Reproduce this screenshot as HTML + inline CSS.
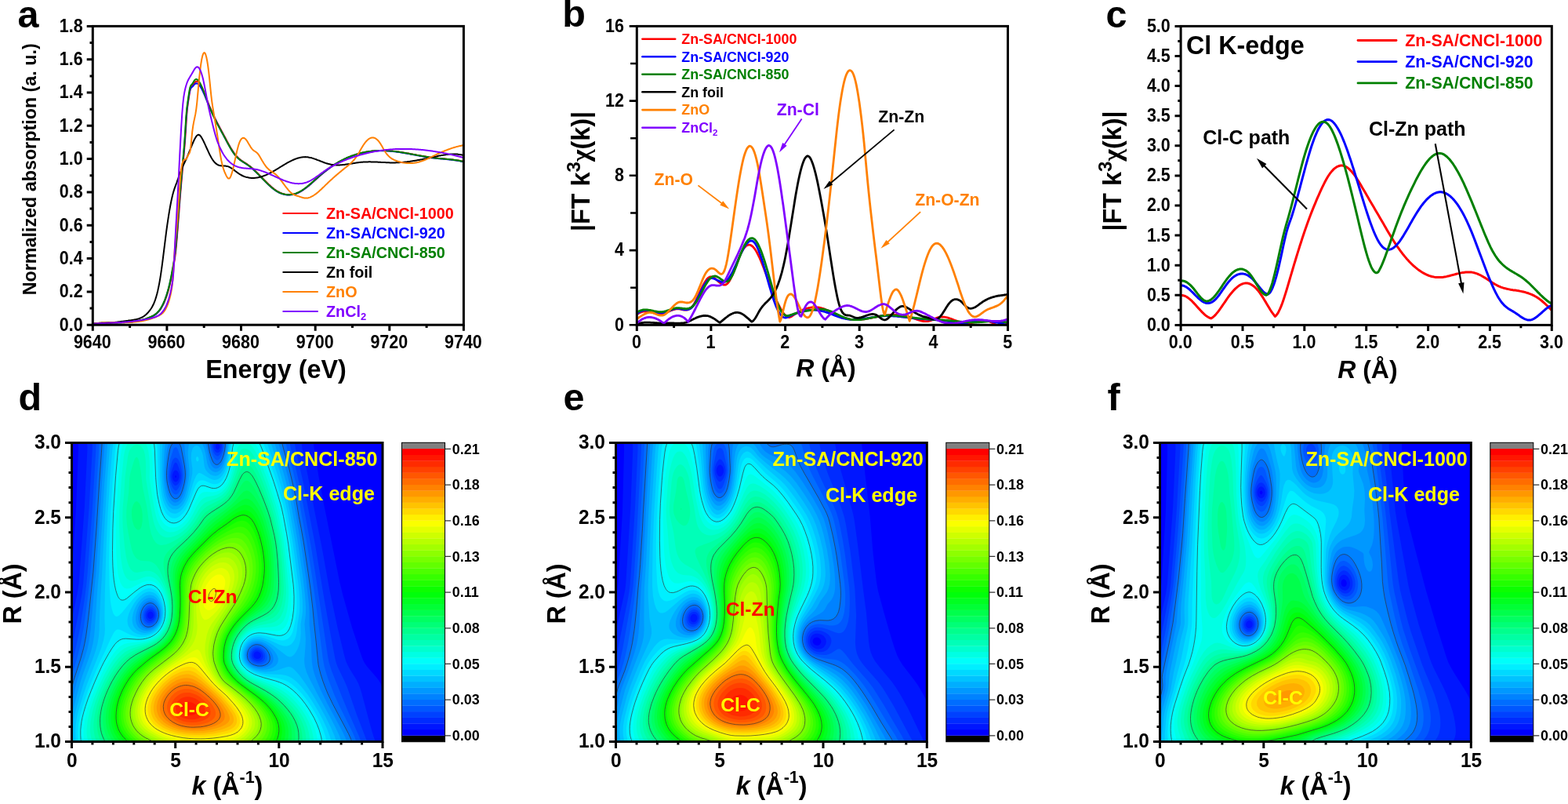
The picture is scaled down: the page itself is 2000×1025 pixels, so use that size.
<!DOCTYPE html>
<html lang="en"><head><meta charset="utf-8"><title>XANES, EXAFS and wavelet transform figure</title>
<style>
html,body{margin:0;padding:0;background:#fff}
body{width:2000px;height:1025px;overflow:hidden}
svg{display:block;font-family:"Liberation Sans",sans-serif;font-weight:bold}
</style></head><body>
<svg width="2000" height="1025" viewBox="0 0 2000 1025">
<rect width="2000" height="1025" fill="#fff"/>
<g id="pa">
<svg x="118.3" y="33.4" width="473.1" height="380.8" viewBox="118.3 33.4 473.1 380.8" overflow="hidden"><g fill="none" stroke-width="2" stroke-linejoin="round">
<path d="M118.9 412.7l1-0.1l1-0.2l1-0.1l1-0.1l1-0.1l1-0.1l1-0.1l1-0.1l1-0.1l1 0l1-0.1l1-0.1l1 0l1 0l1-0.1l1 0l1 0l1-0.1l1 0l1 0l1 0l1 0l1-0.1l1 0l1 0l1 0l1 0l1 0l1 0l1 0l1 0l1-0.1l1 0l1 0l1 0l1 0l1-0.1l1 0l1 0l1-0.1l1 0l1-0.1l1 0l1-0.1l1-0.1l1 0l1-0.1l1-0.1l1-0.1l1-0.1l1-0.1l1-0.2l1-0.1l1-0.2l1-0.1l1-0.2l1-0.2l1-0.2l1-0.2l1-0.2l1-0.2l1-0.3l1-0.2l1-0.3l1-0.3l1-0.3l1-0.3l1-0.4l1-0.3l1-0.4l1-0.4l1-0.4l1-0.4l1-0.4l1-0.5l1-0.5l1-0.5l1-0.6l1-0.7l1-0.7l1-0.8l1-0.9l1-1.1l1-1.1l1-1.2l1-1.4l1-1.6l1-1.7l1-1.9l1-2l1-2.2l1-2.5l1-2.6l1-2.9l1-3.2l1-3.4l1-3.8l1-4.1l1-4.6l1-5l1-5.4l1-5.6l1-5.4l1-6l1-7.5l1-9.8l1-11.5l1-12.7l1-13.2l1-13.2l1-12.6l1-11.9l1-11.3l1-11.1l1-10.9l1-11.1l1-11.9l1-14.8l1-16.6l1-11.5l1-7.3l1-6.7l1-6.6l1-4.9l1-2.4l1-1l1-0.9l1-1.3l1-1.5l1-1.2l1-0.7l1-0.3l1 0.2l1 0.6l1 0.9l1 1.3l1 1.6l1 1.8l1 2l1 2.2l1 2.3l1 2.5l1 2.6l1 2.6l1 2.6l1 2.6l1 2.6l1 2.5l1 2.4l1 2.3l1 2.3l1 2.2l1 2.2l1 2.1l1 2.1l1 2l1 2l1 2l1 1.9l1 1.9l1 1.9l1 1.9l1 1.8l1 1.9l1 1.8l1 1.9l1 1.9l1 1.8l1 1.9l1 1.9l1 1.9l1 1.8l1 1.9l1 1.7l1 1.8l1 1.7l1 1.6l1 1.6l1 1.5l1 1.5l1 1.3l1 1.2l1 1.2l1 1l1 1l1 0.9l1 0.8l1 0.8l1 0.8l1 0.6l1 0.7l1 0.7l1 0.6l1 0.6l1 0.6l1 0.7l1 0.7l1 0.7l1 0.7l1 0.7l1 0.8l1 0.9l1 0.8l1 0.9l1 0.9l1 1l1 0.9l1 1l1 1l1 1l1 1l1 1l1 1l1 1l1 1.1l1 1l1 1l1 1.1l1 1l1 1l1 1l1 1l1 0.9l1 1l1 0.9l1 0.9l1 0.9l1 0.9l1 0.8l1 0.8l1 0.8l1 0.7l1 0.7l1 0.7l1 0.6l1 0.6l1 0.5l1 0.5l1 0.4l1 0.4l1 0.4l1 0.3l1 0.3l1 0.3l1 0.2l1 0.1l1 0.2l1 0.1l1 0l1 0l1 0l1-0.1l1-0.1l1-0.1l1-0.2l1-0.2l1-0.3l1-0.3l1-0.3l1-0.4l1-0.4l1-0.5l1-0.4l1-0.6l1-0.5l1-0.6l1-0.6l1-0.7l1-0.7l1-0.7l1-0.7l1-0.8l1-0.8l1-0.8l1-0.8l1-0.8l1-0.9l1-0.8l1-0.9l1-0.9l1-0.9l1-0.9l1-0.9l1-0.9l1-0.9l1-0.9l1-0.9l1-0.9l1-0.9l1-0.8l1-0.9l1-0.9l1-0.8l1-0.8l1-0.8l1-0.8l1-0.8l1-0.8l1-0.7l1-0.8l1-0.7l1-0.7l1-0.7l1-0.7l1-0.7l1-0.7l1-0.6l1-0.7l1-0.6l1-0.6l1-0.6l1-0.6l1-0.6l1-0.6l1-0.5l1-0.6l1-0.5l1-0.5l1-0.5l1-0.5l1-0.5l1-0.5l1-0.4l1-0.5l1-0.4l1-0.4l1-0.4l1-0.4l1-0.4l1-0.4l1-0.4l1-0.3l1-0.4l1-0.3l1-0.3l1-0.4l1-0.3l1-0.2l1-0.3l1-0.3l1-0.3l1-0.2l1-0.3l1-0.2l1-0.2l1-0.2l1-0.2l1-0.2l1-0.2l1-0.2l1-0.1l1-0.2l1-0.1l1-0.1l1-0.2l1-0.1l1-0.1l1-0.1l1-0.1l1-0.1l1 0l1-0.1l1 0l1-0.1l1 0l1 0l1-0.1l1 0l1 0l1 0l1 0.1l1 0l1 0l1 0.1l1 0l1 0.1l1 0l1 0.1l1 0.1l1 0.1l1 0.1l1 0l1 0.2l1 0.1l1 0.1l1 0.1l1 0.1l1 0.2l1 0.1l1 0.1l1 0.2l1 0.1l1 0.2l1 0.1l1 0.2l1 0.2l1 0.1l1 0.2l1 0.2l1 0.2l1 0.1l1 0.2l1 0.2l1 0.2l1 0.2l1 0.2l1 0.1l1 0.2l1 0.2l1 0.2l1 0.2l1 0.2l1 0.2l1 0.2l1 0.1l1 0.2l1 0.2l1 0.2l1 0.2l1 0.1l1 0.2l1 0.2l1 0.2l1 0.1l1 0.2l1 0.2l1 0.1l1 0.2l1 0.1l1 0.2l1 0.1l1 0.2l1 0.1l1 0.1l1 0.1l1 0.1l1 0.2l1 0.1l1 0.1l1 0.1l1 0.1l1 0.1l1 0.1l1 0.1l1 0l1 0.1l1 0.1l1 0.1l1 0.1l1 0.1l1 0.1l1 0.1l1 0.1l1 0.1l1 0.1l1 0.1l1 0.1l1 0.1l1 0.1l1 0.1l1 0.2l1 0.1l1 0.2l1 0.1l1 0.2l1 0.1l1 0.2l1 0.2l1 0.2l1 0.2l1 0.2l1 0.2" stroke="#ff0000"/>
<path d="M118.5 413l1-0.1l1-0.1l1-0.2l1-0.1l1-0.1l1 0l1-0.1l1-0.1l1-0.1l1 0l1-0.1l1 0l1-0.1l1 0l1-0.1l1 0l1 0l1 0l1-0.1l1 0l1 0l1 0l1 0l1-0.1l1 0l1 0l1 0l1 0l1 0l1-0.1l1 0l1 0l1 0l1-0.1l1 0l1 0l1-0.1l1 0l1 0l1-0.1l1-0.1l1 0l1-0.1l1 0l1-0.1l1-0.1l1-0.1l1-0.1l1-0.1l1-0.1l1-0.2l1-0.1l1-0.1l1-0.2l1-0.1l1-0.2l1-0.2l1-0.2l1-0.2l1-0.2l1-0.3l1-0.2l1-0.3l1-0.2l1-0.3l1-0.3l1-0.3l1-0.3l1-0.4l1-0.3l1-0.4l1-0.4l1-0.4l1-0.4l1-0.4l1-0.5l1-0.5l1-0.6l1-0.6l1-0.7l1-0.8l1-1l1-1l1-1.1l1-1.3l1-1.4l1-1.6l1-1.7l1-1.9l1-2.1l1-2.4l1-2.5l1-2.7l1-3l1-3.3l1-3.5l1-3.7l1-4.1l1-4.3l1-4.6l1-4.9l1-5.4l1-6l1-6.9l1-8l1-9.2l1-10.7l1-12.4l1-13.8l1-13.7l1-11.9l1-11.4l1-12.1l1-11.7l1-10.2l1-10.3l1-12.7l1-15.2l1-15.5l1-11.3l1-7.8l1-6.9l1-6.2l1-4.4l1-2.1l1-0.9l1-0.8l1-1.1l1-1.3l1-1l1-0.7l1-0.2l1 0.2l1 0.5l1 0.9l1 1.1l1 1.4l1 1.7l1 1.8l1 2.1l1 2.1l1 2.3l1 2.4l1 2.5l1 2.4l1 2.5l1 2.4l1 2.4l1 2.3l1 2.3l1 2.2l1 2.2l1 2.2l1 2.1l1 2l1 2l1 2l1 2l1 2l1 1.9l1 1.9l1 1.9l1 1.9l1 1.9l1 1.9l1 1.8l1 1.9l1 1.9l1 1.9l1 1.9l1 1.9l1 1.8l1 1.8l1 1.8l1 1.8l1 1.7l1 1.6l1 1.5l1 1.5l1 1.5l1 1.3l1 1.2l1 1.1l1 1.1l1 1l1 0.8l1 0.9l1 0.8l1 0.7l1 0.7l1 0.7l1 0.6l1 0.7l1 0.6l1 0.6l1 0.7l1 0.6l1 0.7l1 0.8l1 0.7l1 0.8l1 0.9l1 0.8l1 0.9l1 0.9l1 1l1 0.9l1 1l1 1l1 1l1 1l1 1l1 1l1 1.1l1 1l1 1l1 1l1 1.1l1 1l1 1l1 1l1 1l1 0.9l1 1l1 0.9l1 0.9l1 0.9l1 0.9l1 0.8l1 0.8l1 0.8l1 0.7l1 0.7l1 0.7l1 0.6l1 0.6l1 0.5l1 0.5l1 0.4l1 0.4l1 0.4l1 0.3l1 0.3l1 0.3l1 0.2l1 0.1l1 0.2l1 0.1l1 0l1 0l1 0l1-0.1l1-0.1l1-0.1l1-0.2l1-0.2l1-0.3l1-0.3l1-0.3l1-0.4l1-0.4l1-0.5l1-0.4l1-0.6l1-0.5l1-0.6l1-0.6l1-0.7l1-0.7l1-0.7l1-0.7l1-0.8l1-0.7l1-0.9l1-0.8l1-0.8l1-0.9l1-0.8l1-0.9l1-0.9l1-0.9l1-0.9l1-0.9l1-0.9l1-0.9l1-0.9l1-0.9l1-0.9l1-0.9l1-0.8l1-0.9l1-0.9l1-0.8l1-0.8l1-0.8l1-0.8l1-0.8l1-0.8l1-0.7l1-0.8l1-0.7l1-0.7l1-0.7l1-0.7l1-0.7l1-0.7l1-0.6l1-0.7l1-0.6l1-0.6l1-0.6l1-0.6l1-0.6l1-0.6l1-0.5l1-0.6l1-0.5l1-0.5l1-0.5l1-0.5l1-0.5l1-0.5l1-0.4l1-0.5l1-0.4l1-0.4l1-0.4l1-0.4l1-0.4l1-0.4l1-0.4l1-0.3l1-0.4l1-0.3l1-0.3l1-0.4l1-0.3l1-0.2l1-0.3l1-0.3l1-0.3l1-0.2l1-0.3l1-0.2l1-0.2l1-0.2l1-0.2l1-0.2l1-0.2l1-0.2l1-0.1l1-0.2l1-0.1l1-0.1l1-0.2l1-0.1l1-0.1l1-0.1l1-0.1l1-0.1l1 0l1-0.1l1 0l1-0.1l1 0l1 0l1-0.1l1 0l1 0l1 0l1 0.1l1 0l1 0l1 0.1l1 0l1 0.1l1 0l1 0.1l1 0.1l1 0.1l1 0.1l1 0l1 0.2l1 0.1l1 0.1l1 0.1l1 0.1l1 0.2l1 0.1l1 0.1l1 0.2l1 0.1l1 0.2l1 0.1l1 0.2l1 0.2l1 0.1l1 0.2l1 0.2l1 0.2l1 0.1l1 0.2l1 0.2l1 0.2l1 0.2l1 0.2l1 0.1l1 0.2l1 0.2l1 0.2l1 0.2l1 0.2l1 0.2l1 0.2l1 0.1l1 0.2l1 0.2l1 0.2l1 0.2l1 0.1l1 0.2l1 0.2l1 0.2l1 0.1l1 0.2l1 0.2l1 0.1l1 0.2l1 0.1l1 0.2l1 0.1l1 0.2l1 0.1l1 0.1l1 0.1l1 0.1l1 0.2l1 0.1l1 0.1l1 0.1l1 0.1l1 0.1l1 0.1l1 0.1l1 0l1 0.1l1 0.1l1 0.1l1 0.1l1 0.1l1 0.1l1 0.1l1 0.1l1 0.1l1 0.1l1 0.1l1 0.1l1 0.1l1 0.1l1 0.1l1 0.2l1 0.1l1 0.2l1 0.1l1 0.2l1 0.1l1 0.2l1 0.2l1 0.2l1 0.2l1 0.2l1 0.2" stroke="#0000ff"/>
<path d="M118.3 412.7l1-0.1l1-0.2l1-0.1l1-0.1l1-0.1l1-0.1l1-0.1l1-0.1l1-0.1l1 0l1-0.1l1-0.1l1 0l1 0l1-0.1l1 0l1-0.1l1 0l1 0l1 0l1 0l1 0l1-0.1l1 0l1 0l1 0l1 0l1 0l1 0l1 0l1 0l1-0.1l1 0l1 0l1 0l1 0l1-0.1l1 0l1 0l1-0.1l1 0l1-0.1l1 0l1-0.1l1-0.1l1 0l1-0.1l1-0.1l1-0.1l1-0.1l1-0.1l1-0.2l1-0.1l1-0.2l1-0.1l1-0.2l1-0.2l1-0.2l1-0.2l1-0.2l1-0.2l1-0.3l1-0.2l1-0.3l1-0.3l1-0.3l1-0.3l1-0.4l1-0.3l1-0.4l1-0.4l1-0.4l1-0.4l1-0.4l1-0.5l1-0.5l1-0.5l1-0.6l1-0.7l1-0.7l1-0.8l1-0.9l1-1.1l1-1.1l1-1.2l1-1.4l1-1.6l1-1.7l1-1.9l1-2l1-2.2l1-2.5l1-2.6l1-2.9l1-3.2l1-3.4l1-3.8l1-4.1l1-4.6l1-5l1-5.4l1-5.6l1-5.4l1-6l1-7.5l1-9.8l1-11.5l1-12.7l1-13.3l1-13.1l1-12.5l1-11.9l1-11.4l1-11.2l1-11.1l1-11l1-11.6l1-14.9l1-17.1l1-11.6l1-7.2l1-6.7l1-6.9l1-5.2l1-2.6l1-1.2l1-1l1-1.6l1-1.8l1-1.5l1-0.8l1-0.3l1 0.2l1 0.7l1 1.1l1 1.5l1 1.7l1 2l1 2.2l1 2.4l1 2.5l1 2.7l1 2.7l1 2.8l1 2.7l1 2.8l1 2.7l1 2.6l1 2.5l1 2.4l1 2.3l1 2.3l1 2.2l1 2.1l1 2.1l1 2l1 2l1 2l1 1.9l1 1.9l1 1.9l1 1.8l1 1.8l1 1.9l1 1.8l1 1.9l1 1.8l1 1.9l1 1.8l1 1.9l1 1.9l1 1.9l1 1.8l1 1.8l1 1.8l1 1.7l1 1.6l1 1.6l1 1.5l1 1.5l1 1.3l1 1.3l1 1.1l1 1.1l1 0.9l1 0.9l1 0.9l1 0.8l1 0.7l1 0.7l1 0.6l1 0.7l1 0.6l1 0.6l1 0.7l1 0.6l1 0.7l1 0.7l1 0.7l1 0.7l1 0.8l1 0.9l1 0.8l1 0.9l1 0.9l1 0.9l1 1l1 1l1 0.9l1 1l1 1l1 1.1l1 1l1 1l1 1.1l1 1l1 1l1 1l1 1.1l1 1l1 1l1 1l1 0.9l1 1l1 0.9l1 0.9l1 0.9l1 0.9l1 0.8l1 0.8l1 0.8l1 0.7l1 0.7l1 0.7l1 0.6l1 0.6l1 0.5l1 0.5l1 0.4l1 0.5l1 0.3l1 0.3l1 0.3l1 0.3l1 0.2l1 0.2l1 0.1l1 0.1l1 0l1 0l1 0l1-0.1l1-0.1l1-0.1l1-0.2l1-0.2l1-0.3l1-0.3l1-0.3l1-0.4l1-0.4l1-0.5l1-0.4l1-0.6l1-0.5l1-0.6l1-0.6l1-0.7l1-0.7l1-0.7l1-0.7l1-0.8l1-0.8l1-0.8l1-0.8l1-0.8l1-0.9l1-0.8l1-0.9l1-0.9l1-0.9l1-0.9l1-0.9l1-0.9l1-0.9l1-0.9l1-0.9l1-0.9l1-0.9l1-0.8l1-0.9l1-0.9l1-0.8l1-0.8l1-0.8l1-0.8l1-0.8l1-0.8l1-0.7l1-0.8l1-0.7l1-0.7l1-0.7l1-0.7l1-0.7l1-0.7l1-0.6l1-0.7l1-0.6l1-0.6l1-0.6l1-0.6l1-0.6l1-0.6l1-0.5l1-0.6l1-0.5l1-0.5l1-0.5l1-0.5l1-0.5l1-0.5l1-0.4l1-0.5l1-0.4l1-0.4l1-0.4l1-0.4l1-0.4l1-0.4l1-0.4l1-0.3l1-0.4l1-0.3l1-0.3l1-0.4l1-0.3l1-0.2l1-0.3l1-0.3l1-0.3l1-0.2l1-0.3l1-0.2l1-0.2l1-0.2l1-0.2l1-0.2l1-0.2l1-0.2l1-0.1l1-0.2l1-0.1l1-0.1l1-0.2l1-0.1l1-0.1l1-0.1l1-0.1l1-0.1l1 0l1-0.1l1 0l1-0.1l1 0l1 0l1-0.1l1 0l1 0l1 0l1 0.1l1 0l1 0l1 0.1l1 0l1 0.1l1 0l1 0.1l1 0.1l1 0.1l1 0l1 0.1l1 0.2l1 0.1l1 0.1l1 0.1l1 0.1l1 0.2l1 0.1l1 0.1l1 0.2l1 0.1l1 0.2l1 0.1l1 0.2l1 0.2l1 0.1l1 0.2l1 0.2l1 0.2l1 0.1l1 0.2l1 0.2l1 0.2l1 0.2l1 0.2l1 0.1l1 0.2l1 0.2l1 0.2l1 0.2l1 0.2l1 0.2l1 0.2l1 0.1l1 0.2l1 0.2l1 0.2l1 0.2l1 0.1l1 0.2l1 0.2l1 0.2l1 0.1l1 0.2l1 0.2l1 0.1l1 0.2l1 0.1l1 0.2l1 0.1l1 0.2l1 0.1l1 0.1l1 0.1l1 0.2l1 0.1l1 0.1l1 0.1l1 0.1l1 0.1l1 0.1l1 0.1l1 0.1l1 0l1 0.1l1 0.1l1 0.1l1 0.1l1 0.1l1 0.1l1 0.1l1 0.1l1 0.1l1 0.1l1 0.1l1 0.1l1 0.1l1 0.1l1 0.1l1 0.2l1 0.1l1 0.2l1 0.1l1 0.2l1 0.1l1 0.2l1 0.2l1 0.2l1 0.2l1 0.2l1 0.2" stroke="#008000"/>
<path d="M118.3 412.7l1 0l1 0l1 0l1 0l1-0.1l1 0l1 0l1-0.1l1 0l1-0.1l1 0l1-0.1l1 0l1-0.1l1-0.1l1 0l1-0.1l1-0.1l1-0.1l1-0.1l1-0.1l1-0.1l1-0.1l1-0.1l1-0.1l1-0.1l1-0.1l1-0.1l1-0.1l1-0.1l1-0.1l1-0.2l1-0.1l1-0.1l1-0.1l1-0.2l1-0.1l1-0.1l1-0.1l1-0.2l1-0.1l1-0.1l1-0.2l1-0.1l1-0.1l1-0.2l1-0.1l1-0.1l1-0.2l1-0.1l1-0.2l1-0.1l1-0.2l1-0.1l1-0.2l1-0.2l1-0.3l1-0.3l1-0.3l1-0.4l1-0.4l1-0.4l1-0.5l1-0.6l1-0.6l1-0.7l1-0.8l1-0.8l1-1l1-1l1-1.1l1-1.2l1-1.3l1-1.4l1-1.5l1-1.7l1-2l1-2.1l1-2.5l1-2.9l1-3.2l1-3.6l1-4.1l1-4.7l1-5.1l1-5.8l1-6.4l1-7.1l1-7.5l1-7.9l1-8l1-8.1l1-8l1-7.6l1-7.3l1-6.8l1-6.5l1-6l1-5.6l1-5.1l1-4.7l1-4.2l1-3.6l1-3.2l1-2.9l1-2.7l1-2.6l1-2.8l1-2.7l1-2.8l1-2.7l1-2.7l1-2.6l1-2.5l1-2.4l1-2.2l1-2.1l1-2.1l1-2.1l1-2.2l1-2.3l1-2.4l1-2.5l1-2.6l1-2.5l1-2.5l1-2.5l1-2.3l1-2.2l1-2l1-1.8l1-1.6l1-1.2l1-0.7l1-0.3l1 0.4l1 0.8l1 1.2l1 1.6l1 1.8l1 1.9l1 2.1l1 2.1l1 2.2l1 2.2l1 2.3l1 2.1l1 2.2l1 2.1l1 1.9l1 1.9l1 1.7l1 1.6l1 1.4l1 1.3l1 1l1 0.9l1 0.8l1 0.6l1 0.5l1 0.4l1 0.3l1 0.2l1 0.1l1 0.1l1 0.1l1 0l1 0l1 0.1l1 0.1l1 0.2l1 0.2l1 0.3l1 0.4l1 0.5l1 0.6l1 0.6l1 0.7l1 0.7l1 0.7l1 0.8l1 0.8l1 0.7l1 0.8l1 0.7l1 0.7l1 0.7l1 0.6l1 0.6l1 0.5l1 0.5l1 0.5l1 0.4l1 0.3l1 0.4l1 0.3l1 0.2l1 0.2l1 0.2l1 0.2l1 0.1l1 0.1l1 0l1 0.1l1-0.1l1 0l1-0.1l1-0.1l1-0.1l1-0.2l1-0.1l1-0.3l1-0.2l1-0.2l1-0.3l1-0.3l1-0.4l1-0.3l1-0.4l1-0.4l1-0.4l1-0.5l1-0.4l1-0.5l1-0.5l1-0.5l1-0.5l1-0.6l1-0.5l1-0.6l1-0.5l1-0.6l1-0.6l1-0.6l1-0.6l1-0.6l1-0.6l1-0.7l1-0.6l1-0.6l1-0.6l1-0.6l1-0.6l1-0.6l1-0.6l1-0.6l1-0.6l1-0.6l1-0.5l1-0.6l1-0.5l1-0.5l1-0.5l1-0.5l1-0.5l1-0.4l1-0.4l1-0.4l1-0.4l1-0.4l1-0.3l1-0.3l1-0.3l1-0.2l1-0.3l1-0.1l1-0.2l1-0.1l1-0.1l1 0l1-0.1l1 0.1l1 0l1 0.1l1 0.2l1 0.2l1 0.2l1 0.2l1 0.2l1 0.3l1 0.3l1 0.3l1 0.4l1 0.3l1 0.4l1 0.4l1 0.4l1 0.3l1 0.4l1 0.4l1 0.4l1 0.4l1 0.4l1 0.4l1 0.4l1 0.3l1 0.4l1 0.3l1 0.3l1 0.3l1 0.3l1 0.2l1 0.2l1 0.2l1 0.2l1 0.1l1 0.2l1 0l1 0.1l1 0.1l1 0l1 0l1 0l1 0l1 0l1-0.1l1 0l1-0.1l1-0.1l1-0.1l1-0.1l1-0.2l1-0.1l1-0.1l1-0.2l1-0.1l1-0.2l1-0.1l1-0.2l1-0.1l1-0.2l1-0.2l1-0.1l1-0.2l1-0.1l1-0.2l1-0.1l1-0.2l1-0.1l1-0.1l1-0.1l1-0.2l1-0.1l1 0l1-0.1l1-0.1l1 0l1-0.1l1 0l1 0l1 0l1-0.1l1 0l1 0l1 0.1l1 0l1 0l1 0l1 0.1l1 0l1 0l1 0.1l1 0l1 0.1l1 0l1 0.1l1 0l1 0.1l1 0l1 0.1l1 0l1 0.1l1 0l1 0.1l1 0l1 0.1l1 0l1 0l1 0.1l1 0l1 0l1 0l1 0l1 0l1 0l1 0l1-0.1l1 0l1 0l1-0.1l1 0l1-0.1l1-0.1l1 0l1-0.1l1-0.1l1-0.1l1-0.1l1-0.1l1-0.1l1-0.1l1-0.2l1-0.1l1-0.1l1-0.2l1-0.1l1-0.1l1-0.2l1-0.2l1-0.1l1-0.2l1-0.1l1-0.2l1-0.2l1-0.2l1-0.1l1-0.2l1-0.2l1-0.2l1-0.2l1-0.2l1-0.2l1-0.2l1-0.2l1-0.2l1-0.2l1-0.2l1-0.2l1-0.2l1-0.2l1-0.2l1-0.3l1-0.2l1-0.2l1-0.2l1-0.2l1-0.2l1-0.2l1-0.2l1-0.3l1-0.2l1-0.2l1-0.2l1-0.1l1-0.2l1-0.2l1-0.2l1-0.2l1-0.1l1-0.2l1-0.1l1-0.1l1-0.1l1-0.1l1-0.1l1-0.1l1-0.1l1 0l1 0l1-0.1l1 0l1 0.1l1 0l1 0.1l1 0l1 0.1l1 0.2l1 0.1l1 0.2l1 0.1l1 0.3l1 0.2" stroke="#000000"/>
<path d="M118.3 412.9l1-0.1l1-0.2l1-0.1l1-0.1l1-0.2l1-0.1l1-0.1l1 0l1-0.1l1-0.1l1-0.1l1 0l1-0.1l1 0l1-0.1l1 0l1 0l1-0.1l1 0l1 0l1 0l1-0.1l1 0l1 0l1 0l1 0l1 0l1 0l1 0l1 0l1 0l1 0l1 0l1-0.1l1 0l1 0l1 0l1 0l1 0l1 0l1 0l1-0.1l1 0l1 0l1-0.1l1 0l1-0.1l1 0l1-0.1l1 0l1-0.1l1-0.1l1-0.1l1-0.1l1-0.1l1-0.1l1-0.1l1-0.1l1-0.2l1-0.1l1-0.2l1-0.1l1-0.2l1-0.2l1-0.2l1-0.2l1-0.2l1-0.3l1-0.2l1-0.3l1-0.2l1-0.3l1-0.3l1-0.3l1-0.4l1-0.3l1-0.4l1-0.3l1-0.4l1-0.4l1-0.5l1-0.4l1-0.5l1-0.4l1-0.5l1-0.6l1-0.6l1-0.7l1-0.9l1-1l1-1.2l1-1.4l1-1.7l1-2l1-2.3l1-2.5l1-3l1-3.3l1-3.9l1-4.7l1-6.1l1-8.3l1-13.4l1-18.7l1-14.7l1-10.3l1-9.5l1-11.8l1-14l1-14.6l1-14.2l1-12.3l1-9.2l1-6l1-3.4l1-1.6l1-0.6l1-0.1l1-0.6l1-1.4l1-2.1l1-2l1-1.5l1-2.5l1-5.7l1-10.3l1-9.9l1-7.1l1-5.4l1-4.6l1-4.9l1-6.3l1-8.6l1-10.9l1-11.5l1-10.3l1-8.9l1-7.4l1-6l1-4.4l1-2.8l1-1.2l1 0.4l1 2l1 3.5l1 5l1 6.5l1 7.9l1 9.3l1 9.9l1 9.7l1 8.3l1 6.8l1 6.1l1 5.9l1 5.9l1 6.1l1 6.2l1 6.4l1 6.6l1 6.7l1 6.4l1 6.1l1 5.6l1 4.7l1 3.9l1 3.2l1 2.7l1 2.3l1 2.2l1 1.9l1 1.5l1 0.8l1 0l1-0.8l1-1.9l1-2.7l1-3.4l1-3.9l1-4.3l1-4.6l1-4.6l1-4.6l1-4.4l1-4l1-3.6l1-2.9l1-2.3l1-1.7l1-1.2l1-0.7l1-0.2l1 0.1l1 0.6l1 0.9l1 1.2l1 1.4l1 1.7l1 1.7l1 1.7l1 1.7l1 1.6l1 1.3l1 1.1l1 0.9l1 0.7l1 0.6l1 0.7l1 0.7l1 0.9l1 1.2l1 1.4l1 1.6l1 1.7l1 1.7l1 1.8l1 1.6l1 1.7l1 1.5l1 1.4l1 1.4l1 1.2l1 1.1l1 0.9l1 0.9l1 0.8l1 0.7l1 0.7l1 0.6l1 0.7l1 0.7l1 0.7l1 0.8l1 0.8l1 1l1 1l1 1.1l1 1.2l1 1.3l1 1.3l1 1.3l1 1.3l1 1.4l1 1.4l1 1.3l1 1.4l1 1.3l1 1.2l1 1.3l1 1.1l1 1.1l1 1l1 0.9l1 0.7l1 0.7l1 0.6l1 0.5l1 0.4l1 0.4l1 0.4l1 0.3l1 0.3l1 0.3l1 0.4l1 0.3l1 0.3l1 0.3l1 0.3l1 0.2l1 0.2l1 0.1l1 0l1 0l1-0.1l1-0.2l1-0.3l1-0.3l1-0.4l1-0.5l1-0.5l1-0.6l1-0.6l1-0.7l1-0.7l1-0.7l1-0.8l1-0.8l1-0.9l1-0.9l1-0.9l1-0.9l1-0.9l1-1l1-1l1-0.9l1-1l1-1l1-1l1-0.9l1-1l1-0.9l1-1l1-0.9l1-0.9l1-0.9l1-0.9l1-0.9l1-0.9l1-0.9l1-0.9l1-0.8l1-0.9l1-0.8l1-0.9l1-0.8l1-0.8l1-0.8l1-0.9l1-0.8l1-0.8l1-0.8l1-0.8l1-0.8l1-0.8l1-0.8l1-0.8l1-0.8l1-0.9l1-0.9l1-1l1-1l1-1.1l1-1.1l1-1.2l1-1.2l1-1.4l1-1.4l1-1.6l1-1.6l1-1.7l1-1.8l1-1.8l1-1.7l1-1.7l1-1.6l1-1.5l1-1.4l1-1.3l1-1.1l1-1.1l1-0.9l1-0.8l1-0.6l1-0.5l1-0.4l1-0.2l1-0.1l1 0.1l1 0.3l1 0.3l1 0.6l1 0.7l1 0.9l1 1l1 1.1l1 1.4l1 1.4l1 1.7l1 1.7l1 1.8l1 1.8l1 1.7l1 1.6l1 1.5l1 1.3l1 1.2l1 1.1l1 1l1 0.9l1 0.8l1 0.6l1 0.7l1 0.5l1 0.5l1 0.5l1 0.4l1 0.4l1 0.4l1 0.3l1 0.3l1 0.3l1 0.3l1 0.3l1 0.2l1 0.2l1 0.2l1 0.2l1 0.1l1 0.1l1 0.1l1 0.1l1 0l1 0.1l1 0l1 0l1-0.1l1 0l1-0.1l1-0.1l1-0.1l1-0.2l1-0.1l1-0.2l1-0.2l1-0.3l1-0.2l1-0.3l1-0.3l1-0.3l1-0.3l1-0.4l1-0.4l1-0.3l1-0.5l1-0.4l1-0.4l1-0.5l1-0.4l1-0.5l1-0.5l1-0.4l1-0.5l1-0.5l1-0.5l1-0.5l1-0.5l1-0.4l1-0.5l1-0.5l1-0.5l1-0.4l1-0.5l1-0.4l1-0.5l1-0.4l1-0.5l1-0.4l1-0.4l1-0.4l1-0.4l1-0.4l1-0.4l1-0.4l1-0.4l1-0.3l1-0.4l1-0.3l1-0.4l1-0.3l1-0.3l1-0.3l1-0.3l1-0.3l1-0.3l1-0.2l1-0.3l1-0.2l1-0.3l1-0.2l1-0.2l1-0.2l1-0.2" stroke="#ff8000"/>
<path d="M118.3 412.7l1-0.1l1 0l1-0.1l1 0l1-0.1l1-0.1l1 0l1-0.1l1 0l1-0.1l1 0l1 0l1-0.1l1 0l1-0.1l1 0l1-0.1l1 0l1 0l1-0.1l1 0l1-0.1l1 0l1-0.1l1 0l1 0l1-0.1l1 0l1-0.1l1 0l1-0.1l1 0l1-0.1l1 0l1-0.1l1-0.1l1 0l1-0.1l1-0.1l1 0l1-0.1l1-0.1l1-0.1l1 0l1-0.1l1-0.1l1-0.1l1-0.1l1-0.1l1-0.1l1-0.1l1-0.1l1-0.1l1-0.2l1-0.1l1-0.1l1-0.2l1-0.1l1-0.1l1-0.2l1-0.2l1-0.1l1-0.2l1-0.2l1-0.1l1-0.2l1-0.2l1-0.2l1-0.2l1-0.2l1-0.3l1-0.2l1-0.2l1-0.3l1-0.2l1-0.3l1-0.2l1-0.3l1-0.3l1-0.3l1-0.4l1-0.5l1-0.5l1-0.6l1-0.7l1-0.8l1-0.9l1-1l1-1.2l1-1.3l1-1.4l1-1.7l1-1.9l1-2.1l1-2.4l1-2.8l1-3.1l1-3.5l1-3.9l1-4.5l1-5.1l1-6.4l1-10.4l1-17.3l1-20.4l1-19.2l1-17.3l1-17.1l1-18.5l1-20.2l1-19.9l1-19l1-17.8l1-15.8l1-12.1l1-8.7l1-6.1l1-4.6l1-3.7l1-3.1l1-2.6l1-2.1l1-1.8l1-1.7l1-1.6l1-1.6l1-1.7l1-1.9l1-1.7l1-1.6l1-1.3l1-0.9l1-0.4l1 0.1l1 0.7l1 1.3l1 1.8l1 2.4l1 2.9l1 3.5l1 4.1l1 4.6l1 5.2l1 5.4l1 5.5l1 5.4l1 5.2l1 4.7l1 4.4l1 4.2l1 4.1l1 4.1l1 4.1l1 4.1l1 4l1 3.7l1 3.4l1 3.2l1 2.9l1 2.6l1 2.5l1 2.3l1 2.1l1 2l1 1.9l1 1.8l1 1.7l1 1.5l1 1.5l1 1.3l1 1.3l1 1.2l1 1l1 1l1 0.9l1 0.9l1 0.8l1 0.7l1 0.6l1 0.6l1 0.6l1 0.5l1 0.4l1 0.4l1 0.4l1 0.3l1 0.3l1 0.2l1 0.2l1 0.2l1 0.2l1 0.1l1 0.1l1 0.1l1 0.1l1 0.1l1 0.1l1 0l1 0.1l1 0.1l1 0l1 0.1l1 0.1l1 0.1l1 0.1l1 0.2l1 0.1l1 0.2l1 0.2l1 0.2l1 0.3l1 0.2l1 0.3l1 0.3l1 0.3l1 0.4l1 0.3l1 0.4l1 0.3l1 0.4l1 0.4l1 0.4l1 0.5l1 0.4l1 0.4l1 0.5l1 0.4l1 0.5l1 0.4l1 0.5l1 0.4l1 0.5l1 0.5l1 0.4l1 0.5l1 0.4l1 0.5l1 0.4l1 0.5l1 0.4l1 0.4l1 0.5l1 0.4l1 0.4l1 0.3l1 0.4l1 0.4l1 0.3l1 0.3l1 0.3l1 0.3l1 0.3l1 0.2l1 0.3l1 0.2l1 0.2l1 0.1l1 0.2l1 0.1l1 0.1l1 0l1 0.1l1 0l1-0.1l1 0l1-0.1l1-0.1l1-0.2l1-0.2l1-0.2l1-0.3l1-0.3l1-0.3l1-0.4l1-0.5l1-0.4l1-0.5l1-0.5l1-0.6l1-0.6l1-0.6l1-0.6l1-0.7l1-0.7l1-0.7l1-0.7l1-0.7l1-0.7l1-0.7l1-0.8l1-0.7l1-0.7l1-0.7l1-0.7l1-0.8l1-0.6l1-0.7l1-0.7l1-0.6l1-0.7l1-0.6l1-0.6l1-0.6l1-0.6l1-0.5l1-0.6l1-0.5l1-0.6l1-0.5l1-0.5l1-0.5l1-0.5l1-0.5l1-0.4l1-0.5l1-0.5l1-0.4l1-0.4l1-0.5l1-0.4l1-0.4l1-0.4l1-0.4l1-0.4l1-0.4l1-0.3l1-0.4l1-0.4l1-0.3l1-0.4l1-0.3l1-0.4l1-0.3l1-0.3l1-0.4l1-0.3l1-0.3l1-0.3l1-0.3l1-0.3l1-0.3l1-0.3l1-0.3l1-0.2l1-0.3l1-0.3l1-0.2l1-0.3l1-0.2l1-0.3l1-0.2l1-0.2l1-0.2l1-0.3l1-0.2l1-0.2l1-0.2l1-0.2l1-0.2l1-0.2l1-0.1l1-0.2l1-0.2l1-0.2l1-0.1l1-0.2l1-0.1l1-0.2l1-0.1l1-0.1l1-0.2l1-0.1l1-0.1l1-0.1l1-0.1l1-0.1l1-0.1l1-0.1l1-0.1l1-0.1l1 0l1-0.1l1-0.1l1 0l1-0.1l1-0.1l1 0l1 0l1-0.1l1 0l1-0.1l1 0l1 0l1 0l1 0l1 0l1 0l1 0l1 0l1 0l1 0l1 0l1 0.1l1 0l1 0l1 0.1l1 0l1 0.1l1 0l1 0.1l1 0l1 0.1l1 0l1 0.1l1 0.1l1 0.1l1 0.1l1 0l1 0.1l1 0.1l1 0.1l1 0.1l1 0.1l1 0.2l1 0.1l1 0.1l1 0.1l1 0.1l1 0.2l1 0.1l1 0.1l1 0.2l1 0.1l1 0.2l1 0.1l1 0.2l1 0.1l1 0.2l1 0.2l1 0.1l1 0.2l1 0.2l1 0.2l1 0.1l1 0.2l1 0.2l1 0.2l1 0.2l1 0.2l1 0.2l1 0.2l1 0.2l1 0.2l1 0.2l1 0.3l1 0.2l1 0.2l1 0.2l1 0.3l1 0.2l1 0.2l1 0.3l1 0.2l1 0.3l1 0.2l1 0.3l1 0.2l1 0.3l1 0.2l1 0.3l1 0.2l1 0.3" stroke="#8000ff"/>
</g></svg>
<rect x="118.3" y="33.4" width="473.1" height="380.8" fill="none" stroke="#000" stroke-width="3"/>
<path d="M118.3 414.2v7.6M165.6 414.2v3.8M212.9 414.2v7.6M260.2 414.2v3.8M307.5 414.2v7.6M354.9 414.2v3.8M402.2 414.2v7.6M449.5 414.2v3.8M496.8 414.2v7.6M544.1 414.2v3.8M591.4 414.2v7.6M118.3 414.2h-7.6M118.3 393.0h-3.8M118.3 371.9h-7.6M118.3 350.7h-3.8M118.3 329.6h-7.6M118.3 308.4h-3.8M118.3 287.3h-7.6M118.3 266.1h-3.8M118.3 245.0h-7.6M118.3 223.8h-3.8M118.3 202.6h-7.6M118.3 181.5h-3.8M118.3 160.3h-7.6M118.3 139.2h-3.8M118.3 118.0h-7.6M118.3 96.9h-3.8M118.3 75.7h-7.6M118.3 54.6h-3.8M118.3 33.4h-7.6" stroke="#000" stroke-width="3" fill="none"/>
<g font-size="23.2" text-anchor="middle">
<text transform="translate(117.8 444.1) scale(0.927 1)">9640</text>
<text transform="translate(212.4 444.1) scale(0.927 1)">9660</text>
<text transform="translate(307.0 444.1) scale(0.927 1)">9680</text>
<text transform="translate(401.7 444.1) scale(0.927 1)">9700</text>
<text transform="translate(496.3 444.1) scale(0.927 1)">9720</text>
<text transform="translate(590.9 444.1) scale(0.927 1)">9740</text>
</g>
<g font-size="23.2" text-anchor="end">
<text transform="translate(105.6 421.6) scale(0.927 1)">0.0</text>
<text transform="translate(105.6 379.3) scale(0.927 1)">0.2</text>
<text transform="translate(105.6 337.0) scale(0.927 1)">0.4</text>
<text transform="translate(105.6 294.7) scale(0.927 1)">0.6</text>
<text transform="translate(105.6 252.4) scale(0.927 1)">0.8</text>
<text transform="translate(105.6 210.0) scale(0.927 1)">1.0</text>
<text transform="translate(105.6 167.7) scale(0.927 1)">1.2</text>
<text transform="translate(105.6 125.4) scale(0.927 1)">1.4</text>
<text transform="translate(105.6 83.1) scale(0.927 1)">1.6</text>
<text transform="translate(105.6 40.8) scale(0.927 1)">1.8</text>
</g>
<text x="352" y="482.2" font-size="32.3" text-anchor="middle">Energy (eV)</text>
<text transform="translate(45.9 215.8) rotate(-90)" font-size="23.3" text-anchor="middle">Normalized absorption (a. u.)</text>
<text x="22.5" y="34.6" font-size="48.5">a</text>
<g font-size="19.8">
<line x1="360.5" y1="272.1" x2="405.8" y2="272.1" stroke="#ff0000" stroke-width="2"/>
<text x="416" y="278.9" fill="#ff0000">Zn-SA/CNCl-1000</text>
<line x1="360.5" y1="297.0" x2="405.8" y2="297.0" stroke="#0000ff" stroke-width="2"/>
<text x="416" y="303.8" fill="#0000ff">Zn-SA/CNCl-920</text>
<line x1="360.5" y1="322.1" x2="405.8" y2="322.1" stroke="#008000" stroke-width="2"/>
<text x="416" y="328.9" fill="#008000">Zn-SA/CNCl-850</text>
<line x1="360.5" y1="347.0" x2="405.8" y2="347.0" stroke="#000000" stroke-width="2"/>
<text x="416" y="353.8" fill="#000000">Zn foil</text>
<line x1="360.5" y1="372.1" x2="405.8" y2="372.1" stroke="#ff8000" stroke-width="2"/>
<text x="416" y="378.9" fill="#ff8000">ZnO</text>
<line x1="360.5" y1="397.0" x2="405.8" y2="397.0" stroke="#8000ff" stroke-width="2"/>
<text x="416" y="403.8" fill="#8000ff">ZnCl<tspan font-size="13" dy="4.5">2</tspan></text>
</g>
</g>
<g id="pb">
<svg x="812.3" y="33.4" width="473.2" height="380.9" viewBox="812.3 33.4 473.2 380.9" overflow="hidden"><g fill="none" stroke-width="2.8" stroke-linejoin="round">
<path d="M812.3 401.2l1.2-1l1.2-0.8l1.2-0.7l1.2-0.5l1.2-0.4l1.2-0.4l1.2-0.2l1.2-0.1l1.2-0.1l1.2 0.1l1.2 0.1l1.2 0.1l1.2 0.2l1.2 0.2l1.2 0.3l1.2 0.3l1.2 0.3l1.2 0.2l1.2 0.3l1.2 0.3l1.2 0.2l1.2 0.2l1.2 0.1l1.2 0.1l1.2 0l1.2 0l1.2-0.1l1.2-0.3l1.2-0.3l1.2-0.3l1.2-0.5l1.2-0.4l1.2-0.5l1.2-0.5l1.2-0.6l1.2-0.5l1.2-0.5l1.2-0.4l1.2-0.4l1.2-0.3l1.2-0.3l1.2-0.2l1.2-0.1l1.2 0l1.2 0.1l1.2 0.2l1.2 0.2l1.2 0.3l1.2 0.2l1.2 0.2l1.2 0.1l1.2 0l1.2-0.1l1.2-0.2l1.2-0.4l1.2-0.6l1.2-0.8l1.2-1l1.2-1.3l1.2-1.6l1.2-1.9l1.2-2.2l1.2-2.3l1.2-2.5l1.2-2.6l1.2-2.6l1.2-2.7l1.2-2.6l1.2-2.5l1.2-2.5l1.2-2.3l1.2-2.1l1.2-1.9l1.2-1.7l1.2-1.5l1.2-1.1l1.2-0.8l1.2-0.4l1.2-0.1l1.2 0.3l1.2 0.4l1.2 0.7l1.2 0.8l1.2 1l1.2 1l1.2 1.1l1.2 1l1.2 1.1l1.2 0.9l1.2 0.8l1.2 0.7l1.2 0.4l1.2 0.2l1.2-0.1l1.2-0.4l1.2-0.8l1.2-1.3l1.2-1.6l1.1-2l1.2-2.3l1.2-2.5l1.2-2.8l1.2-3l1.2-3.1l1.2-3.1l1.2-3.2l1.2-3.1l1.2-3.1l1.2-3l1.2-2.8l1.2-2.6l1.2-2.3l1.2-2.1l1.2-1.7l1.2-1.4l1.2-1.2l1.2-0.8l1.2-0.5l1.2-0.3l1.2 0.1l1.2 0.3l1.2 0.7l1.2 0.9l1.2 1.2l1.2 1.4l1.2 1.7l1.2 2l1.2 2.1l1.2 2.3l1.2 2.5l1.2 2.7l1.2 2.8l1.2 2.9l1.2 3l1.2 3.1l1.2 3.1l1.2 3.2l1.2 3.2l1.2 3.2l1.2 3.2l1.2 3.2l1.2 3.1l1.2 3.1l1.2 3.1l1.2 2.9l1.2 2.9l1.2 2.9l1.2 2.7l1.2 2.7l1.2 2.5l1.2 2.4l1.2 2.3l1.2 2.2l1.2 2l1.2 1.9l1.2 1.7l1.2 1.5l1.2 1.4l1.2 1l1.2 0.8l1.2 0.4l1.2 0.1l1.2-0.2l1.2-0.5l1.2-0.7l1.2-0.9l1.2-0.8l1.2-0.8l1.2-0.8l1.2-0.7l1.2-0.7l1.2-0.7l1.2-0.6l1.2-0.7l1.2-0.5l1.2-0.6l1.2-0.5l1.2-0.5l1.2-0.4l1.2-0.4l1.2-0.4l1.2-0.3l1.2-0.3l1.2-0.2l1.2-0.2l1.2-0.2l1.2-0.1l1.2-0.1l1.2 0l1.2 0l1.2 0.1l1.2 0.1l1.2 0.1l1.2 0.2l1.2 0.2l1.2 0.3l1.2 0.3l1.2 0.4l1.2 0.4l1.2 0.4l1.2 0.5l1.2 0.5l1.2 0.5l1.2 0.5l1.2 0.5l1.2 0.6l1.2 0.6l1.2 0.6l1.2 0.5l1.2 0.6l1.2 0.6l1.2 0.6l1.2 0.6l1.2 0.5l1.2 0.6l1.2 0.5l1.2 0.6l1.2 0.5l1.2 0.4l1.2 0.5l1.2 0.4l1.2 0.4l1.2 0.3l1.2 0.3l1.2 0.3l1.2 0.2l1.2 0.2l1.2 0.2l1.2 0.1l1.2 0.1l1.2 0.1l1.2 0l1.2 0l1.2 0l1.2 0l1.2-0.1l1.2 0l1.2-0.2l1.2-0.1l1.2-0.1l1.2-0.2l1.2-0.1l1.2-0.2l1.2-0.2l1.2-0.2l1.2-0.2l1.2-0.3l1.2-0.2l1.2-0.2l1.2-0.3l1.2-0.2l1.2-0.3l1.2-0.2l1.2-0.2l1.2-0.3l1.2-0.2l1.2-0.2l1.2-0.2l1.2-0.3l1.2-0.1l1.2-0.2l1.2-0.2l1.2-0.2l1.2-0.1l1.2-0.1l1.2-0.2l1.2-0.1l1.2 0l1.2-0.1l1.2-0.1l1.2 0l1.2 0l1.2 0l1.2 0l1.2 0l1.2 0l1.2 0.1l1.2 0.1l1.2 0.1l1.2 0.1l1.2 0.1l1.2 0.2l1.2 0.1l1.2 0.2l1.2 0.3l1.2 0.2l1.2 0.2l1.2 0.3l1.2 0.3l1.2 0.3l1.2 0.4l1.2 0.3l1.2 0.4l1.2 0.4l1.2 0.5l1.1 0.4l1.2 0.4l1.2 0.4l1.2 0.4l1.2 0.4l1.2 0.4l1.2 0.3l1.2 0.3l1.2 0.2l1.2 0.2l1.2 0.2l1.2 0l1.2 0l1.2 0l1.2-0.2l1.2-0.3l1.2-0.3l1.2-0.4l1.2-0.5l1.2-0.6l1.2-0.5l1.2-0.6l1.2-0.6l1.2-0.4l1.2-0.5l1.2-0.3l1.2-0.2l1.2-0.2l1.2-0.1l1.2 0l1.2 0.1l1.2 0.1l1.2 0.2l1.2 0.2l1.2 0.3l1.2 0.3l1.2 0.4l1.2 0.4l1.2 0.4l1.2 0.4l1.2 0.5l1.2 0.5l1.2 0.4l1.2 0.5l1.2 0.4l1.2 0.5l1.2 0.4l1.2 0.4l1.2 0.4l1.2 0.3l1.2 0.3l1.2 0.3l1.2 0.2l1.2 0.2l1.2 0l1.2 0.1l1.2-0.1l1.2 0l1.2-0.2l1.2-0.1l1.2-0.2l1.2-0.3l1.2-0.2l1.2-0.3l1.2-0.3l1.2-0.3l1.2-0.2l1.2-0.3l1.2-0.2l1.2-0.3l1.2-0.2l1.2-0.1l1.2-0.1l1.2-0.1l1.2 0.1l1.2 0l1.2 0.2l1.2 0.2l1.2 0.3l1.2 0.4l1.2 0.5l1.2 0.6l1.2 0.6l1.2 0.7l1.2 0.6l1.2 0.7l1.2 0.6l1.2 0.6l1.2 0.5l1.2 0.4l1.2 0.3l1.2 0.1l1.2 0l1.2-0.3l1.2-0.4l1.2-0.7l1.2-0.9l1.2-1.3l1.2-1.5" stroke="#ff0000"/>
<path d="M812.3 400.4l1.2-1.1l1.2-0.9l1.2-0.8l1.2-0.6l1.2-0.5l1.2-0.4l1.2-0.3l1.2-0.1l1.2-0.1l1.2 0l1.2 0.1l1.2 0.1l1.2 0.2l1.2 0.3l1.2 0.2l1.2 0.3l1.2 0.3l1.2 0.3l1.2 0.4l1.2 0.2l1.2 0.3l1.2 0.2l1.2 0.2l1.2 0.2l1.2 0l1.2 0l1.2-0.1l1.2-0.2l1.2-0.2l1.2-0.3l1.2-0.4l1.2-0.4l1.2-0.5l1.2-0.5l1.2-0.4l1.2-0.5l1.2-0.5l1.2-0.4l1.2-0.3l1.2-0.4l1.2-0.2l1.2-0.2l1.2 0l1.2 0l1.2 0.1l1.2 0.2l1.2 0.3l1.2 0.2l1.2 0.3l1.2 0.2l1.2 0.1l1.2 0.1l1.2 0l1.2-0.2l1.2-0.3l1.2-0.4l1.2-0.7l1.2-0.9l1.2-1.1l1.2-1.5l1.2-1.7l1.2-1.9l1.2-2.2l1.2-2.3l1.2-2.4l1.2-2.5l1.2-2.5l1.2-2.5l1.2-2.4l1.2-2.3l1.2-2.3l1.2-2l1.2-1.9l1.2-1.7l1.2-1.5l1.2-1.2l1.2-1l1.2-0.6l1.2-0.3l1.2 0l1.2 0.2l1.2 0.4l1.2 0.5l1.2 0.6l1.2 0.6l1.2 0.6l1.2 0.6l1.2 0.5l1.2 0.5l1.2 0.3l1.2 0.2l1.2 0l1.2-0.2l1.2-0.5l1.2-0.7l1.2-1l1.2-1.3l1.2-1.6l1.1-1.8l1.2-2l1.2-2.1l1.2-2.3l1.2-2.5l1.2-2.5l1.2-2.6l1.2-2.6l1.2-2.7l1.2-2.7l1.2-2.7l1.2-2.6l1.2-2.5l1.2-2.4l1.2-2.3l1.2-2.2l1.2-2l1.2-1.8l1.2-1.5l1.2-1.3l1.2-1.1l1.2-0.7l1.2-0.4l1.2-0.1l1.2 0.4l1.2 0.7l1.2 1.1l1.2 1.6l1.2 2l1.2 2.3l1.2 2.7l1.2 3l1.2 3.3l1.2 3.5l1.2 3.7l1.2 3.9l1.2 4l1.2 4.2l1.2 4.2l1.2 4.3l1.2 4.2l1.2 4.3l1.2 4.2l1.2 4.1l1.2 4l1.2 3.9l1.2 3.7l1.2 3.6l1.2 3.3l1.2 3.1l1.2 2.8l1.2 2.6l1.2 2.2l1.2 2l1.2 1.6l1.2 1.4l1.2 1l1.2 0.7l1.2 0.4l1.2 0.1l1.2-0.2l1.2-0.4l1.2-0.5l1.2-0.6l1.2-0.6l1.2-0.5l1.2-0.6l1.2-0.5l1.2-0.5l1.2-0.5l1.2-0.5l1.2-0.4l1.2-0.5l1.2-0.4l1.2-0.3l1.2-0.4l1.2-0.3l1.2-0.3l1.2-0.3l1.2-0.3l1.2-0.2l1.2-0.2l1.2-0.2l1.2-0.2l1.2-0.1l1.2-0.1l1.2-0.1l1.2-0.1l1.2 0l1.2 0l1.2 0l1.2 0.1l1.2 0.1l1.2 0.1l1.2 0.1l1.2 0.2l1.2 0.2l1.2 0.3l1.2 0.2l1.2 0.3l1.2 0.4l1.2 0.3l1.2 0.4l1.2 0.4l1.2 0.4l1.2 0.4l1.2 0.5l1.2 0.4l1.2 0.5l1.2 0.5l1.2 0.4l1.2 0.5l1.2 0.5l1.2 0.4l1.2 0.5l1.2 0.4l1.2 0.4l1.2 0.4l1.2 0.4l1.2 0.4l1.2 0.3l1.2 0.3l1.2 0.3l1.2 0.3l1.2 0.2l1.2 0.2l1.2 0.1l1.2 0.2l1.2 0.1l1.2 0l1.2 0.1l1.2 0l1.2 0l1.2 0l1.2-0.1l1.2 0l1.2-0.1l1.2-0.1l1.2-0.1l1.2-0.2l1.2-0.1l1.2-0.2l1.2-0.1l1.2-0.2l1.2-0.2l1.2-0.2l1.2-0.1l1.2-0.2l1.2-0.2l1.2-0.2l1.2-0.2l1.2-0.2l1.2-0.2l1.2-0.2l1.2-0.2l1.2-0.2l1.2-0.2l1.2-0.1l1.2-0.2l1.2-0.1l1.2-0.2l1.2-0.1l1.2-0.1l1.2-0.1l1.2 0l1.2-0.1l1.2 0l1.2 0l1.2 0l1.2 0l1.2 0l1.2 0.1l1.2 0l1.2 0.1l1.2 0.1l1.2 0l1.2 0.1l1.2 0.1l1.2 0.2l1.2 0.1l1.2 0.1l1.2 0.1l1.2 0.2l1.2 0.1l1.2 0.1l1.2 0.2l1.2 0.1l1.2 0.2l1.2 0.1l1.2 0.2l1.2 0.1l1.2 0.2l1.2 0.1l1.2 0.2l1.2 0.1l1.2 0.1l1.2 0.1l1.1 0.1l1.2 0.2l1.2 0.1l1.2 0.1l1.2 0l1.2 0.1l1.2 0.1l1.2 0.1l1.2 0.1l1.2 0l1.2 0.1l1.2 0.1l1.2 0.1l1.2 0l1.2 0.1l1.2 0.1l1.2 0.1l1.2 0l1.2 0.1l1.2 0.1l1.2 0.1l1.2 0.1l1.2 0.1l1.2 0.1l1.2 0.1l1.2 0.1l1.2 0.1l1.2 0.1l1.2 0.2l1.2 0.1l1.2 0.1l1.2 0.2l1.2 0.2l1.2 0.2l1.2 0.1l1.2 0.2l1.2 0.3l1.2 0.2l1.2 0.2l1.2 0.2l1.2 0.2l1.2 0.2l1.2 0.2l1.2 0.2l1.2 0.2l1.2 0.1l1.2 0.2l1.2 0.1l1.2 0.1l1.2 0l1.2 0l1.2 0l1.2-0.1l1.2-0.1l1.2-0.1l1.2-0.2l1.2-0.2l1.2-0.3l1.2-0.3l1.2-0.3l1.2-0.4l1.2-0.3l1.2-0.3l1.2-0.3l1.2-0.3l1.2-0.2l1.2-0.2l1.2-0.2l1.2-0.1l1.2 0l1.2 0l1.2 0l1.2 0.1l1.2 0.1l1.2 0.2l1.2 0.1l1.2 0.2l1.2 0.2l1.2 0.3l1.2 0.2l1.2 0.2l1.2 0.3l1.2 0.2l1.2 0.2l1.2 0.3l1.2 0.2l1.2 0.2l1.2 0.1l1.2 0.2l1.2 0.1l1.2 0.1l1.2 0l1.2 0l1.2 0l1.2-0.1l1.2-0.2l1.2-0.2l1.2-0.3l1.2-0.3" stroke="#0000ff"/>
<path d="M812.3 398.5l1.2-0.8l1.2-0.8l1.2-0.6l1.2-0.4l1.2-0.4l1.2-0.3l1.2-0.2l1.2-0.1l1.2 0l1.2 0l1.2 0.1l1.2 0.1l1.2 0.2l1.2 0.2l1.2 0.2l1.2 0.3l1.2 0.2l1.2 0.3l1.2 0.3l1.2 0.2l1.2 0.2l1.2 0.2l1.2 0.2l1.2 0.1l1.2 0l1.2 0l1.2-0.1l1.2-0.2l1.2-0.2l1.2-0.3l1.2-0.3l1.2-0.4l1.2-0.4l1.2-0.4l1.2-0.4l1.2-0.4l1.2-0.4l1.2-0.4l1.2-0.4l1.2-0.3l1.2-0.2l1.2-0.2l1.2-0.1l1.2 0l1.2 0.1l1.2 0.1l1.2 0.1l1.2 0.2l1.2 0.2l1.2 0.1l1.2 0.1l1.2 0.1l1.2 0l1.2-0.2l1.2-0.2l1.2-0.3l1.2-0.5l1.2-0.7l1.2-0.8l1.2-1.1l1.2-1.3l1.2-1.5l1.2-1.7l1.2-1.9l1.2-2l1.2-2.1l1.2-2.2l1.2-2.3l1.2-2.3l1.2-2.4l1.2-2.3l1.2-2.2l1.2-2.2l1.2-2l1.2-1.9l1.2-1.8l1.2-1.6l1.2-1.3l1.2-1.1l1.2-0.8l1.2-0.6l1.2-0.2l1.2-0.1l1.2 0.2l1.2 0.4l1.2 0.6l1.2 0.7l1.2 0.8l1.2 0.9l1.2 0.8l1.2 0.8l1.2 0.7l1.2 0.6l1.2 0.3l1.2 0.1l1.2-0.1l1.2-0.5l1.2-0.9l1.1-1.3l1.2-1.7l1.2-2l1.2-2.4l1.2-2.6l1.2-2.9l1.2-3l1.2-3.1l1.2-3.3l1.2-3.2l1.2-3.3l1.2-3.2l1.2-3.1l1.2-3l1.2-2.8l1.2-2.5l1.2-2.3l1.2-2.1l1.2-1.7l1.2-1.5l1.2-1.1l1.2-0.9l1.2-0.6l1.2-0.2l1.2 0.1l1.2 0.4l1.2 0.8l1.2 1.1l1.2 1.5l1.2 1.9l1.2 2.1l1.2 2.5l1.2 2.7l1.2 2.9l1.2 3.2l1.2 3.4l1.2 3.6l1.2 3.7l1.2 3.9l1.2 4l1.2 4l1.2 4.2l1.2 4.2l1.2 4.2l1.2 4.1l1.2 4.2l1.2 4l1.2 4l1.2 3.7l1.2 3.6l1.2 3.4l1.2 3.1l1.2 2.8l1.2 2.6l1.2 2.2l1.2 1.8l1.2 1.6l1.2 1.3l1.2 1l1.2 0.7l1.2 0.3l1.2 0.2l1.2-0.1l1.2-0.3l1.2-0.4l1.2-0.4l1.2-0.4l1.2-0.4l1.2-0.4l1.2-0.4l1.2-0.4l1.2-0.3l1.2-0.3l1.2-0.3l1.2-0.3l1.2-0.3l1.2-0.3l1.2-0.2l1.2-0.3l1.2-0.2l1.2-0.2l1.2-0.3l1.2-0.2l1.2-0.2l1.2-0.2l1.2-0.2l1.2-0.2l1.2-0.1l1.2-0.2l1.2-0.2l1.2-0.2l1.2-0.1l1.2-0.2l1.2-0.1l1.2-0.1l1.2-0.1l1.2 0l1.2 0l1.2 0.1l1.2 0.1l1.2 0.2l1.2 0.2l1.2 0.3l1.2 0.3l1.2 0.3l1.2 0.4l1.2 0.5l1.2 0.4l1.2 0.5l1.2 0.5l1.2 0.6l1.2 0.5l1.2 0.6l1.2 0.5l1.2 0.6l1.2 0.6l1.2 0.5l1.2 0.6l1.2 0.6l1.2 0.5l1.2 0.5l1.2 0.5l1.2 0.5l1.2 0.4l1.2 0.4l1.2 0.4l1.2 0.3l1.2 0.3l1.2 0.3l1.2 0.2l1.2 0.1l1.2 0.2l1.2 0.1l1.2 0l1.2 0l1.2 0l1.2 0l1.2-0.1l1.2 0l1.2-0.1l1.2-0.2l1.2-0.1l1.2-0.2l1.2-0.2l1.2-0.2l1.2-0.2l1.2-0.2l1.2-0.2l1.2-0.3l1.2-0.2l1.2-0.3l1.2-0.2l1.2-0.3l1.2-0.2l1.2-0.2l1.2-0.3l1.2-0.2l1.2-0.2l1.2-0.3l1.2-0.2l1.2-0.1l1.2-0.2l1.2-0.2l1.2-0.1l1.2-0.1l1.2-0.1l1.2-0.1l1.2 0l1.2-0.1l1.2 0l1.2 0l1.2 0l1.2 0l1.2 0.1l1.2 0l1.2 0.1l1.2 0.1l1.2 0.1l1.2 0.1l1.2 0.1l1.2 0.1l1.2 0.2l1.2 0.1l1.2 0.1l1.2 0.2l1.2 0.1l1.2 0.2l1.2 0.1l1.2 0.2l1.2 0.2l1.2 0.1l1.2 0.2l1.2 0.1l1.2 0.2l1.2 0.1l1.2 0.2l1.2 0.1l1.1 0.2l1.2 0.1l1.2 0.1l1.2 0.1l1.2 0.2l1.2 0.1l1.2 0.1l1.2 0.1l1.2 0.1l1.2 0.1l1.2 0.1l1.2 0l1.2 0.1l1.2 0.1l1.2 0.1l1.2 0.1l1.2 0.1l1.2 0l1.2 0.1l1.2 0.1l1.2 0.1l1.2 0l1.2 0.1l1.2 0.1l1.2 0.1l1.2 0l1.2 0.1l1.2 0.1l1.2 0.1l1.2 0.1l1.2 0.1l1.2 0.1l1.2 0.1l1.2 0.1l1.2 0.1l1.2 0.1l1.2 0.1l1.2 0.1l1.2 0.1l1.2 0.1l1.2 0.2l1.2 0.1l1.2 0.1l1.2 0.1l1.2 0.1l1.2 0.2l1.2 0.1l1.2 0.1l1.2 0.1l1.2 0.1l1.2 0.1l1.2 0.1l1.2 0.1l1.2 0.1l1.2 0.1l1.2 0l1.2 0.1l1.2 0.1l1.2 0l1.2 0.1l1.2 0l1.2 0l1.2 0l1.2 0l1.2 0l1.2 0l1.2-0.1l1.2 0l1.2-0.1l1.2-0.1l1.2-0.1l1.2-0.1l1.2-0.1l1.2-0.1l1.2-0.1l1.2-0.1l1.2-0.2l1.2-0.1l1.2-0.1l1.2-0.1l1.2-0.1l1.2 0l1.2-0.1l1.2-0.1l1.2 0l1.2 0l1.2 0l1.2 0l1.2 0l1.2 0.1l1.2 0.1l1.2 0.1l1.2 0.2l1.2 0.1l1.2 0.3l1.2 0.2l1.2 0.3l1.2 0.3l1.2 0.4" stroke="#008000"/>
<path d="M812.3 413.2l1.2-0.4l1.2-0.4l1.2-0.3l1.2-0.2l1.2-0.2l1.2-0.2l1.2-0.2l1.2-0.1l1.2 0l1.2-0.1l1.2 0l1.2 0l1.2 0.1l1.2 0l1.3 0.1l1.2 0l1.2 0.1l1.2 0.1l1.2 0.1l1.2 0l1.2 0.1l1.2 0.1l1.2 0l1.2 0l1.2 0.1l1.2 0l1.2 0l1.2 0l1.2-0.1l1.2 0l1.2 0l1.2 0l1.2 0l1.2 0l1.2 0l1.2 0.1l1.2 0l1.2 0l1.2 0.1l1.2 0.1l1.2 0l1.2 0l1.2 0.1l1.2 0l1.3 0l1.2-0.1l1.2-0.1l1.2-0.1l1.2-0.1l1.2-0.2l1.2-0.3l1.2-0.2l1.2-0.4l1.2-0.4l1.2-0.5l1.2-0.5l1.2-0.6l1.2-0.6l1.2-0.7l1.2-0.6l1.2-0.6l1.2-0.5l1.2-0.6l1.2-0.5l1.2-0.4l1.2-0.4l1.2-0.4l1.2-0.3l1.2-0.3l1.2-0.2l1.2-0.1l1.2 0l1.2 0l1.3 0.1l1.2 0.1l1.2 0.3l1.2 0.4l1.2 0.4l1.2 0.6l1.2 0.6l1.2 0.7l1.2 0.7l1.2 0.8l1.2 0.9l1.2 0.8l1.2 0.9l1.2 0.8l1.2 0.8l1.2-1l1.2-1l1.2-1l1.2-1l1.2-1l1.2-1l1.2-0.9l1.2-0.9l1.1-0.9l1.2-0.8l1.2-0.7l1.2-0.7l1.2-0.5l1.2-0.6l1.2-0.4l1.2-0.3l1.2-0.2l1.2-0.1l1.2 0l1.2 0.2l1.2 0.2l1.2 0.4l1.2 0.6l1.2 0.6l1.2 0.7l1.1 0.8l1.2 0.9l1.2 1l1.2 1l1.2 1l1.2 1.1l1.2 1.1l1.2 1.1l1.2 1.1l1.2-0.6l1.2-1.1l1.2-1.5l1.2-1.8l1.2-2l1.2-2.1l1.2-2.2l1.2-2.1l1.2-2l1.2-1.8l1.2-1.6l1.2-1.5l1.2-1.3l1.2-1.3l1.2-1.2l1.2-1.2l1.2-1.2l1.2-1.2l1.2-1.3l1.2-1.4l1.2-1.5l1.2-1.6l1.2-1.8l1.2-2l1.2-2.3l1.2-2.4l1.2-2.8l1.2-3l1.2-3.3l1.2-3.6l1.2-4l1.2-4.2l1.2-4.7l1.2-5l1.2-5.4l1.2-5.9l1.2-6.2l1.2-6.7l1.2-6.9l1.2-7.2l1.2-7.4l1.2-7.5l1.2-7.6l1.2-7.5l1.2-7.4l1.1-7.2l1.2-7.1l1.2-6.7l1.2-6.3l1.2-6l1.2-5.5l1.2-5l1.2-4.5l1.2-4l1.2-3.4l1.2-2.8l1.2-2.1l1.2-1.5l1.2-0.8l1.2-0.1l1.2 0.7l1.2 1.4l1.2 2l1.2 2.7l1.2 3.2l1.2 3.7l1.2 4.2l1.2 4.6l1.2 5.1l1.2 5.4l1.2 5.8l1.2 6l1.2 6.2l1.2 6.5l1.2 6.6l1.2 6.8l1.2 6.8l1.2 7l1.2 7.2l1.2 7.5l1.2 7.6l1.2 7.8l1.2 7.9l1.2 7.9l1.2 7.8l1.2 7.7l1.2 7.4l1.2 7.1l1.2 6.8l1.2 6.3l1.2 5.8l1.2 5.2l1.2 4.6l1.2 3.8l1.2 3l1.2 2.4l1.2 1.7l1.2 1.2l1.2 0.8l1.2 0.5l1.2 0.3l1.2 0.1l1.2 0.1l1.2 0.1l1.2 0.3l1.2 0.5l1.2 0.5l1.2 0.5l1.2 0.5l1.2 0.4l1.2 0.3l1.2 0.1l1.2 0l1.2-0.1l1.2-0.2l1.2-0.2l1.2-0.4l1.2-0.4l1.2-0.4l1.2-0.4l1.2-0.5l1.2-0.4l1.2-0.5l1.2-0.3l1.2-0.4l1.2-0.3l1.2-0.2l1.2-0.1l1.2 0l1.2 0.2l1.2 0.2l1.2 0.5l1.2 0.5l1.2 0.8l1.2 0.9l1.1 0.9l1.2 0.9l1.2 0.9l1.2 0.7l1.2 0.5l1.2 0.3l1.2 0l1.2-0.3l1.2-0.7l1.2-0.9l1.2-1.1l1.2-1.2l1.2-1.3l1.2-1.3l1.2-1.4l1.2-1.3l1.2-1.3l1.2-1.2l1.2-1.2l1.2-1.1l1.2-0.9l1.2-0.8l1.2-0.7l1.2-0.5l1.2-0.2l1.2-0.1l1.2 0.2l1.2 0.4l1.2 0.5l1.2 0.6l1.2 0.7l1.2 0.7l1.2 0.8l1.2 0.8l1.2 0.7l1.2 0.8l1.2 0.8l1.2 0.7l1.2 0.8l1.2 0.7l1.2 0.6l1.2 0.7l1.2 0.6l1.2 0.5l1.2 0.5l1.2 0.5l1.2 0.4l1.2 0.3l1.2 0.3l1.2 0.3l1.2 0.3l1.2 0.3l1.2 0.4l1.2 0.4l1.2 0.4l1.2 0.4l1.2 0.3l1.2 0.3l1.2 0.1l1.2 0.1l1.2-0.1l1.2-0.4l1.2-0.5l1.2-0.8l1.2-1.1l1.2-1.4l1.2-1.5l1.2-1.7l1.2-1.9l1.2-1.9l1.2-1.9l1.2-2l1.2-1.8l1.2-1.8l1.2-1.6l1.2-1.4l1.2-1.2l1.2-0.9l1.2-0.8l1.2-0.5l1.2-0.3l1.2-0.1l1.2 0l1.2 0.3l1.2 0.4l1.2 0.6l1.2 0.8l1.2 1l1.2 1.1l1.2 1.2l1.2 1.3l1.1 1.2l1.2 1.1l1.2 1l1.2 0.8l1.2 0.5l1.2 0.3l1.2 0.1l1.2-0.1l1.2-0.3l1.2-0.4l1.2-0.5l1.2-0.6l1.2-0.7l1.2-0.8l1.2-0.9l1.2-0.9l1.2-0.9l1.2-0.8l1.2-0.9l1.2-0.8l1.2-0.8l1.2-0.7l1.2-0.7l1.2-0.6l1.2-0.6l1.2-0.5l1.2-0.5l1.2-0.5l1.2-0.4l1.2-0.4l1.2-0.4l1.2-0.3l1.2-0.3l1.2-0.3l1.2-0.2l1.2-0.3l1.2-0.2l1.2-0.2l1.2-0.2l1.2-0.1l1.2-0.2l1.2-0.1l1.2-0.2l1.2-0.1l1.2-0.2l1.2-0.1" stroke="#000000"/>
<path d="M812.3 406.4l1.2-0.7l1.2-0.7l1.2-0.8l1.2-0.8l1.2-0.7l1.2-0.8l1.2-0.7l1.2-0.7l1.2-0.6l1.2-0.5l1.2-0.5l1.2-0.3l1.2-0.3l1.2 0l1.2 0l1.2 0.2l1.2 0.3l1.2 0.4l1.2 0.5l1.2 0.5l1.2 0.5l1.2 0.5l1.2 0.4l1.2 0.3l1.2 0.3l1.2 0l1.2 0l1.2-0.3l1.2-0.5l1.2-0.6l1.2-0.9l1.2-1l1.2-1.1l1.2-1.2l1.2-1.2l1.2-1.3l1.2-1.3l1.2-1.3l1.2-1.3l1.2-1.2l1.2-1l1.2-1l1.2-0.8l1.2-0.6l1.2-0.4l1.2-0.2l1.2 0l1.2 0l1.2 0.2l1.2 0.2l1.2 0.2l1.2 0.2l1.2 0.2l1.2 0l1.2-0.1l1.2-0.3l1.2-0.4l1.2-0.7l1.2-1l1.2-1.4l1.2-1.6l1.2-2l1.2-2.4l1.2-2.6l1.2-2.7l1.2-2.9l1.2-3l1.2-3l1.2-3l1.2-2.8l1.2-2.7l1.2-2.5l1.2-2.2l1.2-1.9l1.2-1.5l1.3-1.3l1.2-0.9l1.2-0.6l1.2-0.3l1.2-0.1l1.2 0.2l1.2 0.4l1.2 0.7l1.2 0.9l1.2 1.1l1.2 1.2l1.2 1.1l1.2 1l1.2 0.6l1.2 0.1l1.2-0.6l1.2-1.4l1.2-2.4l1.2-3.6l1.2-4.6l1.2-5.7l1.2-6.6l1.2-7.4l1.2-8l1.2-8.4l1.2-8.5l1.2-8.6l1.2-8.6l1.2-8.5l1.2-8.4l1.2-8.2l1.2-8l1.2-7.6l1.2-7.3l1.2-6.8l1.2-6.3l1.2-5.7l1.2-5.1l1.2-4.4l1.2-3.7l1.2-3.1l1.2-2.5l1.2-1.7l1.2-1.1l1.2-0.4l1.2 0.3l1.2 1l1.2 1.6l1.2 2.4l1.2 3.1l1.2 3.8l1.2 4.5l1.2 5.2l1.2 6l1.2 6.5l1.2 7.1l1.2 7.5l1.2 7.7l1.2 7.9l1.2 7.9l1.2 7.9l1.2 8l1.2 8.3l1.2 8.5l1.2 8.9l1.2 9.4l1.2 9.7l1.2 10.1l1.2 10.1l1.2 10.2l1.2 10l1.2 9.8l1.2 9.4l1.2 8.9l1.2 8.2l1.2 7.5l1.2 6.6l1.2-2.8l1.2-4.2l1.2-5l1.2-5.2l1.2-4.9l1.2-4.1l1.2-3.4l1.2-2.5l1.2-1.8l1.3-1l1.2-0.5l1.2 0.2l1.2 0.7l1.2 1.1l1.2 1.5l1.2 1.8l1.2 2.1l1.2 2.2l1.2 2.5l1.2 2.4l1.2 2.5l1.2 2.5l1.2 2.3l1.2 2.2l1.2 1.9l1.2 1.6l1.2 1.3l1.3 0.8l1.2 0.4l1.2-0.2l1.2-0.8l1.2-1.4l1.2-2.2l1.2-2.9l1.2-3.6l1.2-4.2l1.2-4.9l1.2-5.5l1.2-6.1l1.2-6.6l1.2-7.1l1.2-7.5l1.2-8l1.2-8.3l1.2-8.8l1.2-9l1.3-9.4l1.2-9.5l1.2-9.9l1.2-10l1.2-10.3l1.2-10.5l1.2-10.8l1.2-10.9l1.2-11.2l1.2-11.5l1.2-11.5l1.2-11.6l1.2-11.3l1.2-11.1l1.2-10.6l1.2-9.9l1.2-9.3l1.2-8.5l1.3-7.8l1.2-7l1.2-6.1l1.2-5.2l1.2-4.4l1.2-3.5l1.2-2.7l1.2-1.9l1.2-1.2l1.2-0.4l1.2 0.3l1.2 1l1.2 1.8l1.2 2.7l1.2 3.5l1.2 4.5l1.2 5.4l1.2 6.4l1.2 7.3l1.3 8.2l1.2 8.9l1.2 9.5l1.2 10l1.2 10.8l1.2 11.8l1.2 12.8l1.2 13.2l1.2 13.1l1.2 12.7l1.2 12l1.2 11.5l1.2 11l1.2 10.6l1.2 10.4l1.2 10.2l1.2 10.1l1.2 10l1.3 10.1l1.2 10l1.2 10.1l1.2 10.2l1.2 10.2l1.2 9.5l1.2 8.5l1.2 6.8l1.2 4.6l1.2 1.8l1.2-4.3l1.2-4.2l1.2-4l1.3-3.8l1.2-3.5l1.2-3.2l1.2-2.7l1.2-2.4l1.2-1.9l1.3-1.3l1.2-0.8l1.2-0.2l1.2 0.5l1.2 1l1.2 1.6l1.2 2.1l1.3 2.5l1.2 2.9l1.2 3.2l1.2 3.5l1.2 3.6l1.2 3.9l1.3 3.9l1.2 4l1.2 3.9l1.2 3.9l1.2-3.7l1.2-4l1.2-4.3l1.2-4.5l1.2-4.6l1.2-4.9l1.2-4.9l1.2-4.9l1.2-5l1.2-5l1.2-4.9l1.2-4.8l1.2-4.7l1.2-4.5l1.2-4.3l1.2-4l1.2-3.8l1.2-3.6l1.2-3.3l1.2-3l1.2-2.7l1.2-2.4l1.2-2l1.2-1.8l1.2-1.3l1.2-1.1l1.2-0.7l1.2-0.4l1.2-0.1l1.2 0.2l1.2 0.5l1.2 0.8l1.2 1l1.2 1.2l1.2 1.5l1.2 1.7l1.2 1.9l1.2 2.1l1.2 2.3l1.2 2.5l1.2 2.6l1.2 2.8l1.2 3l1.2 3l1.2 3.2l1.2 3.3l1.2 3.3l1.2 3.5l1.2 3.5l1.2 3.6l1.2 3.6l1.2 3.6l1.1 3.7l1.2 3.6l1.2 3.5l1.2 3.4l1.2 3.4l1.2 3.1l1.2 3l1.2 2.8l1.2 2.5l1.2 2.3l1.2 2l1.2 1.6l1.2 1.4l1.2 1.1l1.2 0.8l1.2 0.5l1.2 0.2l1.2 0l1.2-0.2l1.2-0.5l1.2-0.6l1.2-0.7l1.2-0.8l1.2-0.9l1.2-0.9l1.2-0.9l1.2-0.9l1.2-0.8l1.2-0.8l1.2-0.6l1.2-0.6l1.2-0.6l1.2-0.4l1.2-0.5l1.2-0.4l1.2-0.4l1.2-0.5l1.2-0.4l1.2-0.5l1.2-0.5l1.2-0.5l1.2-0.6l1.2-0.7l1.2-0.8l1.2-0.9l1.2-0.9l1.2-1.1l1.2-1.3l1.2-1.4l1.2-1.5l1.2-1.7l1.2-1.9" stroke="#ff8000"/>
<path d="M812.3 412.4l1.2-1.2l1.2-1.1l1.2-0.9l1.2-0.9l1.1-0.8l1.2-0.7l1.2-0.6l1.2-0.5l1.2-0.4l1.2-0.4l1.2-0.2l1.2-0.2l1.2-0.1l1.2 0l1.1 0.1l1.2 0.1l1.2 0.3l1.2 0.2l1.2 0.4l1.2 0.4l1.2 0.5l1.2 0.6l1.2 0.6l1.2 0.6l1.1 0.8l1.2 0.7l1.2 0.9l1.2 0.9l1.2 0.9l1.2-1.2l1.2-1.1l1.2-1.1l1.1-1l1.2-0.9l1.2-0.9l1.2-0.7l1.2-0.8l1.2-0.6l1.1-0.5l1.2-0.5l1.2-0.3l1.2-0.3l1.2-0.1l1.2-0.1l1.2 0.1l1.1 0.2l1.2 0.3l1.2 0.4l1.2 0.6l1.2 0.7l1.2 0.8l1.1 1l1.2 1.1l1.2 1.3l1.2 1.4l1.2-1.7l1.2-1.9l1.2-2.1l1.2-2.1l1.2-2.2l1.2-2.3l1.2-2.4l1.2-2.4l1.2-2.4l1.2-2.4l1.2-2.4l1.2-2.4l1.2-2.3l1.2-2.2l1.2-2.2l1.2-2.1l1.2-1.9l1.2-1.8l1.2-1.7l1.2-1.4l1.3-1.3l1.2-1.1l1.2-0.8l1.2-0.6l1.2-0.4l1.2-0.1l1.2 0l1.2 0.1l1.2 0.1l1.2 0.2l1.2 0.1l1.2 0.1l1.2-0.1l1.2-0.3l1.2-0.5l1.2-0.7l1.2-1.1l1.2-1.5l1.2-1.8l1.2-2.2l1.2-2.3l1.2-2.5l1.2-2.6l1.2-2.5l1.2-2.6l1.2-2.5l1.2-2.5l1.2-2.5l1.2-2.4l1.2-2.5l1.2-2.5l1.2-2.5l1.2-2.6l1.2-2.6l1.2-2.7l1.2-2.7l1.2-2.8l1.2-2.9l1.2-3l1.3-3.1l1.2-3.4l1.2-3.6l1.2-3.9l1.2-4.3l1.2-4.7l1.2-5.1l1.2-5.5l1.2-5.9l1.2-6.2l1.2-6.4l1.2-6.7l1.2-6.9l1.2-7l1.2-6.8l1.2-6.4l1.2-5.9l1.2-5.5l1.2-5l1.2-4.4l1.2-3.9l1.2-3.3l1.2-2.7l1.2-2.1l1.2-1.5l1.2-0.9l1.2-0.2l1.2 0.5l1.2 1.2l1.2 1.9l1.2 2.7l1.2 3.4l1.2 4.2l1.2 4.8l1.2 5.5l1.2 6.1l1.2 6.6l1.2 7.1l1.2 7.7l1.2 8l1.2 8.5l1.3 8.7l1.2 9l1.2 9l1.2 9l1.2 8.9l1.2 8.9l1.2 9l1.2 9.1l1.2 9.2l1.2 9.2l1.2 9.2l1.2 9l1.2 8.6l1.2 8.1l1.2 7.2l1.2 6.3l1.2 5.1l1.2 3.7l1.2 2.1l1.2 0.4l1.2-3.3l1.2-3l1.2-2.8l1.2-2.4l1.1-2.1l1.2-1.7l1.2-1.4l1.2-1l1.2-0.6l1.2-0.3l1.2 0.2l1.2 0.5l1.2 1l1.1 1.2l1.2 1.6l1.2 1.7l1.2 1.9l1.2 2l1.2 2l1.2 2.1l1.2 1.9l1.1 1.8l1.2 1.5l1.2 1.4l1.2 1l1.2 0.6l1.2-1.4l1.2-1.4l1.2-1.2l1.2-1.2l1.2-1.1l1.2-1.1l1.2-0.9l1.2-0.9l1.2-0.9l1.2-0.8l1.2-0.8l1.2-0.7l1.2-0.7l1.2-0.7l1.2-0.6l1.2-0.7l1.2-0.5l1.2-0.6l1.2-0.5l1.3-0.4l1.2-0.3l1.2-0.2l1.2-0.1l1.2 0.1l1.2 0.1l1.2 0.3l1.2 0.3l1.2 0.4l1.2 0.5l1.2 0.5l1.2 0.6l1.2 0.6l1.2 0.6l1.2 0.6l1.2 0.7l1.2 0.5l1.2 0.6l1.2 0.5l1.2 0.4l1.2 0.3l1.2 0.3l1.2 0.1l1.2 0.1l1.2-0.1l1.2-0.3l1.2-0.4l1.2-0.4l1.2-0.6l1.2-0.7l1.2-0.7l1.2-0.8l1.2-0.8l1.2-0.8l1.2-0.7l1.2-0.8l1.2-0.7l1.2-0.6l1.3-0.5l1.2-0.5l1.2-0.3l1.2-0.2l1.2 0l1.2 0.2l1.2 0.4l1.2 0.5l1.2 0.7l1.2 0.9l1.2 0.9l1.2 1l1.2 1l1.2 1.1l1.2 1l1.2 1l1.2 1l1.2 0.9l1.2 0.8l1.2 0.7l1.2 0.5l1.2 0.4l1.2 0.3l1.2 0.2l1.2 0.1l1.2-0.1l1.2-0.1l1.2-0.3l1.2-0.4l1.2-0.4l1.2-0.5l1.2-0.5l1.2-0.6l1.2-0.5l1.2-0.4l1.2-0.5l1.2-0.3l1.2-0.3l1.2-0.1l1.3-0.1l1.2 0.2l1.2 0.2l1.2 0.3l1.2 0.5l1.2 0.5l1.2 0.5l1.2 0.6l1.2 0.5l1.2 0.6l1.2 0.6l1.2 0.7l1.2 0.6l1.2 0.6l1.2 0.7l1.2 0.6l1.2 0.6l1.2 0.7l1.2 0.6l1.2 0.6l1.2 0.6l1.2 0.6l1.2 0.5l1.2 0.6l1.2 0.5l1.2 0.5l1.2 0.4l1.2 0.5l1.2 0.3l1.2 0.4l1.2 0.3l1.2 0.3l1.2 0.2l1.2 0.1l1.2 0.1l1.2 0.1l1.2 0l1.2 0l1.2 0l1.3-0.1l1.2-0.1l1.2-0.2l1.2-0.1l1.2-0.2l1.2-0.3l1.2-0.2l1.2-0.2l1.2-0.3l1.2-0.2l1.2-0.3l1.2-0.3l1.2-0.2l1.2-0.3l1.2-0.3l1.2-0.2l1.2-0.2l1.2-0.3l1.2-0.1l1.2-0.2l1.2-0.2l1.2-0.1l1.2-0.1l1.2 0l1.2-0.1l1.2 0l1.2 0.1l1.2 0l1.2 0.1l1.2 0.1l1.2 0.1l1.2 0.1l1.2 0.1l1.2 0.1l1.2 0.2l1.2 0.1l1.2 0.2l1.2 0.1l1.3 0.1l1.2 0.1l1.2 0.2l1.2 0.1l1.2 0l1.2 0.1l1.2 0l1.2 0l1.2 0l1.2 0l1.2-0.1l1.2-0.1l1.2-0.1l1.2-0.2l1.2-0.2l1.2-0.3l1.2-0.3l1.2-0.4l1.2-0.4l1.2-0.5" stroke="#8000ff"/>
</g></svg>
<rect x="812.3" y="33.4" width="473.2" height="380.9" fill="none" stroke="#000" stroke-width="3"/>
<path d="M812.3 414.3v7.6M859.6 414.3v3.8M906.9 414.3v7.6M954.3 414.3v3.8M1001.6 414.3v7.6M1048.9 414.3v3.8M1096.2 414.3v7.6M1143.5 414.3v3.8M1190.9 414.3v7.6M1238.2 414.3v3.8M1285.5 414.3v7.6" stroke="#000" stroke-width="3" fill="none"/>
<path d="M812.3 414.3h-9.6M812.3 366.7h-8.2M812.3 319.1h-9.6M812.3 271.5h-8.2M812.3 223.8h-9.6M812.3 176.2h-8.2M812.3 128.6h-9.6M812.3 81.0h-8.2M812.3 33.4h-9.6" stroke="#000" stroke-width="2.6" fill="none"/>
<g font-size="23.2" text-anchor="middle">
<text transform="translate(812.0 444.2) scale(0.927 1)">0</text>
<text transform="translate(906.6 444.2) scale(0.927 1)">1</text>
<text transform="translate(1001.3 444.2) scale(0.927 1)">2</text>
<text transform="translate(1095.9 444.2) scale(0.927 1)">3</text>
<text transform="translate(1190.6 444.2) scale(0.927 1)">4</text>
<text transform="translate(1285.2 444.2) scale(0.927 1)">5</text>
</g>
<g font-size="23.2" text-anchor="end">
<text transform="translate(796.0 421.6) scale(0.927 1)">0</text>
<text transform="translate(796.0 326.4) scale(0.927 1)">4</text>
<text transform="translate(796.0 231.2) scale(0.927 1)">8</text>
<text transform="translate(796.0 135.9) scale(0.927 1)">12</text>
<text transform="translate(796.0 40.7) scale(0.927 1)">16</text>
</g>
<text x="1053.4" y="479.8" font-size="32" text-anchor="middle"><tspan font-style="italic">R</tspan> (Å)</text>
<text transform="translate(752.3 218.5) rotate(-90)" font-size="32.3" text-anchor="middle"><tspan>|FT k</tspan><tspan font-size="24" dy="-12.4">3</tspan><tspan dy="12.4" font-weight="bold" font-family="'Liberation Serif','DejaVu Serif',serif" font-size="34">χ</tspan><tspan>(k)|</tspan></text>
<text x="717.3" y="34.4" font-size="48.5">b</text>
<g font-size="17.9">
<line x1="819.4" y1="49.7" x2="861.2" y2="49.7" stroke="#ff0000" stroke-width="2.6" stroke-linecap="round"/>
<text x="869.3" y="56.0" fill="#ff0000">Zn-SA/CNCl-1000</text>
<line x1="819.4" y1="72.2" x2="861.2" y2="72.2" stroke="#0000ff" stroke-width="2.6" stroke-linecap="round"/>
<text x="869.3" y="78.5" fill="#0000ff">Zn-SA/CNCl-920</text>
<line x1="819.4" y1="94.8" x2="861.2" y2="94.8" stroke="#008000" stroke-width="2.6" stroke-linecap="round"/>
<text x="869.3" y="101.1" fill="#008000">Zn-SA/CNCl-850</text>
<line x1="819.4" y1="117.3" x2="861.2" y2="117.3" stroke="#000000" stroke-width="2.6" stroke-linecap="round"/>
<text x="869.3" y="123.6" fill="#000000">Zn foil</text>
<line x1="819.4" y1="140.1" x2="861.2" y2="140.1" stroke="#ff8000" stroke-width="2.6" stroke-linecap="round"/>
<text x="869.3" y="146.4" fill="#ff8000">ZnO</text>
<line x1="819.4" y1="162.8" x2="861.2" y2="162.8" stroke="#8000ff" stroke-width="2.6" stroke-linecap="round"/>
<text x="869.3" y="169.1" fill="#8000ff">ZnCl<tspan font-size="11.5" dy="4">2</tspan></text>
</g>
<g font-size="21.2">
<text x="834.5" y="235.6" fill="#ff8000">Zn-O</text>
<text x="990.7" y="146.6" fill="#8000ff">Zn-Cl</text>
<text x="1120.3" y="155.6">Zn-Zn</text>
<text x="1167.2" y="261.9" fill="#ff8000">Zn-O-Zn</text>
</g>
<line x1="890.4" y1="236.4" x2="921.8" y2="260.1" stroke="#ff8000" stroke-width="1.8"/><polygon points="930.2,266.4 918.3,261.5 922.2,256.3" fill="#ff8000"/>
<line x1="1022.6" y1="151.5" x2="999.8" y2="185.6" stroke="#8000ff" stroke-width="1.8"/><polygon points="994.0,194.3 998.2,182.1 1003.6,185.7" fill="#8000ff"/>
<line x1="1140.6" y1="165.4" x2="1058.5" y2="234.2" stroke="#000" stroke-width="1.8"/><polygon points="1050.5,240.9 1058.0,230.4 1062.2,235.4" fill="#000"/>
<line x1="1174.1" y1="270.2" x2="1131.1" y2="309.6" stroke="#ff8000" stroke-width="1.8"/><polygon points="1123.4,316.7 1130.4,305.9 1134.8,310.6" fill="#ff8000"/>
</g>
<g id="pc">
<svg x="1506.1" y="33.4" width="473.2" height="381.0" viewBox="1506.1 33.4 473.2 381.0" overflow="hidden"><g fill="none" stroke-width="3" stroke-linejoin="round">
<path d="M1506.3 376.6l1.5-0.1l1.4 0.2l1.5 0.4l1.5 0.6l1.5 0.8l1.4 1l1.5 1.1l1.5 1.2l1.5 1.3l1.4 1.5l1.5 1.5l1.5 1.6l1.4 1.6l1.5 1.7l1.5 1.6l1.5 1.6l1.4 1.6l1.5 1.6l1.5 1.5l1.5 1.4l1.4 1.3l1.5 1.2l1.5 1l1.5 0.9l1.4 0.7l1.5 0.5l1.5-0.8l1.5-1.1l1.5-1.4l1.5-1.5l1.4-1.7l1.5-1.8l1.5-2l1.5-2.1l1.5-2.1l1.5-2.2l1.5-2.2l1.5-2.2l1.5-2.2l1.4-2.1l1.5-2.1l1.5-2l1.5-1.9l1.5-1.8l1.5-1.7l1.5-1.6l1.5-1.5l1.5-1.3l1.4-1.2l1.5-1.1l1.5-1l1.5-0.8l1.5-0.6l1.5-0.5l1.5-0.3l1.5-0.1l1.5 0.1l1.5 0.2l1.4 0.4l1.5 0.7l1.5 0.8l1.5 1l1.5 1.1l1.5 1.4l1.5 1.5l1.5 1.7l1.5 1.8l1.4 2l1.5 2.2l1.5 2.2l1.5 2.4l1.5 2.5l1.5 2.4l1.5 2.6l1.5 2.5l1.5 2.4l1.4 2.4l1.5 2.3l1.5 2.1l1.5 2l1.5 1.7l1.5-1.5l1.5-2l1.5-2.7l1.5-3.1l1.5-3.5l1.5-3.9l1.5-4.3l1.5-4.5l1.5-4.8l1.5-4.9l1.5-5.1l1.5-5.1l1.5-5.1l1.5-5.1l1.5-5l1.5-5.1l1.5-4.9l1.5-5l1.5-4.9l1.5-4.8l1.5-4.8l1.5-4.6l1.5-4.7l1.5-4.5l1.5-4.5l1.5-4.3l1.5-4.3l1.5-4.1l1.5-4.1l1.5-3.9l1.5-3.9l1.5-3.8l1.5-3.7l1.5-3.6l1.5-3.6l1.5-3.5l1.5-3.4l1.5-3.4l1.5-3.3l1.5-3.2l1.5-3.1l1.5-3l1.5-2.8l1.5-2.7l1.5-2.5l1.5-2.3l1.5-2.1l1.5-1.8l1.5-1.7l1.5-1.5l1.5-1.2l1.5-1.1l1.5-0.8l1.5-0.6l1.5-0.4l1.5-0.2l1.5 0l1.5 0.2l1.5 0.5l1.5 0.6l1.5 0.9l1.5 1l1.5 1.3l1.5 1.5l1.5 1.6l1.5 1.8l1.5 1.9l1.5 2.1l1.5 2.2l1.5 2.3l1.5 2.4l1.5 2.4l1.5 2.5l1.5 2.6l1.5 2.6l1.5 2.6l1.5 2.5l1.5 2.6l1.5 2.6l1.5 2.6l1.5 2.5l1.5 2.6l1.5 2.6l1.5 2.5l1.5 2.6l1.5 2.5l1.5 2.6l1.5 2.5l1.5 2.6l1.5 2.6l1.5 2.6l1.5 2.5l1.5 2.6l1.5 2.6l1.5 2.6l1.5 2.6l1.5 2.5l1.5 2.5l1.5 2.5l1.5 2.4l1.5 2.4l1.5 2.3l1.5 2.3l1.5 2.2l1.5 2.1l1.5 2.1l1.5 2.1l1.5 1.9l1.5 2l1.5 1.8l1.5 1.8l1.5 1.8l1.5 1.6l1.5 1.7l1.5 1.5l1.5 1.5l1.5 1.5l1.6 1.3l1.5 1.4l1.5 1.2l1.5 1.2l1.5 1.1l1.5 1.1l1.5 1l1.5 0.9l1.5 0.9l1.5 0.8l1.5 0.8l1.5 0.7l1.5 0.6l1.5 0.6l1.5 0.4l1.5 0.5l1.5 0.3l1.5 0.3l1.5 0.3l1.5 0.1l1.5 0.1l1.5 0l1.5 0l1.5-0.1l1.5-0.1l1.5-0.2l1.5-0.3l1.5-0.2l1.5-0.3l1.5-0.4l1.5-0.3l1.5-0.4l1.5-0.4l1.5-0.4l1.5-0.4l1.5-0.4l1.5-0.4l1.5-0.4l1.5-0.3l1.5-0.4l1.5-0.3l1.5-0.3l1.5-0.2l1.5-0.2l1.5-0.2l1.5-0.1l1.5 0l1.5 0l1.5 0.1l1.5 0.1l1.5 0.3l1.5 0.3l1.5 0.4l1.5 0.5l1.5 0.5l1.5 0.7l1.5 0.7l1.5 0.8l1.5 0.8l1.5 0.9l1.5 0.9l1.5 0.9l1.5 1l1.5 1l1.5 1l1.5 0.9l1.5 1l1.5 1l1.5 0.9l1.5 0.9l1.5 0.8l1.5 0.8l1.5 0.7l1.5 0.7l1.5 0.6l1.5 0.5l1.5 0.5l1.5 0.4l1.5 0.4l1.5 0.4l1.5 0.3l1.5 0.3l1.5 0.3l1.5 0.2l1.5 0.3l1.5 0.2l1.5 0.2l1.5 0.2l1.5 0.3l1.5 0.2l1.5 0.3l1.5 0.3l1.5 0.3l1.5 0.3l1.5 0.4l1.5 0.4l1.5 0.5l1.5 0.4l1.5 0.6l1.5 0.5l1.5 0.7l1.5 0.6l1.5 0.8l1.5 0.8l1.5 0.8l1.5 1l1.5 1l1.5 1.1l1.5 1.1l1.5 1.3l1.5 1.3l1.5 1.3l1.5 1.4l1.5 1.5l1.5 1.4l1.5 1.5l1.5 1.5l1.5 1.5" stroke="#ff0000"/>
<path d="M1506.3 363.9l1.5 0l1.5 0.3l1.5 0.6l1.5 0.7l1.5 0.9l1.5 1.1l1.5 1.2l1.5 1.3l1.5 1.5l1.5 1.4l1.5 1.5l1.5 1.6l1.5 1.5l1.5 1.4l1.5 1.5l1.5 1.3l1.5 1.2l1.5 1.1l1.5 0.9l1.5 0.7l1.5 0.6l1.5 0.3l1.5 0l1.5-0.1l1.5-0.4l1.5-0.6l1.5-0.8l1.5-1.1l1.5-1.3l1.5-1.6l1.5-1.7l1.5-1.9l1.5-2l1.5-2.1l1.5-2.2l1.5-2.2l1.6-2.2l1.5-2.1l1.5-2.1l1.5-1.9l1.5-1.8l1.5-1.7l1.5-1.5l1.5-1.3l1.5-1.2l1.5-1l1.5-0.8l1.5-0.7l1.5-0.6l1.5-0.3l1.5-0.2l1.5-0.1l1.5 0.1l1.5 0.3l1.5 0.4l1.5 0.7l1.5 0.7l1.5 1l1.5 1.1l1.5 1.2l1.5 1.5l1.5 1.6l1.5 1.7l1.5 1.8l1.5 1.9l1.5 1.9l1.5 1.9l1.5 1.8l1.5 1.7l1.5 1.5l1.5 1.3l1.5 1.1l1.5 0.7l1.5 0l1.5-0.9l1.5-1.8l1.5-2.6l1.5-3.3l1.5-4l1.5-4.6l1.5-5.1l1.5-5.7l1.5-6.1l1.5-6.6l1.5-6.8l1.5-7l1.5-7.1l1.5-6.8l1.5-6.4l1.5-5.9l1.5-5l1.5-4.4l1.5-4.1l1.5-4.2l1.5-4.7l1.5-4.9l1.5-5.2l1.5-5.3l1.5-5.5l1.5-5.5l1.5-5.6l1.5-5.7l1.5-5.6l1.5-5.7l1.5-5.5l1.5-5.6l1.5-5.4l1.5-5.2l1.5-5.1l1.5-5l1.5-4.7l1.5-4.4l1.5-4.2l1.5-3.9l1.5-3.5l1.5-3.3l1.5-3l1.5-2.6l1.5-2.3l1.5-2l1.5-1.6l1.5-1.3l1.5-0.9l1.5-0.6l1.5-0.2l1.5 0.2l1.5 0.5l1.5 0.8l1.5 1.2l1.5 1.5l1.5 1.9l1.5 2.1l1.5 2.3l1.6 2.7l1.5 2.9l1.5 3.1l1.5 3.3l1.5 3.6l1.5 3.7l1.5 3.9l1.5 4.1l1.5 4.2l1.5 4.4l1.5 4.4l1.5 4.6l1.5 4.7l1.5 4.7l1.5 4.9l1.5 4.8l1.5 4.9l1.5 5l1.5 4.9l1.5 4.9l1.5 5l1.5 4.8l1.5 4.9l1.5 4.7l1.5 4.7l1.5 4.5l1.5 4.4l1.5 4.3l1.5 4.1l1.5 3.9l1.5 3.7l1.5 3.5l1.5 3.2l1.5 3l1.5 2.7l1.5 2.4l1.5 2.1l1.5 1.7l1.5 1.4l1.5 1.1l1.5 0.8l1.5 0.5l1.5 0.2l1.5 0l1.5-0.4l1.5-0.5l1.5-0.9l1.5-1l1.5-1.3l1.5-1.4l1.5-1.7l1.5-1.8l1.5-2l1.5-2.1l1.5-2.3l1.5-2.3l1.5-2.5l1.5-2.5l1.5-2.6l1.5-2.6l1.5-2.7l1.5-2.6l1.5-2.7l1.5-2.6l1.5-2.6l1.5-2.5l1.5-2.5l1.5-2.3l1.5-2.3l1.5-2.2l1.5-2.2l1.5-2l1.5-1.9l1.5-1.8l1.5-1.7l1.5-1.7l1.5-1.4l1.5-1.4l1.5-1.3l1.5-1.1l1.5-1l1.5-0.9l1.5-0.7l1.5-0.6l1.5-0.4l1.5-0.3l1.5-0.2l1.5 0l1.5 0.2l1.5 0.3l1.5 0.5l1.5 0.6l1.5 0.8l1.5 0.9l1.5 1.1l1.5 1.2l1.5 1.4l1.5 1.5l1.5 1.6l1.5 1.8l1.5 1.9l1.5 2.1l1.5 2.2l1.5 2.3l1.5 2.5l1.5 2.6l1.5 2.7l1.5 2.9l1.5 3l1.5 3.1l1.5 3.3l1.5 3.3l1.5 3.5l1.5 3.6l1.5 3.7l1.5 3.8l1.5 3.9l1.5 4l1.5 4l1.5 4l1.5 4l1.6 4.1l1.5 4.1l1.5 4l1.5 4l1.5 4l1.5 3.9l1.5 3.8l1.5 3.7l1.5 3.7l1.5 3.5l1.5 3.4l1.5 3.3l1.5 3.1l1.5 2.9l1.5 2.8l1.5 2.6l1.5 2.3l1.5 2.2l1.5 1.9l1.5 1.6l1.5 1.6l1.5 1.3l1.5 1.2l1.5 1.1l1.5 1l1.5 0.9l1.5 0.9l1.5 0.9l1.5 0.9l1.5 0.9l1.5 1l1.5 1.1l1.5 1l1.5 1.1l1.5 1l1.5 1l1.5 0.9l1.5 0.8l1.5 0.6l1.5 0.5l1.5 0.3l1.5 0.1l1.5-0.1l1.5-0.4l1.5-0.6l1.5-0.7l1.5-0.9l1.5-1.1l1.5-1.1l1.5-1.3l1.5-1.3l1.5-1.3l1.5-1.3l1.5-1.4l1.5-1.3l1.5-1.3l1.5-1.1l1.5-1.1l1.5-1l1.5-0.8l1.5-0.6" stroke="#0000ff"/>
<path d="M1506.3 357.9l1.5 0l1.5 0.2l1.5 0.4l1.5 0.6l1.5 0.8l1.4 1l1.5 1.2l1.5 1.3l1.5 1.5l1.5 1.6l1.5 1.8l1.5 1.9l1.5 1.9l1.5 2l1.5 1.9l1.5 1.8l1.5 1.7l1.5 1.5l1.4 1.2l1.5 0.9l1.5 0.6l1.5 0.2l1.5-0.1l1.5-0.4l1.5-0.7l1.5-1l1.5-1.3l1.5-1.4l1.5-1.6l1.4-1.8l1.5-2l1.5-2l1.5-2.1l1.5-2.2l1.5-2.2l1.5-2.3l1.5-2.2l1.5-2.1l1.5-2.1l1.5-2l1.5-1.8l1.5-1.7l1.4-1.6l1.5-1.4l1.5-1.2l1.5-1.1l1.5-0.9l1.5-0.7l1.5-0.5l1.5-0.4l1.5-0.1l1.5 0l1.5 0.3l1.4 0.5l1.5 0.7l1.5 0.9l1.5 1.1l1.5 1.4l1.5 1.6l1.5 1.9l1.5 2.1l1.5 2.3l1.5 2.4l1.5 2.5l1.5 2.5l1.5 2.4l1.4 2.4l1.5 2.1l1.5 2l1.5 1.6l1.5 1.3l1.5 0.9l1.5 0.4l1.5-1l1.5-2.1l1.5-3.3l1.5-4l1.5-4.8l1.5-5.4l1.5-5.9l1.5-6.3l1.5-6.5l1.5-6.8l1.5-6.9l1.5-6.8l1.5-6.7l1.5-6.6l1.5-6.2l1.5-5.7l1.5-5.4l1.5-5.1l1.5-5.2l1.5-5.4l1.5-5.6l1.5-5.7l1.5-5.9l1.5-6l1.5-6l1.5-6l1.5-6l1.5-5.9l1.5-5.8l1.5-5.7l1.5-5.6l1.5-5.3l1.5-5.1l1.5-4.8l1.5-4.6l1.5-4.2l1.5-4l1.5-3.8l1.5-3.4l1.5-3.1l1.5-2.7l1.5-2.5l1.5-2.1l1.5-1.8l1.5-1.4l1.5-1l1.6-0.7l1.5-0.3l1.5 0.1l1.5 0.5l1.5 0.8l1.5 1.3l1.5 1.6l1.5 2.1l1.5 2.4l1.5 2.8l1.5 3.2l1.5 3.4l1.5 3.7l1.5 4l1.5 4.2l1.5 4.5l1.5 4.6l1.5 4.8l1.5 5l1.5 5.2l1.5 5.3l1.5 5.4l1.5 5.6l1.5 5.8l1.5 5.8l1.5 6l1.5 6l1.5 6.2l1.5 6.2l1.5 6.2l1.5 6.3l1.5 6.3l1.5 6.4l1.5 6.2l1.5 6.3l1.5 6l1.5 5.9l1.5 5.7l1.5 5.4l1.5 5l1.5 4.6l1.5 4.1l1.5 3.7l1.5 3l1.5 2.3l1.5 1.7l1.5 0.9l1.5 0l1.5-0.8l1.5-2.5l1.5-2.9l1.5-3.2l1.5-3.5l1.5-3.7l1.5-3.9l1.5-4.1l1.5-4.1l1.5-4.2l1.5-4.3l1.4-4.2l1.5-4.2l1.5-4.2l1.5-4.2l1.5-4.2l1.5-4l1.5-4l1.5-3.9l1.5-3.9l1.5-3.8l1.5-3.6l1.5-3.7l1.5-3.5l1.5-3.5l1.5-3.3l1.5-3.4l1.5-3.2l1.5-3.2l1.5-3.1l1.5-3.1l1.5-3l1.4-2.9l1.5-2.9l1.5-2.8l1.5-2.7l1.5-2.7l1.5-2.5l1.5-2.4l1.5-2.4l1.5-2.2l1.5-2.1l1.5-1.9l1.5-1.8l1.5-1.7l1.5-1.5l1.5-1.3l1.5-1.2l1.5-0.9l1.5-0.8l1.5-0.6l1.5-0.4l1.5-0.2l1.4 0.1l1.5 0.2l1.5 0.5l1.5 0.7l1.5 0.9l1.5 1.2l1.5 1.2l1.5 1.5l1.5 1.6l1.5 1.9l1.5 1.9l1.5 2.1l1.5 2.3l1.5 2.4l1.5 2.5l1.5 2.6l1.5 2.7l1.5 2.9l1.5 2.9l1.5 3.1l1.5 3.1l1.4 3.2l1.5 3.3l1.5 3.4l1.5 3.5l1.5 3.5l1.5 3.5l1.5 3.6l1.5 3.7l1.5 3.7l1.5 3.7l1.5 3.7l1.5 3.8l1.5 3.8l1.5 3.7l1.5 3.8l1.5 3.7l1.5 3.7l1.5 3.7l1.5 3.5l1.5 3.5l1.5 3.4l1.5 3.2l1.4 3.1l1.5 2.9l1.5 2.8l1.5 2.5l1.5 2.4l1.5 2.2l1.5 2.1l1.5 1.9l1.5 1.7l1.5 1.6l1.5 1.5l1.5 1.4l1.5 1.3l1.5 1.2l1.5 1.1l1.5 1.1l1.5 1l1.5 0.9l1.5 0.9l1.5 0.9l1.5 0.8l1.4 0.9l1.5 0.8l1.5 0.9l1.5 0.9l1.5 0.9l1.5 1l1.5 1l1.5 1.1l1.5 1.2l1.5 1.2l1.5 1.3l1.5 1.3l1.5 1.4l1.5 1.5l1.5 1.5l1.5 1.5l1.5 1.5l1.5 1.5l1.5 1.5l1.5 1.6l1.5 1.5l1.4 1.5l1.5 1.4l1.5 1.4l1.5 1.4l1.5 1.4l1.5 1.2l1.5 1.3l1.5 1.1l1.5 1.1l1.5 0.9l1.5 0.9" stroke="#008000"/>
</g></svg>
<rect x="1506.1" y="33.4" width="473.2" height="381.0" fill="none" stroke="#000" stroke-width="3"/>
<path d="M1506.1 414.4v7.6M1545.5 414.4v3.8M1585.0 414.4v7.6M1624.4 414.4v3.8M1663.8 414.4v7.6M1703.3 414.4v3.8M1742.7 414.4v7.6M1782.1 414.4v3.8M1821.6 414.4v7.6M1861.0 414.4v3.8M1900.4 414.4v7.6M1939.9 414.4v3.8M1979.3 414.4v7.6M1506.1 414.4h-7.6M1506.1 395.3h-3.8M1506.1 376.3h-7.6M1506.1 357.2h-3.8M1506.1 338.2h-7.6M1506.1 319.1h-3.8M1506.1 300.1h-7.6M1506.1 281.0h-3.8M1506.1 262.0h-7.6M1506.1 242.9h-3.8M1506.1 223.9h-7.6M1506.1 204.8h-3.8M1506.1 185.8h-7.6M1506.1 166.7h-3.8M1506.1 147.7h-7.6M1506.1 128.6h-3.8M1506.1 109.6h-7.6M1506.1 90.5h-3.8M1506.1 71.5h-7.6M1506.1 52.4h-3.8M1506.1 33.4h-7.6" stroke="#000" stroke-width="3" fill="none"/>
<g font-size="23.2" text-anchor="middle">
<text transform="translate(1505.8 444.2) scale(0.927 1)">0.0</text>
<text transform="translate(1584.7 444.2) scale(0.927 1)">0.5</text>
<text transform="translate(1663.5 444.2) scale(0.927 1)">1.0</text>
<text transform="translate(1742.4 444.2) scale(0.927 1)">1.5</text>
<text transform="translate(1821.3 444.2) scale(0.927 1)">2.0</text>
<text transform="translate(1900.1 444.2) scale(0.927 1)">2.5</text>
<text transform="translate(1979.0 444.2) scale(0.927 1)">3.0</text>
</g>
<g font-size="23.2" text-anchor="end">
<text transform="translate(1492.8 421.8) scale(0.927 1)">0.0</text>
<text transform="translate(1492.8 383.7) scale(0.927 1)">0.5</text>
<text transform="translate(1492.8 345.6) scale(0.927 1)">1.0</text>
<text transform="translate(1492.8 307.5) scale(0.927 1)">1.5</text>
<text transform="translate(1492.8 269.4) scale(0.927 1)">2.0</text>
<text transform="translate(1492.8 231.3) scale(0.927 1)">2.5</text>
<text transform="translate(1492.8 193.2) scale(0.927 1)">3.0</text>
<text transform="translate(1492.8 155.1) scale(0.927 1)">3.5</text>
<text transform="translate(1492.8 117.0) scale(0.927 1)">4.0</text>
<text transform="translate(1492.8 78.9) scale(0.927 1)">4.5</text>
<text transform="translate(1492.8 40.8) scale(0.927 1)">5.0</text>
</g>
<text x="1744.4" y="482.0" font-size="32" text-anchor="middle"><tspan font-style="italic">R</tspan> (Å)</text>
<text transform="translate(1430.0 218.0) rotate(-90)" font-size="32.3" text-anchor="middle"><tspan>|FT k</tspan><tspan font-size="24" dy="-12.4">3</tspan><tspan dy="12.4" font-weight="bold" font-family="'Liberation Serif','DejaVu Serif',serif" font-size="34">χ</tspan><tspan>(k)|</tspan></text>
<text x="1410.5" y="35.2" font-size="48.5">c</text>
<g font-size="21.3">
<line x1="1732" y1="51.5" x2="1781" y2="51.5" stroke="#ff0000" stroke-width="2.8" stroke-linecap="round"/>
<text x="1792.3" y="58.8" fill="#ff0000">Zn-SA/CNCl-1000</text>
<line x1="1732" y1="78.6" x2="1781" y2="78.6" stroke="#0000ff" stroke-width="2.8" stroke-linecap="round"/>
<text x="1792.3" y="85.9" fill="#0000ff">Zn-SA/CNCl-920</text>
<line x1="1732" y1="105.9" x2="1781" y2="105.9" stroke="#008000" stroke-width="2.8" stroke-linecap="round"/>
<text x="1792.3" y="113.2" fill="#008000">Zn-SA/CNCl-850</text>
</g>
<text x="1513" y="68.8" font-size="32.3">Cl K-edge</text>
<g font-size="25">
<text x="1534.3" y="183.8">Cl-C path</text>
<text x="1745.9" y="172.8">Cl-Zn path</text>
</g>
<line x1="1667.0" y1="266.4" x2="1611.4" y2="210.3" stroke="#000" stroke-width="2.1"/><polygon points="1602.9,201.8 1615.4,209.1 1610.1,214.4" fill="#000"/>
<line x1="1830.7" y1="183.3" x2="1864.2" y2="362.6" stroke="#000" stroke-width="2.1"/><polygon points="1866.4,374.4 1860.1,361.3 1867.5,359.9" fill="#000"/>
</g>
<g id="pd">
<svg x="91.5" y="564.5" width="396.5" height="381.0" viewBox="91.5 564.5 396.5 381.0" overflow="hidden">
<g stroke="none" fill-rule="evenodd">
<rect x="90.5" y="563.5" width="398.5" height="383.0" fill="#0000ff"/>
<path fill="#0016ff" d="M99.2 563.5l300.7 0l0.6 7.1l6 36.8l7 37.3l20 98.2l4 16.3l11.4 40.3l11.6 35l2.2 6l1.9 4l3.4 5l12.1 14l3.1 4l2.4 4l1.7 5l1.2 8l0 62l-398 0l0-201.9l6.6-97.1l2.8-75l-0.1-5zM223.5 606.3l-0.4 1.2l0.4 1.3l1 0.1l0.6-1.4l-0.6-1.3z"/>
<path fill="#002bff" d="M110.8 563.5l273.7 0l1 8.4l7.4 35.6l8.6 45.1l9.2 45.9l9.8 54.4l10 46.8l8.6 35.8l2 7l2.4 5.6l3 5.4l8.1 13l2.1 4l2.1 5l2.2 7l12.5 46.4l3 10l2.7 7.6l-388.7 0l0-152l8.1-38l2-13l7.2-97l3.6-73l0-5zM191.5 779.6l-1.8 0.9l-0.9 1l-0.5 1l-0.4 2l0.4 2l0.5 1l1 1l1.7 0.6l2-0.5l1-0.8l1-1.6l0.4-1.7l-0.3-2l-1.1-1.8l-1-0.8zM224.5 599.5l-1 0l-1 0.6l-1 1.2l-1.1 2.2l-0.7 3l0 2l0.8 2.8l1 1.6l1 0.9l1 0.4l1 0.1l1-0.4l1-0.8l1.1-1.6l0.9-3l-0.1-3l-0.9-2.9l-1-1.6l-1-1.1zM277.5 565.6l-1 0.4l-1 1l-0.7 2.5l0.7 2.5l1 1.1l1 0.4l1-0.1l1-0.9l0.9-2l0.1-1l-0.2-1l-0.8-1.8l-1-0.8zM325.2 831.5l-1 1l-0.8 2l0.1 2l1 1.9l1.4 1.1l1.6 0.6l2 0l2-1l1.2-1.6l0.3-2l-0.5-1.9l-0.7-1.1l-1.3-1.1l-2-0.8l-2 0.2z"/>
<path fill="#0041ff" d="M117.5 563.5l156.4 0l-1 2l-0.4 2l0.2 4l0.8 2.4l1 1.6l1 1l2 0.8l2-0.7l1-1l1-1.5l0.9-2.6l0.3-2l-0.2-2l-0.6-2l-1.1-2l95 0l0.4 4l0.9 5l9.1 40l16 83l11.3 67.9l7 39.4l7.1 37.7l1.7 6l2 5l8.3 17l3.4 8l11.5 33.3l14.1 36.7l-378.1 0l0-117.7l8-38.5l6-33.3l1.6-12.5l7.5-97l4.1-73l0.2-6zM191.5 776.8l-2 0.7l-2 1.8l-1.2 2.2l-0.6 3l0.4 3l1.4 2.6l2 1.5l2 0.4l2-0.5l2.5-2l1.5-2.7l0.4-2.3l-0.4-3l-1-2.1l-2-1.9l-1-0.4zM224.5 589.7l-1 0.1l-0.8 0.7l-1.2 2.2l-3 8.7l-0.6 3.1l-0.2 3l0.6 4l1.7 4l1.5 2.1l1 0.8l1 0.5l1 0l2-1.1l2.3-3.3l1.4-4l0.4-4l-0.5-4l-1.6-5.1l-2-5.1l-1-1.8zM324.5 829l-2 1.7l-1.3 2.8l-0.1 3l1.2 3l2.2 2l3 1.1l3 0l2.6-1.1l1.9-2l0.7-2l-0.2-3l-1.4-3l-2.2-2l-2.4-1.1l-3-0.1z"/>
<path fill="#0057ff" d="M122.4 563.5l148.4 0l-0.4 6l1.1 5.3l1.2 2.7l1.8 2.5l2 1.3l1 0.1l1-0.2l2-1.6l2-3l1-2.5l0.6-2.6l0.2-3l-0.9-5l86 0l1.7 9l6.1 24l4.1 18l15.4 82l5.6 35l15.8 105l1.5 8l3.5 11l14.4 36l7.1 17l12.9 29l3.4 9l-370.4 0l0-95.2l6.1-24.8l5.5-26l5.7-36l2.4-19l1.6-17l6.1-81l4.4-73l0.3-7zM192.5 774.3l-3 0.4l-2.5 1.8l-2.1 3l-1.1 4l0.1 4l0.5 2l1 2l2.1 2.1l1 0.5l2 0.4l3-0.5l3-2.1l2-3l1-3.4l-0.2-4l-1.1-3l-1.5-2l-1.2-1.1l-1-0.6zM223.5 583.5l-1 0.4l-1.6 1.6l-1.2 2l-0.7 2l-2.5 11.2l-0.6 6.8l0.9 6l2.7 6.9l1 1.8l1.7 2.3l1.3 0.8l1 0.1l1.4-0.9l1.6-2l3-6.1l1.6-5.9l0.4-5l-1-6.9l-1.7-7.1l-1-3l-1.3-2.5l-1-1.3l-1-0.8l-1-0.4zM322.5 827.8l-2.3 2.7l-0.9 2l-0.3 2l0 2l0.5 2l1.8 3l1.2 1.1l2 1.2l4 1.1l2 0l2-0.4l2-0.8l1.6-1.2l0.9-1l1-2l0.4-3l-0.4-2l-0.7-2l-2.1-3l-2.7-2.1l-2-0.9l-2-0.5l-3 0.3z"/>
<path fill="#006dff" d="M126.5 563.5l141.6 0l0.2 5l0.6 4l0.6 3l1.4 4l1.6 3.2l2 2.8l1.4 1l1.6 0.3l2-1.1l1-1.1l2-3.3l2-4.8l0.8-3l0.5-4l-0.4-6l78.9 0l1.9 9l6.8 25l4.8 21l3 15l4.1 24l6.2 33l7.2 46l5.8 42l7.7 61l1.7 9.6l2 7.2l3 9.1l7.8 20.1l7.3 16l16.5 33l2.6 6l2 6l-364.2 0l0-81.7l7.7-25.3l4.8-19l3.9-21l4.7-35l3.5-32l4.5-58l6.4-98zM191.5 771.6l-2 0.3l-2 1l-2.6 2.6l-2.2 4l-1 5l0 3l0.4 2l1.4 3.5l1.1 1.5l1.9 1.5l3 1l2-0.1l2-0.6l2-1.1l2-1.7l1.4-2l1.1-2l1-4l0.1-3l-0.4-2l-1-3l-1.2-2l-1-1.2l-2-1.7l-2-0.8zM223.5 570.3l-1 0.5l-1.3 1.7l-4.3 14l-2.2 13l-0.5 8l0.4 4l0.7 4l3.2 9.7l1.2 2.3l1.8 2l1 0.6l2 0.4l2-0.8l1-0.9l1.5-2.3l1.5-3.2l2-5.8l1-4l0.6-4l0.2-5l-1.1-9l-1.9-9l-4.8-14.4l-1-1.3l-1-0.5zM321.5 826l-1.6 1.5l-1.4 2l-0.8 2l-0.6 3l0.2 3l0.6 2l1 2l1.6 1.9l2 1.5l2 1l3 0.8l2 0.3l3-0.1l2-0.5l2.1-0.9l1.9-1.3l2-2.7l0.5-2l0.1-2l-0.3-2l-1-3l-1-2l-1.6-2l-3.7-3l-2-0.9l-2-0.5l-2-0.2l-2 0.2l-2 0.7z"/>
<path fill="#0082ff" d="M130.2 563.5l93.6 0l-2.3 0.9l-2 1.8l-1.4 2.3l-1.4 4l-2.9 17l-1.1 10l-0.2 7l0.3 5l0.7 5l1.7 7l1.6 5l1.7 3.4l2 2.4l2 1.3l2 0.2l2-0.7l2-1.7l1.4-1.9l1.6-3.2l1.6-4.8l1.9-7l1-6l0.4-5l-0.3-6l-0.9-7l-4.2-22l-1.1-3l-1.3-2l-1.1-1.1l-2-0.9l39.6 0l2.1 12l1.6 6l1.7 4.8l1.7 3.2l1.3 1.6l1 0.7l2 0.6l2-0.6l2-1.7l2-3.1l1.5-3.5l1.5-4.6l1.2-5.4l0.6-5l-0.1-5l72.2 0l2.3 9l7.1 25l6.4 27l2.4 12l3.6 22l6.1 33l6 40l3 22l2.6 22l1.6 18l2.8 26l2.2 23l1.7 10l1.8 7l2.9 9l6.3 16l6.2 13l20.1 37.8l2.8 6.2l1.6 5l-358.4 0l0-63.9l3.4-15.1l9.1-28l3.6-13l3-15l2.1-15l7.2-67l4.4-59zM192.5 768.7l-2 0.1l-2 0.5l-2 1.1l-2 1.7l-1.8 2.4l-1.1 2l-1.2 3l-0.7 3l-0.3 3l0.1 3l0.5 3l0.7 2l1.1 2l1.7 1.8l2 1.3l2 0.6l2 0.2l3-0.5l2-0.8l2.3-1.6l2-2l1.7-2.7l1-2.3l0.8-3l0.2-3l-0.2-3l-0.8-3l-1-2.3l-2-3l-1.8-1.7l-2.2-1.3zM319.5 825l-2 2.5l-1 2l-0.9 3l-0.3 3l0.4 3l0.6 2l1.2 2.1l2 2.4l2 1.5l3 1.3l4 1.1l3 0.2l3-0.2l3-0.8l2-0.9l2.3-1.7l1.5-2l0.8-2l0.3-2l-0.3-3l-1.8-5l-2-3l-1.8-2l-2.6-2l-2.4-1.4l-2-0.8l-3-0.5l-3 0.1l-2 0.6l-2 1z"/>
<path fill="#0098ff" d="M133.8 563.5l81.9 0l-1.2 3.2l-1 4.1l-1.7 13.7l-1.2 17l0 6l0.3 5l2.2 13l1 4l1.4 3.6l1.9 3.4l1.7 2l2.4 1.7l2 0.5l3-0.7l2-1.4l2-2.1l1.8-3l1.3-3l1.6-5l2.8-13l0.7-7l-0.1-6l-2.6-21l-1-15l26.5 0l1.6 5l3.9 18l1.5 4.6l1.2 2.4l1.8 2.1l2 1.3l2 0.5l2-0.3l1-0.4l2-1.6l2-2.5l2-4.1l2-6.7l1.4-6.3l0.8-6l0.2-6l65.8 0l10.3 36l7.2 29l2.6 13l9.2 53l6.4 44l3.4 30l0.8 11l0 17l2.1 20l1.1 27l1.4 9l1.6 6l2.4 7l6.2 15l7.9 16l20 37l3.2 7l2.1 6l-352.1 0l0-46l7.9-33l9.5-28l3.3-11l2.4-11l2-14l4.7-53l2.2-21l4-58l3.4-55zM192.5 765.6l-3 0.2l-2 0.6l-3 1.9l-2 1.9l-1.7 2.3l-1.6 3l-1.2 3l-1 4l-0.4 4l0 3l0.5 3l1.1 3l1.3 2.1l2 2l2 1.2l3 0.9l3 0.1l3-0.7l3-1.4l2-1.5l2-2.1l2-3.1l1.5-3.5l0.7-3l0.2-3l-0.3-4l-0.7-3l-1.4-3.5l-2-3.1l-2-2l-2-1.4zM317.5 824.3l-1.6 2.2l-1.4 3.2l-0.8 3.8l0 3l0.5 3l1.2 3l2.1 2.9l2 1.8l3 1.8l4 1.4l4 0.8l4 0.1l4-0.5l3.7-1.3l3.1-2l1.8-2l1-2l0.6-3l-0.1-2l-0.7-3l-1.9-4l-2-3l-2.7-3l-2.5-2l-2.3-1.5l-3-1.4l-3-0.8l-3-0.3l-3 0.4l-3 1.2l-2 1.3z"/>
<path fill="#00aeff" d="M137.3 563.5l74.1 0l-0.9 5l-0.8 7l-1.2 23l0.2 12l1.2 11l2 10l1.4 4l1.4 3l1.8 2.7l2 1.9l2 1.3l3 0.6l3-0.6l2-1.1l2-1.8l2-2.5l2-3.5l1.3-3l2.5-9l2.1-10l1.1-8l0-7l-1.6-15l-0.2-7l0.8-7.6l0.9-3.4l0.9-2l14.2 0.2l2 3l2 4.9l1.9 7.9l1.9 11l1.7 5l1.5 2.3l2 2l2 1.3l3 0.8l3-0.4l3-1.8l2.7-3.2l2.1-4l1.6-5l1.8-8l1.1-7l0.8-9l59.3 0l12.2 41l4.7 18l3.3 14l9.2 51l7.3 50l2.3 20l1.2 17l-0.2 9l-1.4 12l1.4 19l-0.3 9l-1.4 17l0.1 5l0.8 5l2.2 7l4.1 9l8.8 17l17 31l6.3 12l5.2 11l3.2 9l-345.4 0l0-29.5l1-5.5l11-42.1l3-9.1l7.6-20.8l3.2-10l2.2-9l1.6-10l0.8-9l3.2-47l2.1-24l6.9-112zM192.5 762.2l-3 0.1l-3 0.9l-3 1.9l-2.6 2.4l-2.3 3l-2.3 4l-1.5 4l-1.1 4l-0.6 4l0 4l0.5 3l1 3l1.8 3l2.1 2l3 1.8l3 0.8l3 0.2l4-0.7l3-1.2l3-2l2.8-2.9l2-3l1.4-3l1.1-4l0.5-4l-0.3-5l-1-4l-1.5-3.8l-2-3.3l-2-2.3l-3-2zM315.7 823.5l-1.8 3l-1.4 4l-0.6 4l0.3 4l0.9 3l1.6 3l2.6 3l3.2 2.4l4 1.8l5 1.4l5 0.6l5.1-0.2l4.8-1l4.1-1.7l3.2-2.3l2.3-3l0.9-3l-0.1-3l-0.9-3l-1.5-3l-2.1-3l-3.5-4l-3.3-3l-4.3-3l-3.7-1.8l-3-0.9l-4-0.6l-3 0.2l-3 0.8l-2.6 1.3l-2.4 1.9z"/>
<path fill="#00c3ff" d="M140.9 563.5l66.6 0l-1 17l-0.2 23l0.6 12l1.7 13l1.1 5l1.3 4l1.5 3.6l2 3.3l2 2.3l2 1.6l2 0.9l3 0.4l3-0.7l2-1l2-1.6l2-2.1l2-2.8l1.6-2.9l1.8-4l1.3-4l4.6-19l1.5-8l0.1-6l-1.7-13l0.4-7l1.4-5.2l1-1.9l2-1.9l2-0.6l2 0.4l2 1.6l2 3.3l1.6 4.3l1 4l1.6 13l1 3l1.1 2l2.5 3l3.2 2.4l3 1.4l3 0.4l2-0.2l2-0.8l3-2.3l3-3.9l2-4.1l1.6-4.9l1.4-6.1l2.9-20.9l52.8 0l13 42l7.6 28l3.6 17l7.3 42l7.1 51l1.3 12l0.8 11l0.1 12l-0.6 6l-1.8 11l0.1 12l-0.5 7l-0.9 5l-1.2 4l-1.6 4.1l-2 3.7l-2 2.8l-2 2l-2 1.1l-2 0.3l-2-0.5l-2-1.1l-17.5-13.4l-4.6-3l-3.8-2l-5.1-1.9l-4-0.7l-4 0l-4 0.9l-3 1.4l-3 2.4l-2 2.2l-2 3.4l-1.3 3.3l-0.8 4l-0.1 4l0.4 3l1 3l1 2l2.3 3l2.5 2.3l3 2l3 1.5l3 1.1l4 1l8 1l8-0.5l7-1.4l11-3.7l4-0.7l3 0.7l2 1.2l2 1.7l6 6.6l8 10.9l9 13.8l9 15.1l8.1 14.4l6 12l4.8 11l2.9 9l-336.4 0l0.2-22l0.9-7l1.6-8l7.6-27l3.7-12l3.6-10.1l8.4-21.9l3.1-9l2.4-9l1.5-9l0.7-8l0.4-16l1.5-30l1.6-25l1.6-33l2.7-48l2.4-39l3-39zM193.5 758.7l-3-0.3l-4 0.9l-3 1.6l-3.3 2.6l-3.5 4l-2.6 4l-2.4 5l-1.8 5l-1 5l-0.3 4l0.5 4l1 3l1.8 3l2.6 2.7l3 1.9l3 1.1l4 0.7l4-0.3l4-1.2l4-2.1l3-2.6l2.6-3.2l2.2-4l1.4-4l0.9-5l0-5l-0.8-5l-1.3-4.1l-2-4.2l-3-4l-3-2.4z"/>
<path fill="#00d9ff" d="M144.6 563.5l59.2 0l-0.1 22l0.3 21l1.1 15l1.4 10l1.2 5l1.6 5l1.8 4l1.7 3l2.5 3l2.2 1.8l2 1l3 0.5l2-0.1l2-0.6l3-1.8l4-4l3-4.5l2.7-5.3l1.9-5l4.4-15.1l2-5.8l3-6.4l2-2.5l1-0.6l1-0.2l2 0.5l11 6.6l3 1.3l3 0.6l3-0.3l2-0.8l3-2.2l2-2.3l2-3l1.4-2.8l1.6-4l1.2-4l1.5-8l2.1-16l0.9-5l46.1 0l12.8 39l4.9 16l5.7 21l3.4 16l6.3 36l7.2 54l1 11l0.6 10l0 8l-0.4 7l-2.1 13l-1.2 11l-1 5l-1 3.2l-1.3 2.8l-1.7 2.6l-2 2.1l-2 1.3l-3 1.1l-2 0.2l-3-0.3l-5-1.5l-13-6.1l-7-2.5l-4-0.9l-3-0.2l-3 0.1l-3 0.6l-4 1.7l-3 2.1l-2.6 2.7l-2 3l-1.8 4l-1.1 4l-0.4 5l0.4 4l0.9 3l0.9 2l3 4l2 2l2.7 2l5 2.7l6 2.1l8 1.7l7 0.6l14 0.5l6 1l3 0.9l4 1.9l3 2l4 3.3l6 6.3l7 8.8l7 10.3l7.8 12.9l5.4 10l4.7 10l3.9 10l2.6 9l-326.4 0l-0.3-16l0.3-6l1.2-8l2-9l5.8-19.1l5.4-15.9l18.2-46l2.9-10l1.5-8l0.4-7l-0.5-13l0.4-32l1.9-64l1.9-38l2.3-38l3.3-42zM194.5 754.9l-4-0.6l-4 0.8l-4 2l-4 3.1l-4.1 4.3l-3.6 5l-3.9 7l-2.6 6l-1.4 5l-0.4 4l0.4 4l1.1 3l1.8 3l3 3l2.9 2l3.8 1.7l5 1.2l5 0l5-1l4-1.7l4-2.8l3-3.1l2.3-3.3l2.3-5l1.4-5l0.5-6l-0.4-6l-1.4-6l-2-5l-2.7-4.3l-3-3.1l-2-1.3zM251.5 582.1l1 0.4l0.7 1l0.4 2l-0.1 1l-1 1.7l-1 0.1l-1-1l-0.6-1.8l0-1l0.6-1.8z"/>
<path fill="#00efff" d="M148.5 563.5l51.6 0l0.5 7l1.1 41l1.3 15l1.6 9l1.5 6l1.7 5l1.7 4l2 3.4l2 2.6l3 2.5l3 1.4l3 0.4l2-0.3l2-0.7l3-1.7l4-3.9l3-4l2.6-4.7l3.2-7l5.2-14.9l2-4.9l2-3.3l2-2l2-1l3-0.2l3 0.9l8 3.4l3 0.7l2 0.1l3-0.6l2-1l2-1.5l2-2.2l2-2.9l2-3.7l2-4.9l1.5-5l1.8-9l2-17l0.7-3.4l0.9-2.6l38.9 0l4.6 12l14 42l6.9 24l3.6 16l6.1 35l6.8 53l0.8 10l0.4 9l0 9l-0.4 7l-1.3 9l-2.9 14l-1 3l-1.4 2.9l-1.4 2.1l-1.9 2l-1.7 1.2l-2 0.9l-2 0.6l-3 0.2l-5-0.7l-14-4.4l-7-1.4l-4-0.3l-3 0.2l-3 0.7l-3 1.1l-3.2 1.9l-3.4 3l-2.4 3.1l-2 3.6l-1.5 4.3l-0.8 4l-0.2 5l0.5 4l1 3l1 2l3 4l4 3.6l5 3.2l5 2.2l7 2.1l6 1.4l15 2.7l8 2.3l5 2.3l4 2.5l4 3.1l3.9 3.6l6.1 6.5l6 7.7l6 8.9l6.5 10.9l4.5 9l3.4 8l3 9l1.9 8l-316.8 0l-0.5-5l-0.1-8l0.6-10l2-11l4-14l7-20l8.9-22l4.8-11l7.2-15l7.6-16.9l4-7.5l2-2.4l1-0.7l1-0.4l2-0.1l3 1l12 5.9l6.9 2.1l4.1 0.7l4 0.1l4-0.4l4-1l4-1.6l3.1-1.8l2.9-2.3l3.4-3.7l2.5-4l1.8-4l1.2-4l0.7-4l0.3-6l-0.3-5l-1.6-7l-2-5.4l-3-5.3l-3-3.3l-3-2.1l-4-1.3l-3-0.1l-4 0.9l-4 2l-4.8 3.6l-6 6l-15.2 18.4l-3 3.1l-2 1.4l-2 0.5l-1-0.3l-1-0.7l-2-3l-1.8-5.4l-1.2-5.8l-0.7-5.2l-1.2-19l-0.5-29l0.3-22l1.7-41l2.3-39l3.4-41l0.7-6z"/>
<path fill="#00fffa" d="M152.7 563.5l43.3 0l0.7 4l0.6 6l1.3 35l0.7 9l1.3 13l2.5 12l2.9 10l2.4 5l2.1 3.3l2 2.2l3 2.2l3 1.3l3 0.4l4-0.7l4-2l4-3.6l3.3-4.1l2.5-4l1.6-3l9.6-22.5l2-3.7l2-2.4l2-1.3l3-0.4l2 0.3l8 2.7l3 0.4l2 0l3-0.8l2.6-1.3l2.4-1.9l2-2.3l2-2.9l2.1-3.9l1.9-4.7l1.7-5.3l2.1-10l2.4-19l1-4l1.4-3l30.9 0l2.6 5l3.2 8l13.4 38l8.6 28l3.7 16l6.2 35l6.3 51l1 16l-0.1 9l-0.4 8l-1.3 10l-2.5 10l-2.2 5.3l-1.8 2.7l-1.2 1.4l-2 1.5l-2 1l-4 0.9l-5-0.2l-14-2.7l-7-0.6l-6 0.6l-3 0.8l-3 1.4l-4 2.7l-3 2.9l-2.5 3.3l-2.1 4l-1.4 4l-0.9 5l-0.3 5l0.5 4l1.8 5l2.8 4l4.1 4.2l5 3.5l5 2.6l5 1.9l7 2.3l15 4.1l9 3.3l5 2.7l4 2.7l4 3.1l5 4.6l6 6.6l5 6.4l5.4 8l5.8 10l3.7 8l2.7 7l2.3 8l1.6 8l-307.2 0l-0.7-4l-0.3-5l0-7l0.5-5l1.8-11l3.9-14l7.3-20l9.8-23l6.2-13l10.2-17.5l4-5.6l3-3.2l3-2.1l3-1.3l5-0.6l14 1l7-0.2l7-1.5l4-1.5l3-1.6l2.8-1.9l2.3-2l2.9-3.3l2-2.9l2-3.8l1.5-4l1.5-7l0.4-6l-0.3-5l-1.2-7l-1.8-6l-2.1-4.9l-2.6-4.1l-3.4-3.6l-3-2.1l-3-1.1l-3-0.4l-3 0.2l-4 1.3l-4 2.1l-3.7 2.6l-14.3 11.6l-3 1.6l-2 0.4l-2-0.3l-1-0.5l-2-2.1l-2-4l-1.8-5.7l-1.3-6l-1.1-7l-0.8-8l-0.6-10l-0.4-20l0.4-28l0.8-21l2.9-46l2.9-32l1-6.5z"/>
<path fill="#00ffe4" d="M157.8 563.5l33.3 0l1.8 6l0.9 7l0.9 16l0.3 17l1.9 17l1.8 11l3.2 15l1.6 5l1.7 4l1.7 3l2.3 3l2.3 2.1l3 1.8l2 0.8l3 0.4l4-0.4l2-0.5l3-1.4l4-2.8l3.9-4l3.1-4.2l3-4.9l6-13.1l3-5.8l3-4.6l2-2l2-1.2l2-0.5l3-0.2l8 0.4l5-0.8l3-1.3l2-1.3l2-1.6l2-2.2l2-2.9l2-3.6l2-4.5l1.6-4.7l1.7-6l1.3-6l2.9-21l1.5-4.3l2.6-3.7l20.5 0l3.2 4l2.8 5l3.9 9.1l11.8 31.9l9.3 29l4.2 17l3.8 20l2.2 13l4.6 39l1.5 14l0.5 9l0.1 9l-0.5 10l-1.4 10l-2.1 8.1l-1.2 2.9l-1.8 3.4l-2 2.5l-2 1.7l-2 1.1l-2 0.7l-4 0.7l-4 0l-14-0.9l-4 0.1l-4 0.5l-4 1.2l-3 1.4l-3 1.9l-3.1 2.7l-2.7 3l-2.1 3l-1.6 3l-1.6 4l-1 4l-0.6 4l-0.1 4l0.4 4l1.6 5l2.5 4l4.3 4.6l5 4l5 2.9l5 2.3l22 7.8l9 4l5 2.9l5 3.6l5 4.2l4.8 4.7l5.2 6l5.2 7l4.5 7l4.3 8l3 7l2 6l1.8 7l1.3 8l-297.5 0l-1-4l-0.5-4l-0.1-5l0.2-5l1.7-12l3.3-13l5.6-16l8.4-20l7.8-16.3l7-11.9l4-5.9l4-4.9l4-3.9l4-2.6l3-1.3l4-1l15-1.6l7-1.4l7-2.6l6-3.5l2.4-2.1l2.6-2.7l2-2.6l2-3.4l2.9-7.3l1.5-7l0.4-6l-0.1-5l-1-7l-1.4-6l-2.2-6l-2.1-4.2l-3-4.3l-3-2.9l-3-2l-3-1.2l-3-0.5l-3 0.2l-3 0.8l-3 1.1l-14 6.9l-3 0.9l-3 0.2l-3-1.1l-2-1.9l-1-1.3l-2-3.8l-2-6.3l-1-4.9l-0.9-6.7l-1.3-17l-0.5-25l0.4-27l2.6-43l2.5-28l1.8-13l1.1-4z"/>
<path fill="#00ffce" d="M164.5 563.5l20 0l1.4 2l1.5 3l1.8 6l1.2 9l0.6 12l-0.3 13l0.2 3l3.9 25l2.7 15l1.4 6l1.5 5l1.7 4l1.6 3l2.1 3l1.8 2l2.9 2.1l3 1.3l3 0.6l5-0.3l5-1.7l5-2.9l4.7-4.1l3.5-4l3.4-5l2.9-5l4.5-9l3-5l2.3-3l2.7-2.5l2-1.3l3-1.1l9-1.7l5-1.5l5-2.9l4.1-4l2.2-3l2.2-4l3.7-9l1.8-6l1.7-7l3.3-20.1l1.5-3.9l2.5-3.2l2-1.4l3-1.1l2-0.2l3 0.5l2.9 1.4l2.1 1.6l2.2 2.4l2.7 4l3.1 5.8l4 9l9.7 25.2l9.3 28.3l2.5 8.7l2.1 9l5.3 27l2.9 23l3.6 37l0.3 10l-0.5 10l-1.3 10l-2.1 8l-1.3 3l-1.6 3l-1.9 2.4l-2 1.9l-4 2.2l-4 1.1l-4 0.5l-13 0.7l-4 0.6l-4 1.1l-4 1.7l-3 1.8l-3 2.3l-3 2.9l-3 3.7l-1.9 3.1l-1.5 3l-1.4 4l-1 4l-0.6 4l-0.1 4l0.4 4l1.5 5l2.3 4l4.3 5.1l5 4.3l4 2.7l5 2.7l22.5 9.2l10 5l5.5 3.5l4.6 3.5l4.5 4l5 5l5.1 6l4.4 6l3.7 6l3.6 7l2.5 6l2.2 7l1.5 7l0.8 7l-287.4 0l-1.2-4l-0.8-4l-0.4-4l0-5l1.2-11l2.9-13l4.6-14l6.5-16l7.6-16l6.7-12l4.7-7l4.7-5.9l4-4.1l5-3.7l4-2l3.9-1.3l15.1-3.4l7-2.1l7-3.3l5-3.5l4.5-4.7l2.1-3l1.8-3l2.7-7l1.6-7l0.5-6l0-6l-0.7-7l-1.5-7l-1.9-6l-2.1-5l-3-5.1l-3-3.8l-3-2.7l-3-1.7l-3-1l-3-0.2l-3 0.2l-3 0.8l-8 3.3l-3 0.8l-4 0.4l-3-0.6l-3-1.8l-1.5-1.6l-1.3-2l-1.8-4l-1.7-6l-2.1-13l-1.2-16l-0.9-26l0.3-19l2.8-42l2.8-27l1.1-6l1.4-5l1.9-4z"/>
<path fill="#00ffb8" d="M170.5 567.9l3-1l2 0.1l2 0.5l2 1.3l1.7 1.7l1.3 2l1 2.1l1.3 4.9l1 8l0.4 9l-0.1 12l0.3 4l7.6 44l1.7 8l1.5 5l1.6 4l1.7 3.2l2 2.9l2 2.1l2.6 1.8l2.4 1.1l3 0.6l5-0.2l5-1.4l5-2.4l5-3.3l5.1-4.4l4.9-5.7l3.6-5.3l7.4-12.8l2.3-3.2l2.7-3l3-2.4l3-1.7l11-4l4-1.8l4-2.6l4-3.9l2-2.6l2.4-4l4-9l4.1-13l4.5-19.4l1-2.6l2-2.9l2-1.3l2-0.6l2 0.2l2 0.6l2 1.3l2 1.8l2 2.3l3 4.5l3 5.5l4 8.5l8 20.3l9.4 27.8l2.6 9l2.2 9l4.9 24l2.7 20l2 21l1.4 18l0.3 9l-0.5 8.7l-1.4 9.3l-1.9 7l-2.8 6l-1.9 2.6l-2 2l-3.6 2.4l-4.4 1.7l-17 3.3l-7 2.4l-4 2.2l-3 2.1l-3 2.7l-3 3.2l-2.5 3.4l-1.8 3l-1.9 4l-1.3 4l-1 4l-0.6 5l-0.1 4l0.3 3l1.5 5l2.8 5l4.6 5.4l5 4.5l4 2.8l5 2.8l22 10l10 5.5l5 3.4l4.6 3.6l4.4 4l5 5.2l4.8 5.8l4.2 6l3.6 6l2.9 6l2.2 6l1.6 6l1 6l0.6 7l-277.2 0l-1.4-4l-1-4l-0.6-4l-0.3-5l0.7-10l2.3-12l3.8-13l5.4-14l6.5-14l6.9-12.6l5-7.7l5-6.5l4-4.3l5-4.1l4-2.4l5-2.2l16-5.1l7-2.7l6-3.3l5-3.9l4.5-5.2l3.5-5.8l2.7-7.2l1.5-7l0.5-6l0.1-6l-0.7-7l-1.1-7l-1.9-7l-2.1-5.7l-3-6.3l-3-4.9l-2-2.5l-3-2.9l-3-1.9l-3-1.1l-3-0.4l-3 0l-12 2.2l-3-0.5l-2-1l-3-3l-2-3.6l-2-5.5l-1.7-6.9l-1.9-13l-2.2-24l-0.4-13l0.3-12l1.7-19l1.3-21l3.4-25l1.1-5l1.4-4l2-3.1z"/>
<path fill="#00ffa3" d="M315.5 582.1l3 2.1l4 4.6l4 6.5l3 6l5 11.9l5 13.2l6.2 18.1l3.9 13l5.5 24l2.8 18l1.8 18l1.5 20l0.6 11l-0.2 8l-1.1 9l-1.9 8l-2.6 6l-1.5 2.3l-2.3 2.7l-3.7 3l-4 2.1l-4 1.5l-13 3.8l-7 3.2l-4 2.6l-3 2.5l-3.3 3.3l-3.2 4l-2 3l-2.2 4l-1.6 4l-1.2 4l-0.8 4l-0.6 5l0.1 4l0.4 3l1.7 5l2.9 5l4.1 5l5.3 5l4.4 3.2l5 3l20.1 9.8l10.3 6l4.6 3.2l5 4l5.1 4.8l4.6 5l4.3 5.2l4 5.8l3.4 6l2.2 5l1.8 5l1.5 6l0.8 6l0.3 7l-266.8 0l-1.6-4l-1.3-4l-0.8-4l-0.5-4l-0.2-5l0.3-5l1.3-10l2.9-12l4.2-12l6.1-14l6.4-12l5-8.1l5.8-7.9l4.5-5l4.7-4.2l5-3.3l4.8-2.5l17.2-6.7l6-2.7l6-3.7l4.6-3.9l4.2-5l3.5-6l2.7-7l1.7-8l0.6-7l-0.1-7l-0.7-8l-1.3-7l-2.1-8l-2.1-6.3l-4-10l-3-6.1l-4-6.1l-2-2.1l-3-2l-4-1.3l-8-0.5l-3-0.4l-3-1.1l-2-1.4l-2.4-2.7l-2.3-4l-1.7-5l-1.6-6.7l-3-15l-1.6-10.3l-0.7-9l0.1-9l0.6-6l2.3-17l0.8-15l0.5-5l1-4.9l3-10.7l2-6l1-2l1-1l1-0.2l1 0.8l1 1.9l1 3.3l2 11.3l2.5 21.5l5.2 24l3.4 25l2.2 10l2.7 6.6l3 4.4l2 1.8l2 1l2 0.6l2 0.1l5-0.8l7-2.7l7-3.7l7-4.8l6-5.2l5.7-6.3l3.6-5l7.7-12.5l2-2.5l2.9-3l3.1-2.5l3-1.8l14-7l4-2.7l3-2.7l4.2-5.3l3.8-7.2l3.5-8.8l6.5-19l3-6.7l1-1.4l2-1.5l2-0.3z"/>
<path fill="#00ff8d" d="M317.5 593l3 2.5l3 3.9l3 5.3l3 6.3l5 12l6 16l4.3 12.5l2.9 10l4.9 21l1.6 9l1.2 9l1.5 15l1.2 17l0.5 13l-0.2 9l-1.3 9l-1.9 7l-2.7 5.7l-3.3 4.3l-3.5 3l-4.2 2.5l-16 6.6l-7 3.9l-4 3.1l-3 2.8l-3 3.2l-3 3.9l-2.5 4l-2 4l-1.6 4l-1.1 4l-0.8 4l-0.5 5l0 4l0.4 3l1.6 5l3.5 6l4 5l5 4.9l4 3.1l5 3.2l20.6 10.8l10.4 6.5l4.8 3.5l4.6 4l5 5l4.4 5l3.9 5l3.3 5l3.2 6l2.1 5l1.4 5l1 5l0.5 6l-0.1 6l-256.3 0l-3.4-8l-1.1-4l-0.7-4l-0.5-9l0.8-10l2.3-11l3.9-12l5-12l6.2-12l4.7-7.7l4.4-6.3l4.6-5.7l4.2-4.3l5-4l5.8-3.6l5-2.6l17-7.6l5-2.8l4-2.8l4-3.6l4-4.8l3.1-5.2l2.5-6l1.7-6l0.9-5l0.6-7l0-7l-0.7-9l-1.1-6.9l-2-9l-4-15.1l-1.7-10l-0.3-4l0.3-4l0.9-4l1.4-3l2.1-3l3.8-4l16.5-13.3l9-8.5l3.7-4.2l3.8-5l7.5-11.5l4-4.4l6-4.6l15-8.7l4-3l3-2.9l3.8-4.9l2.9-5l2.7-6l6.6-16.4l3-5.6l2-2.5l2-1.4l2-0.5l1 0.2zM174.5 639.3l1 0.3l2 1.8l2 3.6l1.4 4.5l0.8 6l0 9l-1 6l-1.2 2.9l-0.8 1.1l-1.2 0.9l-1 0.2l-1-0.2l-2-1.3l-2-2.7l-1-2.1l-1.7-5.8l-0.9-7l0-4l0.2-3l1.4-5.1l2-3.6l1-0.9l1-0.6z"/>
<path fill="#00ff77" d="M317.5 602.3l2.6 2.2l2.4 3.3l3 5.2l4 8.2l5 11.7l5 12.8l3.8 10.8l2.2 7.9l4.8 20.1l1.6 9l1.1 9l1.2 13l0.9 15l0.4 14l-0.3 9l-1.2 7l-1.6 6l-2.8 6l-3.1 4.3l-3 2.9l-3.9 2.8l-5.1 2.8l-11 5.4l-7 4.5l-4 3.4l-3 3.1l-5.4 6.8l-2.5 4l-2 4l-1.6 4l-1.2 4l-0.8 4l-0.6 5l-0.1 4l0.4 4l1.5 5l3.4 6l3.9 5.1l5.8 5.9l4.2 3.3l5 3.3l18.8 10.4l10.8 7l5.1 4l3.4 3l5 5l4.3 5l3.9 5l3.2 5l2.6 5l2.1 5l1.4 5l0.8 5l0.2 6l-0.3 6l-246.3 0l-4-8.6l-2-7.4l-0.6-4l-0.3-5l0.3-9l1.9-11l3-10l4.3-11l5.9-12l4.5-7.6l4-5.9l5.1-6.5l4.7-5l4.7-4l6.5-4.4l5-2.8l18-9.1l4-2.5l4-3.1l4-3.7l3.4-4.4l3.5-6l2.1-5l1.7-6l0.9-5l0.7-8l0.1-7l-1-13l-4.2-23l-0.6-5l-0.2-5l0.3-5l0.6-4l1.3-4l1.7-4l2.6-4l4.3-5l14.8-13.9l7.7-8.1l6.5-8l6.3-9l2.6-3l2.9-2.5l4-3l15-9.8l4-3.1l3-2.9l3.1-3.7l3.2-5l8.7-18.9l3-5l2-2l2-1l2-0.1z"/>
<path fill="#00ff62" d="M316.5 613.1l3 2.3l4 5.4l4 6.9l5 10.3l4.1 9.5l3.8 10l1.8 6l3.5 13l1.8 8l1.7 9l2 18l1.2 22l0 10l-0.5 8l-1.1 7l-1.8 6l-2.5 5.2l-3.5 4.8l-3.1 3l-3.9 3l-14.5 8.6l-7 5.1l-7 6.9l-5.5 7.4l-2.3 4l-2 4l-2.6 8l-0.8 4l-0.6 5l-0.1 4l0.4 4l1.4 5l3.4 6l4.4 6l5.3 5.5l4.3 3.5l5.7 4l18 10.4l9.8 6.6l5 4l4.3 4l4.8 5l4.1 5l3.6 5l2.5 4l2.4 5l1.9 5l1.2 5l0.5 5l0.1 5l-0.6 6l-236.6 0l-4.2-8l-2.4-7l-0.8-4l-0.7-5l0-9l1.4-10l2.5-10l3.7-10l5.7-12l4-7l4.7-7l5.1-6.6l4.1-4.4l4.9-4.4l6.4-4.6l6.6-4l17-9.4l7.6-5.6l4.1-4l3.3-4.3l3.3-5.7l2-5l1.8-6l1-5l0.7-7l0.2-8l-0.8-14l-3.1-22l-0.2-8l0.5-5l1.1-5l1.3-4l1.8-4l3.2-5l3.2-4l20-20.6l16-19.2l5-4.5l16-11.3l7-5.8l3.4-3.6l3.8-5l7.8-13.6l2-2.9l2-2.1l2-1.1l1-0.1z"/>
<path fill="#00ff4c" d="M317.5 626.2l3 2.2l4 4.8l4 6.3l4 7.6l3 6.8l2.8 7.6l5.1 18l1.9 8l1.4 8l2 18l0.7 19l-0.2 10l-0.5 7l-1 6l-1.7 6l-2.2 5l-3.3 5l-3 3.3l-4 3.4l-14 9.5l-7 5.6l-6.8 7.2l-5.8 8l-2.2 4l-1.8 4l-2.5 8l-1.3 9l-0.1 4l0.4 4l1.3 5l3.2 6l4.3 6l5.6 6l3.7 3.2l6 4.3l18.7 11.5l8.5 6l4.9 4l4.2 4l4.7 5l4 5l3.4 5l2.8 5l2.2 5l1.2 4l0.9 5l0.3 5l-0.2 5l-0.8 5l-226.9 0l-3.7-6l-2.8-6l-1.8-6l-1.1-7l-0.2-7l0.8-8l1.6-8l2.7-9l4.5-11l5.2-10l5.9-9l7-8.7l5.5-5.3l7.8-6l7.6-5l15.1-9l6.8-5l4.2-3.9l2.7-3.1l2.7-4l2.2-4l2.5-6l1.9-7l1-6l0.5-8l0.1-7l-0.4-9l-2.4-24l0.2-8l0.7-5l1-4l1.8-5l2-4l3.2-5l4-5l17.2-18l13.1-15l4.8-5l4.8-4l14.4-10.8l7-5.7l4.7-4.5l8.3-9.5l3-2.9l2-1.2l2-0.5l1 0.1z"/>
<path fill="#00ff36" d="M318.5 636.9l3 2.2l3 3.3l4 5.8l3 5.6l2.5 5.7l2.5 6.9l4.9 17.1l1.7 8l1.3 8l1.7 17l0.3 8l0 9l-0.3 8l-0.7 7l-1.2 6l-1.8 6l-2.4 5l-3.4 5l-2.7 3l-3.2 3l-14.2 10.8l-6.9 6.2l-6.3 7l-5.4 8l-2.2 4l-1.7 4l-2.4 8l-1.2 9l-0.1 4l0.4 4l1.3 5l3.1 6l4.1 6l5.5 6l3.8 3.5l5 3.8l19.6 12.7l8.3 6l4.7 4l4.1 4l3.6 4l4 5l3.4 5l2.7 5l2.1 5l1.1 4l0.8 5l0.1 5l-0.5 5l-1 5l-217.3 0l-4.2-6l-3.1-6l-2-6l-1.3-7l-0.3-7l0.6-8l1.5-8l2.6-9l4.1-10l5.2-10l5.9-9l6.3-7.7l5.4-5.3l7.6-6l8.5-6l13.5-8.5l7.3-5.5l3.7-3.5l3-3.5l2.8-4l2.2-4l2.5-6l1.7-6l1.1-6l0.7-7l0.2-14l-1.8-26l0.2-9l0.8-5l1.1-4l1.9-5l1.9-4l3.9-6l4.9-6l15.2-16l12.7-13.9l6-5.8l33-26.2l4-2.9l3-1.4l2-0.5l3 0.3z"/>
<path fill="#00ff21" d="M318.5 645.1l3 2.2l3 3.2l2.8 4l2.2 4l2.6 6l2.4 6.6l4.4 15.4l2.8 15l1.6 16l0.2 7l-0.1 8l-0.5 8l-0.7 6l-1.2 6l-1.8 6l-2.3 5l-3.2 5l-2.4 3l-4 4l-13.8 11.7l-6 5.7l-6.5 7.6l-5.2 8l-2.1 4l-1.6 4l-2.3 8l-1.1 9l-0.1 4l0.4 4l1.3 5l2.9 6l4 6l5.3 6l4.3 4l4.7 3.7l19.7 13.3l8.3 6.2l8.2 7.8l3.5 4l3.8 5l3.1 5l2.6 5l1.5 4l1.2 5l0.4 4l0 5l-0.8 5l-1.4 5l-207.4 0l-4.8-6l-3.6-6l-2.3-6l-1.4-6l-0.5-7l0.4-8l1.3-8l2.4-9l4-10l4.7-9l5.1-8.1l6.2-7.9l5.8-5.8l8.8-7.2l8.2-6l13-8.7l7-5.5l3-2.8l3.5-4l2.7-4l2.2-4l2.2-5l1.9-6l1.2-6l0.8-7l0.5-14l-0.3-9l-1-17l0.3-9l0.9-5l1.1-4l1.9-5l1.9-4l4.5-7l5.9-7l23.8-25.1l9-8.3l22-17.1l9-6l4-1.7l3-0.7l3 0.3z"/>
<path fill="#00ff0b" d="M317.5 651.7l2.6 1.8l2.4 2.4l2.6 3.6l2.4 4.2l2.1 4.8l2.6 7l4 14l2.6 14l1 8l0.5 7l0.2 6l-0.2 7l-1.4 13l-1.4 7l-1.9 6l-2.3 5l-2.8 4.6l-2.7 3.4l-3.6 4l-13.7 12.6l-6.2 6.4l-5.8 7.2l-5.4 8.8l-3 7l-2.1 8l-1 9l-0.1 4l0.3 4l1.3 5l2.8 6l3.9 6l4.2 5l5.1 5l4 3.3l20.8 14.7l8.9 7l7.9 8l6.1 8l3 5l1.9 4l1.4 4l1 5l0.3 4l-0.3 5l-1.1 5l-1.7 5l-197.6 0l-5.6-6.3l-3.8-5.7l-2.7-6l-1.5-6l-0.6-7l0.3-9l1.4-8l2.2-8l3.6-9l4.6-9l5-8l6.4-8l5.1-5.1l10.7-8.9l6.6-5l12.7-8.9l7-5.7l3.4-3.4l3.3-4l4.2-7l2.2-5l1.6-5l1.6-7l0.7-6l0.7-14l-0.1-10l-0.7-17l0.5-9l0.8-4l1.1-4l1.7-4.5l2.2-4.5l4.8-7.6l6.2-7.4l21.8-22.5l9-8l21-16l7-4.3l4-1.7l4-0.7l3 0.3z"/>
<path fill="#0bff00" d="M315.5 657.8l2.6 1.7l2.4 2.2l2 2.7l2 3.4l3 6.4l2 5.2l2 6.2l1.8 6.9l2.5 13l1.4 13l-0.1 11l-0.6 7l-0.9 6l-1.5 7l-1.8 6l-2.1 5l-2.8 5l-2.9 4l-3.4 4l-14.6 14.6l-5.7 6.4l-5.2 7l-4.6 8l-2.9 7l-2 8l-0.9 9l0.2 8l1.1 4.9l2.3 5.1l4.3 7l4.1 5l5 5l4.3 3.6l21 15.4l8.6 7l4 4l3.6 4l5.7 8l2.3 4l2.2 5l1.2 4l0.7 5l0 4l-0.8 5l-1.2 4l-2.1 5l-187.9 0l-6.5-7l-3.7-5l-3-6l-1.5-5l-1-7l0.2-9l0.9-7l2.3-9l3.5-9l4.5-8.9l5.1-8.1l5.5-7l4.8-5l11.7-10l5.1-4l12.8-9.2l7.1-5.8l3-3l3.5-4l2.7-4l2.2-4l2.2-5l1.6-5l1.4-6l0.9-6l0.8-15l0.1-11l-0.5-16l0.6-8l0.8-4l1.1-4l1.9-5l1.9-4l5.1-8l6.7-8l18.9-19l9-7.9l14-9.9l8-6l4-2.4l4-1.7l4-0.9l3 0.1z"/>
<path fill="#21ff00" d="M314.5 665.3l2 1.4l2.7 2.8l2.3 3.4l2 3.6l4 9.7l3.2 11.3l2.1 11l1.1 11l-0.2 10l-1.4 11l-1.5 7l-2.3 7l-2 5l-2.7 5l-5.9 8l-14.4 15.6l-5.4 6.4l-4.9 7l-4.5 8l-2.7 7l-1.8 8l-0.9 9l0.2 8l1 5l2.2 5l3.8 6.5l4.3 5.5l4 4l5.7 5l20 15l8.4 7l6.7 7l3.2 4l2.7 4l2.8 5l1.7 4l1.4 5l0.5 4l0 4l-0.7 4l-1.2 4l-2.2 5l-1.1 2l-178.3 0l-6.9-7l-4-5l-3-5.2l-2.1-5.8l-1.1-7l-0.1-8l1-8l2-8l3.5-9l3.9-8l4.9-8l6-7.8l5-5.2l11.5-10l17.5-13.2l7-5.9l3-3l3.3-3.9l2.7-4l2.2-4l2.2-5l1.6-5l1.4-6l0.9-6l0.9-15l0.2-11l-0.2-15l0.6-8l1.8-8l1.9-5l1.9-4l2.6-4.4l3-4.4l7-8.2l16-15.8l5-4.4l5-4l6-4.2l15-9.4l5-2.6l3-0.9l3-0.4l3 0.3z"/>
<path fill="#36ff00" d="M311.6 672.5l2.9 1.8l2 2l2 2.5l2 3.2l3.8 8.5l2.8 9l2.1 10l1.1 10l-0.1 9l-1.2 10l-1.6 7l-2.2 7l-2.4 6l-2.7 5l-2.6 4l-3.7 5l-13.3 15.5l-5 6.4l-4.7 7.1l-3.9 7l-3 8l-1.8 8l-0.9 9l0.3 8l1.1 5l2.4 6l3.5 6l3.7 5l4 4l5.8 5l18.2 14l9.5 8l6.7 7l5.2 7l2.8 5l1.7 4l1.3 4l0.6 4l0.1 4l-0.6 4l-1.1 4l-1.8 4l-3 5l-168.5 0l-6.5-6l-5.2-6l-3.2-5l-2.5-6l-1.3-7l-0.2-7l0.8-8l2-8l2.9-8l4.3-9l4.9-8l5.2-7l5.7-6l9.5-8.5l19-14.6l7-6l3-3.1l3.2-3.8l2.7-4l2.1-4l2.2-5l1.6-5l1.3-6l0.9-6l0.9-14l0.4-13l0-14l0.6-7l1.8-8l3.3-8.1l2.7-4.9l2.7-4l6.6-8l12-11.9l7-6.2l5-4l5-3.4l5-3l8-4.3l6-2.7l4-1.2l3-0.4l3 0.3z"/>
<path fill="#4cff00" d="M309.5 680.1l2 1.2l2 1.7l2 2.2l2 2.9l3.2 6.4l2.8 8.2l2 8.8l1 9l-0.1 8l-1.1 9l-1.6 7l-2.2 6.8l-2.6 6.2l-3.1 6l-6 9l-12.3 15.4l-4.9 6.6l-4.4 7l-3.6 7l-2.6 7l-1.9 8l-1 9l0.2 8l1.3 6l1.8 5l3.6 7l3.6 5l2.8 3l4.5 4l20.4 16l8.2 7l6.9 7l3.2 4l2.7 4l2.3 4l1.8 4l1.2 4l0.5 3l0.2 4l-0.4 4l-1.1 4l-1.3 3l-2.3 4l-3 4l-157.9 0l-3.8-2.7l-3.8-3.3l-3.2-3.3l-3.1-3.7l-2-3l-2.2-4l-1.1-3l-1.1-4l-0.6-4l-0.3-5l0.2-4l0.7-5l1.1-5l1.5-5l4.2-10l3.2-6l3.6-6l3.6-5l4.3-5l5-5l7-6.2l19.2-14.8l6.8-5.9l3-3.1l3-3.7l2.3-3.3l2.2-4l2.2-5l1.7-5l1.4-6l0.9-6l1.1-16l0.8-28l0.9-7l1.6-6l2.5-6l3.2-6l3.2-4.9l6.8-8.1l8.2-8.1l10-8.5l8-5.5l9-4.6l5-2l4-1.2l3-0.6l3-0.1l3 0.5z"/>
<path fill="#62ff00" d="M306.5 687l2 1.1l2 1.6l3.3 3.8l3.3 6l2.6 7l1.8 7.3l0.9 7.7l0 8l-1.1 8l-1.4 6l-1.9 6l-2.5 6l-3.5 7l-6.3 10l-11.2 15.1l-5.4 7.9l-4.1 7l-2.9 6l-2.8 8l-1.7 8l-0.8 9l0.4 7l1.3 6l2.6 7l3.1 6l3.5 5l5.1 5l19.1 15l9.4 8l7.8 8l5.3 7l2.4 4l1.8 4l1.3 4l0.5 3l0.2 4l-0.3 3l-0.8 3.3l-1.5 3.7l-3.1 5l-4.5 5l-146.2 0l-3.7-2.2l-4.1-2.8l-3.6-3l-3.3-3.4l-2.8-3.6l-2.2-3.4l-1.7-3.6l-1.4-4l-0.8-4l-0.4-4l-0.1-4l0.5-5l1-5l1.4-5l3.9-10l3.6-7l3.7-6l3.5-5l4.2-5l4.9-5l5.7-5.1l20-15.4l6.4-5.5l3.6-3.7l2.7-3.3l2.8-4l2.2-4l2.1-5l1.6-5l1.2-5l0.9-6l0.9-12l1.4-33l0.8-6l1.4-5.3l2.2-5.7l2.8-5.6l3.4-5.4l5.6-7.1l8-8.1l9-7.5l8-5.3l8-4l7-2.2l4-0.6l3 0l3 0.6z"/>
<path fill="#77ff00" d="M303.4 693.5l2.1 1.2l2 1.6l3 3.4l3 5.2l2.5 6.6l1.5 6.1l0.7 6.9l-0.1 7l-0.9 6l-1.5 6l-1.7 5l-3.4 8l-3.5 7l-5.3 9l-15.7 23l-3.4 6l-2.9 6l-2.7 8l-1.8 8l-0.9 9l0.3 7l1.3 6l2.9 8l3.4 7l3.4 5l4.8 4.7l17.3 13.3l9.4 8l7.8 8l3.3 4l2.8 4l1.8 3l1.9 4l1.4 4l0.5 3l0.2 3l-0.2 3l-0.6 3l-1.1 3l-1.5 3l-2.1 3l-2.9 3.1l-4.3 3.9l-133.2 0l-9.5-5l-4-2.8l-3-2.6l-3-3.2l-2.6-3.4l-1.8-3l-1.8-4l-1.2-4l-0.7-4l-0.3-4l0.2-5l0.6-4l1.1-5l3.6-10l3.4-7l3.5-6.1l4.7-6.9l4-5l4.9-5l5.4-4.8l20-15.3l6.9-5.9l3.1-3.2l3.2-3.8l4.3-7l1.9-4l1.7-5l1.2-5l1-6l0.9-10l1.9-37l0.6-5l1.4-5l2.3-6l3-6l3.1-5l5.6-7l6.9-7l7-5.8l8-5.2l7-3.3l4-1.3l3-0.6l3-0.3l3 0.1l3 0.6z"/>
<path fill="#8dff00" d="M298.5 699l4 2.1l3 2.8l3 4.2l2.6 5.4l1.8 6l0.7 5l0.1 7l-0.8 6l-1.1 5l-1.7 5l-4.3 10l-3.4 7l-5.2 9l-14.3 22l-3.3 6l-2.7 6l-2.6 8l-1.7 8l-0.9 9l0.5 7l1.3 6l3.5 9l3.4 7l3.4 5l4.7 4.6l15 11.4l10.6 9l7.7 8l3.2 4l2.8 4l3.1 6l1.4 4l0.7 3l0.2 3l-0.2 3l-1.4 5l-1.5 3l-2.6 3.5l-9.2 8.5l-120.8 0l-13-6.6l-6-4.2l-3-2.7l-2.1-2.5l-2.8-4l-1.5-3l-1.5-4l-1-4l-0.5-4l0-4l0.4-4l0.7-4l1.4-5l2.2-6l3.3-7l3.8-7l4.7-7l4-5l4.9-5l4.5-4l21-16l6.5-5.4l3.5-3.6l3.3-4l2.7-4l2.1-4l1.8-4l1.2-4l2-10l0.9-10l0.7-18l1.4-20l0.7-5l1.1-4l2.3-6l2.4-5l3-5l5.4-7l5.5-5.7l6.3-5.3l6.7-4.4l6-2.9l6-1.7l5-0.5l3 0.4z"/>
<path fill="#a3ff00" d="M295.5 705.1l3 1.6l3.2 2.8l2.8 3.7l2.2 4.3l1.5 5l0.8 5l0 5l-0.7 6l-1.2 5l-1.7 5l-3.7 9l-3.2 7l-5.1 9l-13.5 21l-3.2 6l-2.7 6l-2.8 9l-1.6 8l-0.7 8l0.4 7l1.6 7l3.2 8l3.9 8l4 6l4.5 4.4l13.9 10.6l10.4 9l7.6 8l5.3 7l3.3 6l1.9 6l0.4 3l0 3l-1.2 5l-2.1 4l-2.3 3l-5 5l-6 5l-108.7 0l-14.5-7.1l-6-3.6l-3-2.3l-3-2.9l-2.5-3.1l-1.9-3l-1.8-4l-1.3-4l-0.7-4l-0.1-4l0.2-4l0.6-4l1.3-5l1.7-5l3.1-7l3.7-7l4.7-7.2l4.6-5.8l4.9-5l4.5-3.9l22-16.7l6-5l3.4-3.4l3.3-4l2.7-4l2.2-4l1.7-4l1.3-4l1.1-5l0.8-5l0.5-8l0.7-21l2.1-23l1-4l1.9-5l2.3-5l3-5.1l4-5.5l5-5.4l6-5.2l6-3.9l6-2.7l5-1.3l5-0.2z"/>
<path fill="#b8ff00" d="M291.5 711.1l3 1.3l3 2.3l2.3 2.8l2.2 4l1.3 4l0.8 5l0 5l-0.7 5l-1.3 5l-2 6l-2.8 7l-3.3 7l-5.1 9l-13 20l-2.8 5l-2.2 5l-2.6 8l-2.1 10l-0.6 8l0.5 7l1.6 7l2.3 6l4.9 10l4.6 7l5 5.2l12.7 9.8l10.2 9l6.7 7l5.4 7l3.4 6l2.1 6l0.4 5l-0.8 5l-1.1 2.6l-1.4 2.4l-3.6 4.5l-6 5.5l-5.9 4l-94.8 0l-2.3-0.8l-9-3.7l-8-4.1l-5-2.9l-3-2.1l-3-2.6l-2.6-2.8l-2.1-3l-1.6-3l-1.6-4l-0.9-4l-0.4-4l0-4l0.5-4l0.9-4l1.5-5l2.9-7l4.2-8l4.5-7l4.9-6l4.8-4.9l4.7-4.1l22.8-17l6-5l4-4l2.6-3l2.8-4l2.3-4l1.7-4l1.3-4l1.7-9l0.5-8l0.1-22l1.3-16l0.8-6l1-4l1.4-4.1l2.2-4.9l2.9-5l3.5-5l4.4-4.8l4-3.6l5-3.5l5-2.5l5-1.4l4-0.3z"/>
<path fill="#ceff00" d="M288.5 717.6l3 1.4l2.9 2.5l2.1 3l1.3 3l0.9 4l0.4 4l-0.3 4l-0.9 5l-1.4 5.1l-2.5 6.9l-2.6 6l-3 6l-5.9 9.5l-12.6 17.5l-2.3 4l-1.9 4l-1.9 6l-2.1 12l-0.3 6l0.6 7l1.8 8l2.7 7l5.2 10l5.3 8l2.6 3l3 3l12.5 10l9.8 9l6.5 7l5.1 7l3.2 6l1.5 5l0.3 5l-1.1 5l-1.4 3l-2 3l-2.6 3l-2.9 2.7l-6 4.1l-4 2l-3.3 1.2l-75.8 0l-6.9-1.7l-6-1.9l-9-3.8l-10.2-5.6l-5.8-4.6l-2.3-2.4l-2.2-3l-1.7-3l-1.6-4l-0.7-3l-0.6-4l0-4l0.4-4l0.8-4l1.5-5l2.9-7l4.3-8l4.8-7l5.1-6l5.1-5l6.1-5l8.1-6.1l12.7-8.9l6.4-5l6.3-6l3.4-4l2.1-3l2.2-4l1.6-4l1.4-5l0.7-4l0.4-7l-1.4-20l0-10l1.7-15l1.1-5l1.8-5l3-6l3.6-5.5l4-4.6l5-4.3l4.3-2.6l4.7-1.9l5-0.7z"/>
<path fill="#e4ff00" d="M285.5 724.7l3 1.7l2.1 2.1l1.9 3.7l1 4.3l0.1 4l-0.7 5l-1.3 5l-2.1 6l-3 7l-3 5.7l-3 4.7l-4 5.2l-5 5.2l-5 4.1l-3 1.6l-2 0.2l-1-0.3l-2-1.8l-2-4l-1.5-5.6l-0.8-6l-0.1-7l0.6-7l1.1-6l1.8-6l2.8-6l3.1-4.8l3-3.6l4-3.6l4-2.5l4-1.5l4-0.4zM183.6 886.5l4.3-8l4.8-7l6.2-7l6.5-6l11.1-8.4l29-19.5l4-2.2l2-0.3l1 0.2l1.7 1.2l1.3 1.8l4.8 12.2l2.7 6l5.3 9l5.4 8l3.3 4l3.5 3.6l11.3 9.4l9.5 9l6.4 7l4.5 6l3.3 6l1.7 5l0.4 5l-0.6 4l-1.5 3.8l-2.1 3.2l-2.9 3.2l-4 3.2l-4 2.3l-4 1.7l-5 1.4l-5 1l-10.3 1.2l-38.2 0l-13.5-1.9l-12-2.9l-5-1.6l-5-2l-5.4-2.6l-5.2-3l-4.2-3l-3.2-3l-2.5-3l-1.9-3l-1.8-4l-1.2-4l-0.5-4l0-4l0.4-4l1.2-5l1.3-4.1z"/>
<path fill="#faff00" d="M282.5 733.1l2 1.4l1.5 2l1.1 3l0.2 3l-0.2 3l-0.8 4l-1.8 5.9l-2 5.3l-2 4.4l-2 3.4l-2.2 3l-2.8 2.9l-3 2.2l-2 0.9l-2 0.4l-2.5-0.4l-1.6-1l-1.9-2.6l-1.2-3.4l-0.5-4l-0.1-4l0.6-5l1-4l1.4-4l1.8-3.9l2.6-4.1l2.4-3l3-2.8l3-2l3-1.1l3-0.1zM184.9 890.5l1.7-4l2.7-5l5.4-8l6.8-7.8l8.1-7.2l5.9-4.5l6-4.1l15-8.5l5-2.3l3-0.9l3-0.3l2 0.3l2.2 1.3l2.8 3l10.5 16l5.1 7l4.2 5l5.2 5.3l12.3 10.7l9.5 10l5 6l3.9 6l2.6 6l1 5l-0.5 5l-1 3l-1.8 3.1l-2.5 2.9l-3.5 2.9l-3 1.7l-4 1.7l-4 1.1l-6 1.2l-9 1.2l-11 1l-8 0.4l-8-0.1l-9-0.5l-8-0.8l-9-1.6l-8-1.8l-10-3.3l-9-4.5l-3-1.9l-3.5-2.7l-3.1-3l-2.3-3l-1.8-3l-1.7-4l-0.8-3l-0.5-4l0-4l0.5-4l0.9-4z"/>
<path fill="#ffef00" d="M273.5 750.4l1 0.4l0.5 0.7l0.5 2l0 3l-0.8 4l-1.4 3l-1.7 2l-1.1 0.7l-2 0.2l-1.3-0.9l-1.1-2l-0.1-3l0.5-2.8l1-2.2l2-2.8l2-1.7zM187.7 891.5l1.7-4l2.6-5l2.5-4l3-4l6.2-7l8.8-7.9l10-6.9l11-5.6l4-1.6l4-1l3-0.1l2 0.3l3 1.3l3 2.4l19.7 23.1l6.1 6l10.2 9l9.1 10l4.1 5l4.1 6l2.9 6l0.8 3l0.4 3l-0.1 3l-0.4 2l-1.2 3l-2.2 3l-2.5 2.4l-3 1.9l-3 1.4l-4 1.3l-13 2.5l-19 1.9l-14 0l-7-0.5l-7-0.8l-8-1.4l-7-1.7l-9.1-3l-4.5-2l-4.4-2.4l-3-2l-3-2.5l-2.1-2.1l-2.5-3l-1.7-3l-1.7-3.9l-0.9-3.1l-0.4-3l-0.1-4l0.4-4z"/>
<path fill="#ffd900" d="M190.6 892.5l1.7-4l2-4l2.5-4l2.9-4l6.8-7.7l8-7l4.6-3.3l4.4-2.7l4-2.1l5-2.1l4-1.2l3-0.5l3 0l3 0.5l2 0.8l3 1.8l5 4.3l16.5 17.2l14 13l9.6 11l5.9 7.9l3.2 6.1l0.9 3l0.5 3l-0.1 3l-0.5 2l-1 2.5l-1.8 2.5l-2.2 2l-3.3 2l-3.7 1.5l-4 1.1l-14 2.6l-15 1.7l-14 0l-7-0.5l-6-0.7l-12-2.5l-9.9-3.2l-7.1-3.4l-6-4.1l-2.6-2.5l-2.5-3l-1.8-3l-1.4-3l-0.9-3l-0.7-4l-0.1-4l0.4-3z"/>
<path fill="#ffc300" d="M193.5 894.5l1.4-4l1.9-4l4.7-7.3l6.6-7.7l7.4-6.6l4-2.8l4-2.4l7-3.2l4-1.1l3-0.5l3-0.1l3 0.4l3 1l3 1.6l6 4.4l25.9 24.3l4.1 4.2l8.8 10.8l5.3 8l1.4 3l0.9 3l0.3 3l-0.3 3l-0.8 2l-1.6 2.4l-2 1.9l-3 1.8l-4 1.7l-4.2 1.2l-12.8 2.7l-13 1.6l-12 0.3l-12-0.9l-11-2l-9-2.7l-8-3.5l-6-3.9l-4.7-4.6l-2.1-3l-1.5-3l-1.1-3l-0.7-3l-0.2-6l0.3-3z"/>
<path fill="#ffae00" d="M197.1 894.5l1.4-3.7l1.6-3.3l4.5-7l5.9-6.8l7-6.1l7-4.3l4-1.8l3-1l6-1l3 0.1l3 0.6l3 1l3 1.5l7 4.8l9 7.8l16.1 15.2l8.1 10l5.8 8.8l1.6 3.2l0.9 3l0.2 2l-0.3 2l-0.7 2l-1.7 2.3l-2.1 1.7l-2.9 1.6l-4 1.7l-5 1.6l-11 2.5l-11 1.5l-11 0.3l-11-0.7l-10-1.8l-8.8-2.7l-6.7-3l-6.2-4l-4.3-4.2l-3.2-4.8l-1.2-3l-0.8-3l-0.4-3l0-3l0.3-3z"/>
<path fill="#ff9800" d="M201 894.5l2.5-6l2-3.3l2.6-3.7l5.4-5.9l6-5l6-3.5l6-2.1l3-0.6l3-0.2l3 0.2l3 0.6l3 1l4 1.9l7 4.6l11 9.3l10.1 9.7l5.8 7l5.2 8l1.9 4l1.1 3l0.3 2l-0.1 2l-0.8 2l-1.7 2l-2.5 2l-2.3 1.3l-3.6 1.7l-4.4 1.6l-10 2.5l-9 1.3l-11 0.4l-10-0.7l-9-1.6l-7.5-2.5l-6.4-3l-5.9-4l-3.9-4l-1.5-2l-1.6-3l-1.6-5l-0.3-3l0-3z"/>
<path fill="#ff8200" d="M205.1 894.5l2.4-5.4l4-5.9l5-5.3l5-3.9l5-2.7l6-2l5-0.5l3 0.3l3 0.5l3 1l4 1.7l7 4.4l9.5 7.8l8.3 8l5.7 7l3.6 6l1.8 5l0.3 3l-0.3 2l-0.7 2l-1.4 2l-3.7 3l-6.1 3l-9 2.6l-9 1.4l-10 0.4l-9-0.7l-8-1.6l-6.2-2.1l-6-3l-5.5-4l-3.7-4l-1.6-2.5l-1.2-2.5l-1.3-5l0-5z"/>
<path fill="#ff6d00" d="M209.2 895.5l2.2-5l3.3-5l3.8-4l5.2-4l4.8-2.3l6-1.5l5-0.1l5 0.9l6 2.2l6 3.5l8 6.4l7.1 6.9l4.9 6l2.9 5l1.6 5l0.1 2l-0.2 2l-0.8 2l-1.3 2l-3.4 3l-4.9 2.6l-7.5 2.4l-7.5 1.3l-9 0.4l-8-0.5l-7-1.3l-5.5-1.9l-5.8-3l-4-3l-3.8-4l-2.4-4l-1.5-5l-0.2-4z"/>
<path fill="#ff5700" d="M214.1 895.5l1.8-4l2.8-4l3.8-3.7l4-2.7l4-1.7l5-1.1l5 0l5 1l6 2.4l5 3.1l5.9 4.7l5.1 5.1l3.9 4.9l2.7 5l1 4l0 2l-0.4 2l-1.6 3l-3.2 3l-4.4 2.4l-6 1.9l-7 1.2l-7 0.4l-7-0.6l-6-1.2l-5-1.8l-4.1-2.3l-3.8-3l-3.5-4l-2.1-4l-0.9-4l0-4z"/>
<path fill="#ff4100" d="M219.4 895.5l1.6-3l2.5-3.1l3-2.5l4-2.3l3-1l4-0.6l4 0.1l4 0.9l4.1 1.5l4.9 2.8l4.1 3.2l4.1 4l3 4l2.1 4l0.9 4l-0.3 3l-1.6 3l-2.3 2.3l-4 2.3l-5 1.7l-5 1l-6 0.3l-6-0.5l-4.8-1.1l-4.2-1.7l-3.7-2.3l-3.3-3l-2.2-3l-1.4-3l-0.8-4l0.3-4z"/>
<path fill="#ff2b00" d="M224.8 897.5l1.7-3l1.8-2l2.2-1.7l2.5-1.3l3.5-1l3-0.3l3 0.3l3 0.7l3.3 1.3l3.4 2l2.6 2l2.9 3l2.1 3l1.3 3l0.5 3l-0.3 2l-0.9 2l-1.9 2.2l-2.6 1.8l-3.4 1.4l-4 1l-4 0.4l-4-0.2l-4-0.8l-3-1.1l-3.1-1.7l-2.4-2l-2.3-3l-1.2-2.5l-0.6-2.5l0.1-3z"/>
<path fill="#ff1600" d="M231.5 900.2l1.8-2.7l1.2-1l2-1l2-0.6l2-0.1l4 0.6l3.9 2.1l2.9 3l1.3 3l-0.1 3l-1 1.9l-1 1.1l-3 1.7l-4 0.9l-3-0.1l-2-0.4l-3-1.3l-2-1.6l-1-1.2l-1.1-2l-0.4-2l0.1-2z"/>
</g>
<path fill="none" stroke="#333" stroke-opacity="0.8" stroke-width="0.85" d="M223.8 563.5l-1.3 0.3l-1 0.6l-2 1.8l-1.4 2.3l-1.4 4l-1.7 9l-1.2 8l-1.1 10l-0.2 7l0.3 5l0.7 5l1.7 7l1.6 5l1.7 3.4l2 2.4l2 1.3l1 0.2l1 0l2-0.7l2-1.7l1.4-1.9l1.6-3.2l1.6-4.8l1.9-7l1-6l0.4-5l-0.3-6l-0.9-7l-4.2-22l-1.1-3l-1.3-2l-1.1-1.1l-1-0.6l-1-0.3M265.1 563.5l2.1 12l1.6 6l1.7 4.8l1.7 3.2l1.3 1.6l1 0.7l1 0.4l1 0.2l1-0.2l1-0.4l2-1.7l1-1.3l1-1.8l1.5-3.5l1.5-4.6l1.2-5.4l0.6-5l-0.1-5M359.4 563.5l2.3 9l7.1 25l6.4 27l2.4 12l3.6 22l2.9 15l3.2 18l6 40l3 22l2.6 22l1.6 18l2.8 26l2.2 23l0.6 5l1.1 5l1.8 7l2.9 9l3 8l3.3 8l6.2 13l20.1 37.8l2.8 6.2l1.6 5M192.5 768.7l-2 0.1l-2 0.5l-2 1.1l-2 1.7l-1.8 2.4l-1.1 2l-1.2 3l-0.7 3l-0.3 3l0.1 3l0.5 3l0.7 2l1.1 2l1.7 1.8l2 1.3l2 0.6l2 0.2l3-0.5l2-0.8l2.3-1.6l2-2l1.7-2.7l1-2.3l0.8-3l0.2-3l-0.2-3l-0.8-3l-1-2.3l-2-3l-1.8-1.7l-2.2-1.3zM319.5 825l-2 2.5l-1 2l-0.9 3l-0.3 3l0.4 3l0.6 2l1.2 2.1l2 2.4l2 1.5l3 1.3l4 1.1l3 0.2l3-0.2l3-0.8l2-0.9l2.3-1.7l1.5-2l0.8-2l0.3-2l-0.3-3l-0.9-3l-0.9-2l-2-3l-1.8-2l-2.6-2l-2.4-1.4l-2-0.8l-3-0.5l-3 0.1l-2 0.6l-2 1zM90.5 882.6l3.4-15.1l9.1-28l3.6-13l1.3-6l1.7-9l2.1-15l2.2-19l5-48l4.4-59l3.4-55l2.7-38l0.8-14M196 563.5l0.7 4l0.6 6l1.3 35l0.7 9l1.3 13l1.2 6l1.3 6l1.6 6l1.3 4l2.4 5l2.1 3.3l2 2.2l3 2.2l3 1.3l3 0.4l2-0.2l2-0.5l2-0.9l2-1.1l2-1.6l2-2l3.3-4.1l2.5-4l1.6-3l9.6-22.5l2-3.7l2-2.4l2-1.3l1-0.3l2-0.1l2 0.3l8 2.7l3 0.4l2 0l3-0.8l2.6-1.3l2.4-1.9l2-2.3l2-2.9l2.1-3.9l1.9-4.7l1.7-5.3l1.2-5l0.9-5l2.4-19l1-4l1.4-3M330 563.5l2.6 5l3.2 8l13.4 38l4.4 14l4.2 14l1.8 7l1.9 9l4.1 22l2.1 13l6.3 51l0.6 7l0.4 9l-0.1 9l-0.4 8l-1.3 10l-1.1 5l-1.4 5l-1.1 3l-1.1 2.3l-1.8 2.7l-1.2 1.4l-2 1.5l-2 1l-2 0.6l-2 0.3l-2 0l-3-0.2l-14-2.7l-7-0.6l-3 0.1l-3 0.5l-3 0.8l-3 1.4l-2 1.2l-2 1.5l-3 2.9l-2.5 3.3l-2.1 4l-1.4 4l-0.9 5l-0.3 5l0.5 4l0.9 3l0.9 2l1.2 2l1.6 2l2.1 2.3l2 1.9l2 1.5l3 2l5 2.6l5 1.9l7 2.3l15 4.1l5 1.7l4 1.6l5 2.7l4 2.7l4 3.1l5 4.6l6 6.6l5 6.4l5.4 8l5.8 10l3.7 8l2.7 7l2.3 8l1.6 8M103.8 946.5l-0.7-4l-0.3-5l0-7l0.5-5l0.8-6l1-5l1.8-7l2.1-7l3.4-10l3.9-10l4.5-11l5.3-12l3.7-8l2.5-5l6.2-11l4-6.5l4-5.6l3-3.2l3-2.1l3-1.3l2-0.4l3-0.2l14 1l4 0l3-0.2l4-0.7l3-0.8l4-1.5l3-1.6l2.8-1.9l2.3-2l2.9-3.3l2-2.9l2-3.8l1.5-4l0.8-3l0.7-4l0.4-6l-0.3-5l-1.2-7l-1.8-6l-2.1-4.9l-2.6-4.1l-1.4-1.7l-2-1.9l-3-2.1l-3-1.1l-3-0.4l-3 0.2l-4 1.3l-4 2.1l-3.7 2.6l-5.2 4l-9.1 7.6l-3 1.6l-2 0.4l-2-0.3l-1-0.5l-1-0.9l-1-1.2l-1-1.7l-1-2.3l-1.8-5.7l-1.3-6l-1.1-7l-0.8-8l-0.6-10l-0.3-10l-0.1-10l0.4-28l0.8-21l2.9-46l2.9-32l1-6.5l1.2-4.5M134.5 946.5l-2.5-5l-1.5-3.6l-1.1-3.4l-0.9-4l-0.6-4l-0.3-5l0-5l0.3-4l0.7-5l1.2-6l1.1-4l1.9-6l2.2-6l2.1-5l3.3-7l2.6-5l4.5-7.6l4-5.9l5.1-6.5l4.7-5l4.7-4l6.5-4.4l5-2.8l18-9.1l4-2.5l4-3.1l4-3.7l3.4-4.4l1.9-3l1.6-3l2.1-5l1.7-6l0.9-5l0.7-8l0.1-7l-0.3-6l-0.7-7l-1.5-9l-2.7-14l-0.6-5l-0.2-5l0.3-5l0.6-4l1.3-4l1.7-4l2.6-4l4.3-5l14.8-13.9l7.7-8.1l6.5-8l6.3-9l2.6-3l2.9-2.5l4-3l11-7l5-3.5l3.7-3l3-3l3.1-4l3-5l7.2-15.8l3-5.7l1.1-1.5l1.9-1.9l2-1l1-0.2l1.1 0.1l1.9 0.8l1 0.7l1.6 1.5l1.4 1.8l2 3.1l3 5.6l4 8.5l6 14.4l5 13.3l3.3 10.3l5.1 21l1.7 9l1.2 9l1.3 13l0.9 15l0.5 14l-0.3 10l-1 7l-0.9 4l-0.9 3l-1.3 3l-1.5 3l-1.3 2l-1.8 2.3l-3 2.9l-3.9 2.8l-5.1 2.8l-11 5.4l-4 2.4l-3 2.1l-4 3.4l-3 3.1l-3 3.5l-3 4.2l-2.4 4.1l-1.9 4l-1.5 4l-1.1 4l-0.8 4l-0.5 5l0 4l0.4 3l0.8 3l0.7 2l1.6 3l1.8 3l3.9 5.1l3 3.3l2.8 2.6l4.2 3.3l5 3.3l18.8 10.4l5.2 3.2l5.6 3.8l5.1 4l3.4 3l5 5l4.3 5l3.9 5l3.2 5l2.6 5l2.1 5l1.4 5l0.8 5l0.2 6l-0.3 6M163.8 946.5l-6.5-7l-1.8-2.2l-1.9-2.8l-1.7-3l-1.3-3l-1.5-5l-0.7-4l-0.3-3l-0.1-4l0.3-5l0.9-7l1.2-5l1.1-4l1.5-4l2-5l1.9-4l2.6-4.9l5.1-8.1l5.5-7l4.8-5l11.7-10l5.1-4l12.8-9.2l7.1-5.8l3-3l3.5-4l2.7-4l2.2-4l1.8-4l1.5-4l1.3-5l1.1-6l0.7-7l0.5-10l0.1-11l-0.5-16l0.3-6l0.7-5l1-4.5l1.6-4.5l2.2-5l2.2-4l2.6-4l2.3-3l3.4-4l4.7-5l16-16l5-4.6l7-5.6l11-7.6l7-5.3l3-2l3-1.6l3-1.2l3-0.8l2-0.2l3 0.5l3 1.3l2.8 2.1l2.2 2.5l2.3 3.5l2.7 5.4l2 4.8l2.4 6.8l1.7 6l1.9 8.3l1.2 6.7l1 8l0.5 6l0.1 6l-0.3 7l-0.8 7l-1.3 8l-2.3 8l-2.4 6l-2.7 4.8l-3 4.2l-3.4 4l-14.6 14.6l-5.7 6.4l-2.4 3l-2.8 4l-2.5 4l-2.1 4l-1.4 3l-1.5 4l-1.1 4l-0.9 4l-0.5 4l-0.4 5l-0.1 5l0.3 3l0.5 3l0.6 1.9l2.3 5.1l2.3 4l2 3l4.1 5l5 5l4.3 3.6l21 15.4l8.6 7l4 4l3.6 4l3.1 4l2.6 4l2.3 4l2.2 5l1.2 4l0.7 5l0 4l-0.8 5l-1.2 4l-2.1 5M197.5 946.5l-12-6l-3-1.8l-3-2.2l-3-2.5l-2.3-2.5l-2.7-3.6l-2-3.4l-1.6-4l-1.1-4l-0.6-4l-0.1-4l0.3-4l0.6-4l1.3-5l1.7-5l3.1-7l3.6-7l4.5-7l4.6-6l4.7-5l5.5-5l21-16l6.5-5.4l3.5-3.6l3.3-4l2.7-4l2.1-4l1.8-4l1.2-4l1.2-5l0.8-5l0.9-10l0.7-18l1-11l0.4-9l0.7-5l1.1-4l1.9-5l2.3-5l2.8-5l3.6-5l5-5.7l6-5.6l5-3.9l6-3.8l5-2.3l5-1.5l3-0.6l2-0.1l3 0.2l2 0.4l2 0.8l2 1.1l2 1.4l2 2l2 2.6l1.2 2l1.6 3l1.2 3l1 3.4l0.8 3.6l0.3 3l0.2 4l-0.1 3l-0.4 4l-1.3 6l-1.5 5l-4.2 10l-3.3 7l-2.7 5l-3.1 5l-6.6 10l-7.7 12l-2.8 5l-2.8 6l-2.7 8l-1.9 8l-0.9 8l-0.1 3l0.3 4l0.5 4l0.7 3l2.5 7l3.6 8l2.2 3.8l2 2.8l2.1 2.4l2.2 2l10.6 8l7.6 6l5.9 5l4.3 4l4.7 5l4.1 5l3.4 5l2.5 5l1.7 5l0.6 4l-0.2 4l-1 4l-1.9 4l-2.6 3.5l-3 3l-6.2 5.5M273.5 750.4l1 0.4l0.5 0.7l0.5 2l0 3l-0.8 4l-1.4 3l-1.7 2l-1.1 0.7l-1 0.3l-1-0.1l-1.3-0.9l-0.7-1l-0.4-1l-0.1-3l0.5-2.8l1-2.2l2-2.8l2-1.7l1-0.5zM187.7 891.5l1.7-4l2.6-5l2.5-4l3-4l3.4-4l2.8-3l4.2-4l4.6-3.9l5-3.7l5-3.2l5-2.8l6-2.8l4-1.6l4-1l3-0.1l2 0.3l3 1.3l3 2.4l4 4.4l11.3 13.7l4.4 5l6.1 6l10.2 9l9.1 10l4.1 5l4.1 6l1.6 3l1.3 3l0.8 3l0.4 3l-0.1 3l-0.4 2l-1.2 3l-2.2 3l-2.5 2.4l-3 1.9l-3 1.4l-4 1.3l-5 1.2l-8 1.3l-9 1.1l-10 0.8l-6 0.1l-8-0.1l-7-0.5l-7-0.8l-8-1.4l-7-1.7l-5-1.5l-4.1-1.5l-4.5-2l-4.4-2.4l-3-2l-3-2.5l-2.1-2.1l-2.5-3l-1.7-3l-1.7-3.9l-0.9-3.1l-0.4-3l-0.1-4l0.4-4l0.9-4zM209.2 895.5l0.7-2l1.5-3l1.9-3l1.4-2l3.8-4l3-2.5l2.2-1.5l1.8-1l3-1.3l3-0.9l3-0.6l2-0.2l3 0.1l5 0.9l3 0.9l3 1.3l3 1.6l3 1.9l4 3l4 3.4l3.2 2.9l3.9 4l2.6 3l2.3 3l1.9 3l1 2l1.1 3l0.5 2l0.1 2l-0.2 2l-0.8 2l-1.3 2l-1.3 1.3l-2.1 1.7l-2.9 1.7l-2 0.9l-3.8 1.4l-3.7 1l-3.5 0.7l-4 0.6l-9 0.4l-4-0.1l-4-0.4l-7-1.3l-5.5-1.9l-5.8-3l-4-3l-2.1-2l-1.7-2l-1.4-2l-1-2l-1.1-3l-0.4-2l-0.2-4l0.4-3z"/>
</svg>
<rect x="91.5" y="564.5" width="396.5" height="381.0" fill="none" stroke="#000" stroke-width="3"/>
<path d="M91.5 945.5v8.5M117.9 945.5v4.0M144.4 945.5v4.0M170.8 945.5v4.0M197.2 945.5v4.0M223.7 945.5v8.5M250.1 945.5v4.0M276.5 945.5v4.0M303.0 945.5v4.0M329.4 945.5v4.0M355.8 945.5v8.5M382.3 945.5v4.0M408.7 945.5v4.0M435.1 945.5v4.0M461.6 945.5v4.0M488.0 945.5v8.5M91.5 945.5h-8.5M91.5 926.5h-4.0M91.5 907.4h-4.0M91.5 888.4h-4.0M91.5 869.3h-4.0M91.5 850.2h-8.5M91.5 831.2h-4.0M91.5 812.1h-4.0M91.5 793.1h-4.0M91.5 774.0h-4.0M91.5 755.0h-8.5M91.5 736.0h-4.0M91.5 716.9h-4.0M91.5 697.9h-4.0M91.5 678.8h-4.0M91.5 659.8h-8.5M91.5 640.7h-4.0M91.5 621.6h-4.0M91.5 602.6h-4.0M91.5 583.5h-4.0M91.5 564.5h-8.5" stroke="#000" stroke-width="3" fill="none"/>
<g font-size="26.4" text-anchor="middle">
<text transform="translate(91.8 978.3) scale(0.927 1)">0</text>
<text transform="translate(224.0 978.3) scale(0.927 1)">5</text>
<text transform="translate(356.1 978.3) scale(0.927 1)">10</text>
<text transform="translate(488.3 978.3) scale(0.927 1)">15</text>
</g>
<g font-size="26.4" text-anchor="end">
<text transform="translate(77.9 953.3) scale(0.927 1)">1.0</text>
<text transform="translate(77.9 858.0) scale(0.927 1)">1.5</text>
<text transform="translate(77.9 762.8) scale(0.927 1)">2.0</text>
<text transform="translate(77.9 667.5) scale(0.927 1)">2.5</text>
<text transform="translate(77.9 572.3) scale(0.927 1)">3.0</text>
</g>
<text x="289.9" y="1012.7" font-size="32.3" text-anchor="middle"><tspan font-style="italic">k</tspan> (Å<tspan font-size="21.5" dy="-14.3">-1</tspan><tspan dy="14.3">)</tspan></text>
<text transform="translate(27.0 757.0) rotate(-90)" font-size="32.3" text-anchor="middle">R (Å)</text>
<text x="23.5" y="522.8" font-size="48.5">d</text>
<g font-size="25.1" fill="#ffff00">
<text x="481.5" y="593.8" text-anchor="end">Zn-SA/CNCl-850</text>
<text x="478.0" y="637.5" text-anchor="end">Cl-K edge</text>
</g>
<text x="216.2" y="913.2" font-size="24.6" fill="#ffff00">Cl-C</text>
<text x="239.8" y="768.5" font-size="24.6" fill="#ff0000">Cl-Zn</text>
<rect x="512.5" y="564.3" width="55.0" height="8.1" fill="#808080"/>
<rect x="512.5" y="937.8" width="55.0" height="7.9" fill="#000"/>
<rect x="512.5" y="929.89" width="55.0" height="7.91" fill="#0000ff"/>
<rect x="512.5" y="922.28" width="55.0" height="7.91" fill="#0016ff"/>
<rect x="512.5" y="914.66" width="55.0" height="7.91" fill="#002bff"/>
<rect x="512.5" y="907.05" width="55.0" height="7.91" fill="#0041ff"/>
<rect x="512.5" y="899.44" width="55.0" height="7.91" fill="#0057ff"/>
<rect x="512.5" y="891.83" width="55.0" height="7.91" fill="#006dff"/>
<rect x="512.5" y="884.21" width="55.0" height="7.91" fill="#0082ff"/>
<rect x="512.5" y="876.60" width="55.0" height="7.91" fill="#0098ff"/>
<rect x="512.5" y="868.99" width="55.0" height="7.91" fill="#00aeff"/>
<rect x="512.5" y="861.38" width="55.0" height="7.91" fill="#00c3ff"/>
<rect x="512.5" y="853.76" width="55.0" height="7.91" fill="#00d9ff"/>
<rect x="512.5" y="846.15" width="55.0" height="7.91" fill="#00efff"/>
<rect x="512.5" y="838.54" width="55.0" height="7.91" fill="#00fffa"/>
<rect x="512.5" y="830.93" width="55.0" height="7.91" fill="#00ffe4"/>
<rect x="512.5" y="823.31" width="55.0" height="7.91" fill="#00ffce"/>
<rect x="512.5" y="815.70" width="55.0" height="7.91" fill="#00ffb8"/>
<rect x="512.5" y="808.09" width="55.0" height="7.91" fill="#00ffa3"/>
<rect x="512.5" y="800.48" width="55.0" height="7.91" fill="#00ff8d"/>
<rect x="512.5" y="792.86" width="55.0" height="7.91" fill="#00ff77"/>
<rect x="512.5" y="785.25" width="55.0" height="7.91" fill="#00ff62"/>
<rect x="512.5" y="777.64" width="55.0" height="7.91" fill="#00ff4c"/>
<rect x="512.5" y="770.03" width="55.0" height="7.91" fill="#00ff36"/>
<rect x="512.5" y="762.41" width="55.0" height="7.91" fill="#00ff21"/>
<rect x="512.5" y="754.80" width="55.0" height="7.91" fill="#00ff0b"/>
<rect x="512.5" y="747.19" width="55.0" height="7.91" fill="#0bff00"/>
<rect x="512.5" y="739.58" width="55.0" height="7.91" fill="#21ff00"/>
<rect x="512.5" y="731.96" width="55.0" height="7.91" fill="#36ff00"/>
<rect x="512.5" y="724.35" width="55.0" height="7.91" fill="#4cff00"/>
<rect x="512.5" y="716.74" width="55.0" height="7.91" fill="#62ff00"/>
<rect x="512.5" y="709.12" width="55.0" height="7.91" fill="#77ff00"/>
<rect x="512.5" y="701.51" width="55.0" height="7.91" fill="#8dff00"/>
<rect x="512.5" y="693.90" width="55.0" height="7.91" fill="#a3ff00"/>
<rect x="512.5" y="686.29" width="55.0" height="7.91" fill="#b8ff00"/>
<rect x="512.5" y="678.68" width="55.0" height="7.91" fill="#ceff00"/>
<rect x="512.5" y="671.06" width="55.0" height="7.91" fill="#e4ff00"/>
<rect x="512.5" y="663.45" width="55.0" height="7.91" fill="#faff00"/>
<rect x="512.5" y="655.84" width="55.0" height="7.91" fill="#ffef00"/>
<rect x="512.5" y="648.23" width="55.0" height="7.91" fill="#ffd900"/>
<rect x="512.5" y="640.61" width="55.0" height="7.91" fill="#ffc300"/>
<rect x="512.5" y="633.00" width="55.0" height="7.91" fill="#ffae00"/>
<rect x="512.5" y="625.39" width="55.0" height="7.91" fill="#ff9800"/>
<rect x="512.5" y="617.78" width="55.0" height="7.91" fill="#ff8200"/>
<rect x="512.5" y="610.16" width="55.0" height="7.91" fill="#ff6d00"/>
<rect x="512.5" y="602.55" width="55.0" height="7.91" fill="#ff5700"/>
<rect x="512.5" y="594.94" width="55.0" height="7.91" fill="#ff4100"/>
<rect x="512.5" y="587.33" width="55.0" height="7.91" fill="#ff2b00"/>
<rect x="512.5" y="579.71" width="55.0" height="7.91" fill="#ff1600"/>
<rect x="512.5" y="572.10" width="55.0" height="7.91" fill="#ff0000"/>
<rect x="512.5" y="564.3" width="55.0" height="381.4" fill="none" stroke="#000" stroke-width="1"/>
<g font-size="17.9">
<text x="576.8" y="944.1">0.00</text>
<text x="576.8" y="898.4">0.03</text>
<text x="576.8" y="852.7">0.05</text>
<text x="576.8" y="807.1">0.08</text>
<text x="576.8" y="761.4">0.11</text>
<text x="576.8" y="715.7">0.13</text>
<text x="576.8" y="670.0">0.16</text>
<text x="576.8" y="624.4">0.18</text>
<text x="576.8" y="578.7">0.21</text>
</g>
<path d="M567.5 937.8h7.5M567.5 892.1h7.5M567.5 846.4h7.5M567.5 800.8h7.5M567.5 755.1h7.5M567.5 709.4h7.5M567.5 663.8h7.5M567.5 618.1h7.5M567.5 572.4h7.5" stroke="#333" stroke-width="1.3" fill="none"/>
</g>
<g id="pe">
<svg x="785.5" y="564.5" width="396.8" height="381.0" viewBox="785.5 564.5 396.8 381.0" overflow="hidden">
<g stroke="none" fill-rule="evenodd">
<rect x="784.5" y="563.5" width="398.8" height="383.0" fill="#0000ff"/>
<path fill="#0016ff" d="M795.2 563.5l303.6 0l10.9 95l3.8 46l4.4 37l2.2 12l7.4 27.6l9 30.9l4.2 13.5l3.7 10l3 6l4.1 6.4l15 19.6l4.3 6l6.4 11l6.3 11.6l0 50.4l-399 0l0-182.5l2.9-12.5l1.1-8l5.4-90l2.2-81l-0.2-5zM1039.5 813l-1 0.5l-1.5 2l-0.5 2l0.5 2l1.5 2l2 1.1l2 0.3l2-0.5l1.3-0.9l1.4-2l0.2-2l-0.6-2l-1.3-1.6l-2-1.1l-2-0.3z"/>
<path fill="#002bff" d="M806.6 563.5l258.1 0l2.1 11l5.6 25l13.7 48l2.1 8l1.6 8l4.5 33l7.2 58.8l3.5 26.2l3.1 37l1.1 7l1.5 6l2.4 6l3.5 6l5.4 7l15.9 19l4.9 7l6.2 10l8.9 16l21.2 44l-394.6 0l0-137.4l11.9-52.6l1.1-6l0.8-7l6.1-98l2.8-72l0-5zM885.5 782.7l-2 0.4l-1 0.7l-1.4 1.7l-0.7 2l0 2l0.8 2l1.3 1.3l2 0.6l2-0.5l1-0.7l1.3-1.7l0.6-2l-0.1-2l-0.8-2l-1-1zM918.5 592.5l-1 0.2l-1 0.6l-1 1l-1.2 2.2l-0.6 3l0.3 3l1.3 3l1.2 1.3l1 0.6l1 0.1l1-0.2l1-0.7l1-1.2l1.3-2.9l0.3-3l-0.6-3l-1-2l-1-1.1l-1-0.7zM1036.5 809.6l-1 1l-1.3 1.9l-0.8 2l-0.3 2l0.1 2l0.5 2l1 2l1.6 2l3.2 2.1l2 0.6l2 0.3l2-0.2l2-0.4l2-1l1.7-1.4l1.9-3l0.6-2l0.2-2l-0.7-3l-2-3l-1.7-1.5l-2-1.1l-4-1.2l-2 0l-2 0.4z"/>
<path fill="#0041ff" d="M813.2 563.5l231.5 0l2.8 12.7l5.9 20.3l3.2 9l11.3 28l6 16l3.1 10l2.1 10l5.3 32l6 49l1.7 34l-1.2 35l0.8 8l1.4 6l2.6 6l4 6l4.9 6l15 17l4.5 6l5.3 8l10.8 18l24.6 46l-380.3 0l0-101.4l16.2-80.6l1.8-10l1.1-9l1.9-26.4l4.5-72.6l3.5-73l0-6zM885.5 779.8l-3 0.7l-2 1.6l-1.7 2.4l-0.9 3l0.1 3l1.1 3l2.1 2l2.3 0.8l3-0.5l2.1-1.3l1.9-2.5l1.1-3.5l-0.1-3l-1.3-3l-1.7-1.7l-1-0.6zM918.5 585.4l-1 0.2l-1 0.7l-2 2.7l-1 1.9l-1.6 4.6l-0.5 4l0.5 5l1.6 4.5l1 1.9l2 2.5l1 0.6l1 0.2l1-0.4l1-0.8l2-2.8l1-1.9l1.6-4.8l0.4-4l-0.6-4l-1.4-4.2l-1-2l-2-2.8l-1-0.8zM1035.5 805.9l-2 1.8l-1.8 2.8l-0.8 2l-0.5 3l0.1 3l0.7 3l1.3 2.6l1.9 2.4l2.1 1.8l2 1.2l3 1.2l3 0.5l3 0l3-0.5l2.8-1.2l2.2-1.6l2-2.3l1.2-2.1l1.2-3l0.4-2l0.1-2l-0.3-2l-0.8-2l-1.3-2l-2-2l-3-2l-3.5-1.6l-3-0.9l-3-0.3l-3 0.1l-3 0.9z"/>
<path fill="#0057ff" d="M818 563.5l213.5 0l2 8.1l3 10.6l5.5 16.3l3.5 8.2l17.3 36.8l4.1 10l2.7 9l1.6 7l3.7 19l2.9 18l5.4 42l0.6 10l0.1 11l-0.6 14l-1.4 9l-1.4 4.6l-1.5 3.4l-1.5 2.6l-2 2.3l-3 1.7l-3 0.2l-4-1.1l-11-4.3l-6-1.6l-6-0.6l-3 0.4l-2 0.6l-3 1.6l-2 1.7l-1.9 2.5l-1.1 2l-1 3l-0.5 3l0.1 4l0.7 3l1.2 3l1.2 2l3.3 3.6l4 2.6l3 1.2l3 0.7l6 0.5l3-0.2l3-0.7l4.2-1.7l6.8-4.6l2-0.6l2 0.3l3 2.1l3 3.4l10.5 13.4l19.2 22l6.1 8l14.5 23l11.7 20.5l10.5 17.5l4.6 9l-370.1 0l0-83.4l3.2-8.6l2.3-8l4.1-19l9.4-52.6l3-19.3l1.1-9.1l1.5-19l3.5-54l5.3-99zM886.5 777.1l-2 0l-1.5 0.4l-1.5 0.7l-1.7 1.3l-2.4 3l-1.5 4l-0.3 4l0.4 2l0.7 2l1.4 2l1.1 1l1.3 0.8l2 0.6l2 0.1l2-0.5l3-1.9l2.4-3.1l1.4-4l0.1-4l-1.2-4l-1.4-2l-1.3-1.2zM918.5 571.1l-1.7 0.4l-1.3 1l-1 1.4l-0.6 1.6l-3.9 18l-0.7 6l0.3 4l0.7 4l3.2 10.6l2 3.9l1 1l1 0.5l1 0.1l1-0.3l1.8-1.8l2.2-4.9l3-9.7l0.7-3.4l0.3-4l-0.6-6l-4.1-18l-1.6-3l-1.3-1z"/>
<path fill="#006dff" d="M822.1 563.5l199.1 0l2.1 6l4.7 17l4.2 11l4.7 10l12.6 23.9l8 16l3 6.8l2.2 6.3l1.8 7l2.6 12l4.5 24l5.6 41l1 13l-0.2 13l-1.1 10l-1.8 7l-1.4 3l-1.3 2l-1.9 2l-2 1.5l-4 1.3l-3 0.3l-3-0.1l-11-1.7l-4-0.2l-5 0.8l-4 1.7l-3 2.4l-1.7 2l-1.8 3l-1.2 3l-0.9 4l-0.2 3l0.4 4l0.7 3l1.7 3.8l2.1 3.2l2.9 2.9l4 2.7l5 2.1l5 1.4l5 0.9l11 1.2l3 0.6l3 1l4 2l4 2.7l4 3.4l5 5l5.6 6.1l5.7 7l5.3 7l4.8 7l8.3 13l14.3 24l11.5 18l2.2 4l2.3 5l-362 0l0-71.6l8.3-21.4l2.7-9l2.7-11l2.9-14l2.7-16l5-37l3.1-30l1.8-24l2.5-40l5.5-99zM886.5 774.3l-2 0.1l-2 0.5l-2 0.9l-2 1.6l-1.8 2.1l-1.3 2l-0.9 2l-0.8 3l-0.4 5l0.6 3l0.8 2l1.4 2l1.4 1.3l2 1.1l2 0.6l3 0l2-0.5l2-1l1.9-1.5l1.7-2l1.2-2l0.9-2l0.7-3l0.3-3l-0.2-2l-0.5-2.3l-1.1-2.7l-1.3-2l-1.6-1.5l-2-1.2zM918.5 564.1l-1 0.1l-2 0.8l-1.8 1.5l-1.5 2l-1.4 3l-1.2 6l-1.9 16l-0.4 6l0.3 5l0.9 5.8l1.5 7.2l1.5 5.1l1.4 2.9l1.6 2l2 1.3l2 0.3l2-0.7l2-1.8l1.4-2.1l1.2-3l1.7-6l1.7-7.8l0.7-5.2l0.2-4l-0.3-5l-2.1-17l-1.1-5l-1.4-3.3l-2-2.5l-2-1.2z"/>
<path fill="#0082ff" d="M825.8 563.5l83.5 0l-1.2 3l-0.7 3l-1 8l-1.1 20l0.1 5l0.5 6l1.8 11l0.9 4l1.5 4l1.4 2.5l2 2.6l2 1.4l2 0.5l2-0.3l2-1.1l2-2l2-3.1l1.2-2.5l1.3-4l2-10l1.2-9l0.2-6l-1.2-24l-0.5-4l-0.9-5l48.4 0l1.3 2.2l2 2.1l2 1.2l2 0.6l4-0.1l9-2.7l5-0.6l3 0.2l2 0.6l2 1.2l1 1l2 3.4l5 13.9l3.6 8l4.9 9l19.1 33l8.4 16l3.2 8l1.7 6l3.1 13.1l4.6 22.9l3.4 23.4l2.8 25.6l0 9l-1 11l-1.6 8l-1.2 3l-1.1 2l-1.9 2.5l-1.8 1.5l-1.7 1l-2.5 1l-4 0.5l-9-0.3l-5 0.4l-5 1.6l-3 1.7l-2 1.6l-2.4 2.5l-2.1 3l-1.5 3.1l-1.2 3.9l-0.7 4l0 3l0.4 4l1 4l1.7 4l2 3l2.8 3.1l4 3.2l4 2.2l4 1.7l18 6.1l8 3.4l4 2.3l3 2.1l4 3.4l4 3.9l4.8 5.6l4.7 6l11 16l6.3 10l13.2 22.3l11.8 18.7l3 6l-354.8 0l0-53.9l3.3-14.1l9.3-24l5.8-19l3.9-17l3.1-22l2-20l4.8-58zM887.5 771.6l-2-0.2l-3 0.5l-3 1.4l-2 1.5l-2 2.1l-1.7 2.6l-1.5 3l-1 3l-0.7 4l0 3l0.4 3l0.7 2l1.1 2l1.8 2l1.9 1.4l3 1.1l2 0.3l3-0.2l3-1l2-1.2l2-1.8l2-2.6l1.6-3l1-3l0.6-4l0-3l-0.6-3l-1-3l-1.6-2.8l-2-2.1l-2-1.3z"/>
<path fill="#0098ff" d="M829.5 563.5l74.9 0l-1 10l-0.4 24l0.6 10l1.2 11l1.8 8l1.4 4l1.5 3.1l3 3.9l2 1.4l2 0.6l2 0l2-0.8l2-1.4l2-2.1l1.9-2.7l1.5-3l2.3-7l1.7-8l1.2-10l0.4-6l0.4-21l0.7-8l1.1-6l31.7 0l5.1 8.2l2 2.4l2 1.9l5 3.2l13 5.9l8 4.7l3 2.2l3 2.7l6 6.7l10 14.1l12.6 20l9.4 16.7l4.2 9.3l2.2 7l2.9 11l4.7 22l3.2 21l1 10l0.5 9l0 8l-0.7 5.5l-1.7 5.5l-2.3 4.2l-5 5.8l-3.2 6l-2.3 3l-3.5 2.6l-9 4.9l-5 3.4l-3 2.8l-1.9 2.3l-3 5l-2.2 6l-0.9 6l0.2 6l1.5 6l1.8 4l2.5 3.9l3 3.3l3 2.5l4 2.6l4 2.2l18.5 8.5l8.5 4.6l4 2.6l3.5 2.8l7 7l5 6l5.2 7l12 18l22 38l4.5 9l-347.2 0l0-35.5l3.6-13.5l2.9-13l1.6-6l10-26l6.9-21l3.1-12l1.7-11l1-11l2.3-46l2.7-34l2.6-45l0.8-19l4.5-73zM887.5 768.5l-3-0.2l-3 0.6l-3 1.4l-2.9 2.2l-2.7 3l-1.9 3l-1.9 4l-1 3l-0.9 4l-0.3 3l0.2 3l0.7 3l1.5 3l1.8 2l2.4 1.8l3 1.2l3 0.6l4-0.2l3-0.9l2.9-1.5l2.4-2l2.5-3l1.7-3l1.2-3l0.8-4l0.3-4l-0.5-4l-1.1-4l-2.1-4l-2.1-2.4l-2-1.4z"/>
<path fill="#00aeff" d="M833.3 563.5l66.8 0l-0.1 11l0.8 27l1 13l1.3 9l1.2 5l1.2 3.9l2.9 6.1l3.1 4l2 1.5l2 0.8l2 0l2-0.6l2-1.1l2-1.7l2-2.2l2-3l3.1-6.7l2.1-7l1.7-10l1.1-10l1.1-17l1.3-9l1.1-4l1.5-3.8l2-3l2.2-2.2l13.2 0l2.7 2l2.8 3l6.1 8.8l2 2.2l5 3.9l15 9.8l10.1 7.3l6.9 6.4l7.2 8.6l9.2 13l10.3 16l6.3 11.4l4.2 9.6l2.3 7l2.5 8.9l4.3 19.1l2.8 17l1.2 15l-0.1 7l-0.7 6l-1.3 5l-1.8 4l-1.9 3l-6.5 8.6l-4.1 7.4l-2 3l-2.4 3l-7.5 7.6l-3 3.5l-3 4.4l-2.2 4.5l-2 6l-0.9 7l0.3 6l1.4 6l1.7 4l2.3 4l3.3 4l3.1 2.9l4 3l4 2.5l18 10l9 5.6l8 6.4l7.2 7.6l4.9 6l5.8 8l6.1 9l4.9 8l6.3 11l7.4 14l4.9 10l2.6 6l-337.6 0l-1.1-8l0-9l0.9-8l2.1-10l8.3-32l19.4-51l3-10l1.5-8l0.5-8l-0.2-15l0.4-37l2.1-30l3.5-70l4.4-71zM887.5 765.1l-3-0.3l-3 0.5l-4 1.7l-3 2.1l-3 2.9l-2.7 3.5l-2.4 4l-2.3 5l-1.3 4l-0.8 4l-0.1 4l0.5 3l1.3 3l1.8 2.4l3 2.4l3 1.4l4 1l4 0.3l4-0.5l4-1.5l3-1.8l3-2.8l2.7-3.9l1.9-4l1.1-4l0.6-5l-0.3-5l-1.2-5l-1.8-4l-3-4l-3-2.2z"/>
<path fill="#00c3ff" d="M837.2 563.5l58.7 0l2.9 46l1.1 10l1.3 8l2.3 8l3.2 7l1.8 2.9l2 2.5l2 1.7l2 1l2 0.1l2-0.5l2-1.1l3-2.5l4-4.9l2-3.3l1.9-3.9l2.4-7l2.1-9l1.4-10l1.9-19l0.8-5l1-4l1.5-4l2.5-4l2.5-2.3l3-1.2l2-0.1l3 0.7l2 1l2 1.6l2.2 2.3l4.8 6.3l3 3l8 6.6l18 14l6 5.3l6.4 6.8l7.1 9l9.7 14l7.6 12l4.8 9l3.8 9l4.6 14.8l3.9 16.2l2.4 15l1 13l0 6l-0.7 6l-1.1 5l-1.9 5l-2.1 4l-5.5 8.9l-5.6 10.1l-9.4 13l-2.6 4l-2.4 4.5l-1.8 4.5l-1.5 6l-0.8 7l0.4 6l1.3 6l2 5l2.3 4l3.1 3.9l3 3l8 6.2l20.2 12.9l7.8 5.6l8 7l8 9l5.7 7.4l5.5 8l9.3 15l4.8 9l4.8 10l3.9 9l2.5 7l-326.2 0l-0.9-5l-0.6-6l0-6l0.6-6l2.1-11l6.7-25l4.3-13l9.5-23.8l4-9.3l10.5-22.9l2.1-6l1-5l-0.1-6l-2.2-11l-0.4-4l-1.7-25l-0.1-13l4.1-95l4.7-74l0.8-9zM889.5 762l-3-0.8l-4 0l-3 0.8l-4 1.9l-4 2.9l-3.8 3.7l-3.4 4l-3.5 5l-2.9 5l-2.8 6l-1.3 4l-0.4 3l0.2 3l1.2 3l2.4 3l2.5 2l4.8 2.4l5 1.4l6 0.6l5-0.4l5-1.3l4-1.9l4-3.2l3-3.8l2.4-4.8l1.8-6l0.5-6l-0.4-6l-1.7-6l-2.6-5.2l-3-3.5l-2-1.6z"/>
<path fill="#00d9ff" d="M841.4 563.5l50.2 0l2.3 19l3 34l0.9 7l1.4 7l2.3 8.2l3.4 7.8l3.6 5.7l2 2l2 1.4l2 0.6l2-0.1l2-0.6l3-1.9l3-2.7l2.1-2.4l2.7-4l2.2-4.1l3.3-7.9l2.7-10l1.8-10l2.5-19l1.5-7l1.6-4l1.8-3l1.8-2l3-1.7l2-0.2l1 0.2l3 1.8l11 11l9 8.5l18.1 15.4l4.1 4l4.4 5l9.9 13l9.5 13.9l5.1 8.1l4.1 8l3.6 9l4.5 14l3.4 14l2.1 13l0.9 12l-0.1 6l-0.6 6l-1.4 6l-1.8 5l-3.3 7l-6.9 13l-11.3 19l-2.3 4.9l-1.8 5.1l-1.5 6l-0.7 7l0.3 7l1.3 6l1.9 5l2.2 4l2.8 4l3.5 3.8l9 7.6l19.4 13.6l8.6 6.7l8 7.6l8 9.4l5.4 7.3l5.4 8l4.3 7l4.4 8l3.9 8l3 7l3 8l2 7l-315.3 0l-1.1-5l-0.7-5l-0.2-5l0.3-6l0.9-6l1.2-6l4.5-17l2.7-9l3.1-9l9.4-23l5.8-12.4l7-11.6l5-7l4-4.5l4-3.2l3-1.3l3-0.7l3-0.2l16 1.3l8-0.2l4-0.5l4-1l3-1.1l3-1.6l2.9-2l2.1-1.9l2-2.4l1.7-2.7l2.7-6l1.5-7l0.3-5l-0.5-6l-1.2-5l-1.5-4.1l-2-3.8l-3-3.9l-3-2.6l-2-1.1l-2-0.7l-3-0.5l-3 0.3l-3 0.9l-4 1.9l-4 2.6l-3.9 3l-15.1 13l-3 1.9l-3 1.2l-3-0.1l-2-1l-2-2.2l-1.6-2.8l-2.1-6l-1.9-10l-0.8-11l-0.1-14l0.7-42l1.5-37l3.3-52.4l2-27.9l0.8-6.7z"/>
<path fill="#00efff" d="M846 563.5l40.9 0l1.3 5l1.3 7.8l2.1 16.2l3.1 28l1.1 7l1.4 7l2.8 9l3 7l3.5 5.4l2 2l2.2 1.6l2.8 1l2 0.2l2-0.3l3-1.3l3-2.2l2.4-2.4l2.6-3.1l2.5-3.9l2.5-4.9l2.2-5.1l3.2-10l2.5-11l3.4-20l1.6-6l1.4-3l1.7-2.2l2-1.5l2-0.4l3 0.6l4 2.8l3.8 3.7l12.2 12.9l13 11l5 4.8l5 5.6l5.4 6.7l14.1 20l5 8l4.1 8l3.6 9l3.7 11l2.7 10l2.2 11l1.4 11l0.3 9l-0.4 6l-0.7 5l-1.1 5l-2 6l-4.9 11l-13.2 25l-2.2 5.3l-1.9 5.7l-1.4 7l-0.7 7l0.5 7l1.2 6l1.8 5l2 4l2.6 4l3.9 4.6l4 3.8l6 5.2l19 14.4l8.4 7l8 8l8.3 10l5 7l5.2 8l4.1 7l3.6 7l3.1 7l2.6 7l2.1 7l1.4 6l-304.8 0l-1.2-4l-1-5l-0.3-4l-0.1-5l1.2-10l2.7-12l4.5-15l6.6-18l8.6-19.6l3-6l2.6-4.4l4.4-6l6-7l4.3-4l4.7-3.1l4-1.6l4-1l17-2l7-1.3l7-2.4l5-2.7l4.4-3.9l1.6-2l2-3.1l1.8-3.9l1.1-3l1.4-7l0.3-5l-0.3-6l-1-5l-1.5-5l-1.8-4.1l-3-4.8l-3-3.3l-3-2.3l-3-1.3l-3-0.5l-3 0.2l-3 0.7l-5 2.2l-11 6.7l-4 2.2l-4 1.6l-4 0.6l-2-0.2l-1.9-0.7l-2.5-2l-1.5-2l-1.1-2l-1.6-5l-1-5l-0.8-7l-1.1-22l-0.2-26l0.8-31l2.1-38l3-41l1.4-13l0.7-4z"/>
<path fill="#00fffa" d="M851.8 563.5l29.2 0l1.5 3l1.3 4l2.3 10l2.6 16l4 30l1.5 8l1.5 6l2.9 9l2.9 6l3.7 5l2.3 2.1l2 1.3l2 0.8l3 0.5l3-0.4l3-1.1l3-2l3-2.8l3-3.5l2.7-3.9l4.3-8.9l3.8-10.1l2.8-10l4.4-18.8l2-6.9l2-3.7l1-1l2-0.8l2 0.2l3 1.9l14 14.8l12 9.7l5.9 5.6l5.2 6l6.4 8l13.9 20l4.1 7l3.8 8l4.2 11l2.8 9l2.2 9l1.7 9l1.1 10l0.2 8l-0.3 6l-0.9 6l-1.1 5l-1.9 6l-3.2 8l-12 25l-2.1 5.7l-1.8 6.3l-1.4 7l-0.6 8l0.4 7l1.2 6l1.7 5l2.4 5l3.1 4.7l3 3.6l4 4.1l7 6.4l18.9 15.2l9 8l8.5 9l7 9l4.8 7l4.3 7l3.3 6l3.3 7l2.4 6l2 6l1.8 7l1 6l-294.2 0l-1.5-4l-1.1-4l-0.6-4l-0.2-5l0.7-9l2.4-12l3.7-13l6.7-18l7.8-17.5l6.1-11.5l4.4-6l6.5-7.3l5-4.6l4-2.7l4-2l5-1.6l16-3.7l7-2l6-2.5l5-3.2l4.5-4.4l3.1-5l2.5-6l1.7-8l0.3-5l-0.3-6l-0.8-5.2l-1.6-5.8l-1.9-5l-2.5-4.7l-3-4.2l-3-3l-3-1.9l-3-1.2l-3-0.5l-3 0.1l-3 0.7l-3 1.1l-12 5.7l-4 1l-3-0.1l-3-1.2l-2-1.7l-1-1.3l-2.4-4.8l-1.8-6l-1.2-6l-1-7l-1.3-18l-0.4-20l0.4-36l2.5-41l2.6-27l1.1-9l1.1-6l1.2-4z"/>
<path fill="#00ffe4" d="M860.5 565.3l2-1l3-0.7l3 0.1l2 0.6l2.2 1.2l2.3 2l1.6 2l1.9 3.3l1.5 3.7l1.5 5l3 12.7l2 10.9l3.9 26.4l1.6 8l2.7 10l2.1 6l3.1 6l3.2 4l3.4 2.7l3 1.3l3 0.6l3-0.2l3-0.8l3-1.4l3-2l3-2.8l2.9-3.4l4.7-7l3.7-8l3.9-10l6.8-19.8l2-4.7l1.4-2.5l1.6-1.9l1-0.7l2-0.4l3 1l3 2l18 13.9l6 5.4l6 6.5l7 8.7l6.1 8.5l7.2 11l4 7l3.2 7l3.8 10l2.8 9l2.1 9l1.6 9l0.8 8l0.3 8l-0.3 6l-0.7 5l-0.9 5l-1.7 6l-2.9 8l-7.4 16.8l-3 7.5l-2.2 6.7l-1.8 7l-1.3 8l-0.4 7l0.5 7l1.4 7l1.8 5l2.4 5l3.3 5l3.3 4l5 5.2l6 5.7l17.9 15.1l9.1 8.4l8 8.7l7.5 9.9l4 6l4.1 7l3.1 6l2.6 6l2.1 6l1.7 6l1.2 6l0.7 6l-283.7 0l-1.7-4l-1.3-4l-0.8-4l-0.5-4l0-4l0.3-5l1.9-11l3.2-12l5.9-16l7.1-16l6.8-13l4.1-6l5.9-7l4.9-5l5.1-4l3.8-2.2l5-2.1l17-5.3l6-2.1l6.5-3.3l4.5-3.3l4.4-4.7l2.9-5l2.3-6l1.6-8l0.3-5l-0.2-6l-0.6-5l-1.4-6l-1.5-5l-2.6-6l-2.2-3.9l-3-4l-3-3l-3-2.1l-3-1.4l-3-0.7l-3-0.3l-3 0.2l-10 2.1l-3 0.4l-3-0.2l-2-0.7l-3.1-2.4l-2.9-4.5l-2.1-5.5l-1.9-7.4l-1.5-9.6l-1-11l-1.3-41l0.2-16l2.5-36l1-9l2.1-13.7l1.8-9.3l1.2-4l1.9-4l2.1-2.6z"/>
<path fill="#00ffce" d="M863.5 576.4l1-0.5l2-0.5l2 0.2l2 1l3 3.1l2 3.5l1.5 3.3l3.1 9l2.3 9l4.7 29l3.2 15l1.9 8l2.3 6.3l2.5 4.7l2.5 3.2l3.5 2.8l2.5 1.2l3 0.8l3 0.1l4-0.6l4-1.4l3-1.7l3-2.1l3-2.8l5-6.1l4-6.6l3.3-6.8l7.7-18l4-7.7l3-3.6l2-1.3l2-0.5l2 0.1l2 0.5l6 2.8l8 5.2l6 4.9l6 6l7 8.2l6.2 8.4l6.5 10l4.1 7l3.3 7l3.2 8l3 9l2.3 9l1.6 9l1 8l0.3 8l-0.2 6l-0.5 5l-2 10l-2.6 8l-9.2 24.4l-2.3 7.6l-1.8 8l-1.1 8l-0.3 7l0.5 7l1.4 7l1.6 5l2.4 5l3 5l3.9 5l4.7 5.1l6 5.9l19.2 17l8.4 8l7.9 9l6.6 9l3.8 6l3.3 6l2.9 6l2.4 6l1.9 6l1.1 5l1 6l0.4 6l-273.1 0l-2-4l-1.6-4l-1.1-4l-0.6-4l-0.3-4l0.1-5l1.4-10l3.1-12l4.7-13l6.1-14l7.3-14l4.5-7l5.6-7l5.6-6l5.4-4.5l4-2.5l5-2.4l17-6.3l6-2.7l5-2.8l4.8-3.8l4.2-4.8l2.9-5.2l2.2-6l1.4-7l0.4-5l0-6l-0.5-5l-1-6l-1.4-5.4l-2-5.9l-2-4.7l-3-5.3l-3-4.2l-3-3.1l-3-2.4l-3-1.7l-3-1.2l-3-0.8l-9-0.9l-3-0.6l-3-1.3l-2-1.5l-2.6-3l-2.4-4.3l-2-5.4l-1.6-6.3l-1.6-11l-1.6-21l-1.8-19l-0.3-9l0.4-9l2.2-29l1.8-12l2.5-10.3l2-6.1l2.2-4.6l1.6-2z"/>
<path fill="#00ffb8" d="M865.5 592.8l1-0.5l2 0l1 0.3l2 1.4l3 4l2.5 5.5l1.5 4.7l1 4.6l2.5 15.7l3.5 18.9l2.1 14.1l1.3 6l1.6 4.6l2 3.5l2.6 2.9l3.4 2.3l3 1.1l3 0.5l3 0.1l4-0.7l4-1.2l4-1.8l4-2.5l3-2.4l5.3-5.4l5.1-7l4-7l7.6-15.6l4-6.8l2-2.5l2-2l2-1.2l3-0.9l4 0.2l5 1.8l5 2.8l6 4.6l6 5.7l6.1 6.9l5.4 7l5.3 8l4.7 8l3.5 7l2.9 7l2.8 8l2.1 8l1.9 9l1.2 9l0.5 8l-0.5 11l-1.7 10l-2.3 8l-8.4 25l-2.1 8l-1.5 8l-0.9 8l-0.2 8l0.5 7l1.5 7l1.7 5l2.5 5.3l3 4.8l4 5.2l5 5.6l6 6.1l18.5 17l8.2 8l7.8 9l6.3 9l3.6 6l3.1 6l2.1 5l2.2 6l1.3 5l1.1 6l0.6 6l0 5l-262.4 0l-2.9-5l-1.5-3.3l-1.2-3.7l-0.9-4l-0.5-4l-0.1-4l0.8-9l2.4-11l4.1-12l5.5-13l6.7-13l4.8-8l5.9-8l6-7l5.5-5l4.5-3l4.5-2.4l17-7.3l6-3l5.2-3.3l4.7-4l4-5l2.6-5l2.1-6l1.4-7l0.4-5l0-6l-0.5-6l-0.9-5.4l-1.5-6.6l-1.8-6l-2.3-6l-2.4-5.1l-5-8.2l-3-3.7l-3-3l-5-3.7l-11-6.2l-4-3.4l-2-2.4l-2-3.3l-1.7-4l-1.3-4.4l-1-5.6l-2.2-17l-4.8-21.9l-0.5-5.1l-0.1-6l2.7-32l1.1-7l1.4-5l1.7-4l2.7-4.1z"/>
<path fill="#00ffa3" d="M867.5 607.2l1.7 0.3l1.3 1l1 1.5l1 2.5l2.6 13l3.9 16l1.1 7l0.2 4l-0.2 4l-0.6 4l-0.8 3l-1.2 2.9l-1 1.7l-1 1.1l-2 1.1l-2-0.1l-2-0.9l-3-2.4l-3-3.4l-2-3.4l-1.1-2.6l-0.9-3l-0.6-4l0.2-7l3.1-17l1.5-14l0.8-2.6l0.8-1.4l1.2-1zM971.5 634.8l3 1.5l4 2.8l8 7.1l7 7.8l6.5 9.5l6.5 11l4.6 10l4.1 12l2.8 12l1.3 9l0.7 8l-0.1 8l-0.7 8l-2.4 11l-6.3 20.9l-2.7 10.1l-1.8 9l-1.2 9l-0.3 8l0.2 7l1.1 7l1.7 6.2l2 5l2.5 4.8l3.3 5l4.2 5.3l10 10.7l18 17l7.9 8l6.8 8l5.6 8l3.5 6l3 6l2.4 6l1.6 5l1.2 5l0.8 6l0.2 6l-0.2 5l-251.8 0l-2.7-4l-2.2-4l-1.3-3l-1.3-4l-0.8-4l-0.4-4l0.2-8l1.8-10l3.3-11l4.9-12l5.9-12l5.2-9l5.5-8l6.3-8l5.8-6l3.8-3l5-3.1l17-8.3l7-3.8l5-3.3l3.9-3.5l3.4-4l2.5-4l2.1-5l1.5-5l1.3-8l0.2-9l-0.8-9l-2.1-10.9l-2.3-8.1l-3.7-10.3l-4-9.3l-7.5-15.4l-3-7l-1.3-5l-0.1-2l0.4-2l1.4-2l3.2-2l14.9-5.5l9-4.3l7-4.5l6-5l5-5.3l4-5.3l3.8-6.1l9.2-17l4-5.5l3-2.7l3-1.6l3-0.7l4 0.4z"/>
<path fill="#00ff8d" d="M971.5 641.3l3 1.6l4 2.8l8 7l5.1 5.8l6.1 9l5.8 10l4.6 10l3.7 11l2.5 11l1.4 9l0.6 7l0 8l-0.5 7l-1.8 10l-5.5 20.7l-3 12.7l-1.5 8.6l-1.1 10l-0.2 8l0.4 7l1.1 7l1.7 6l2 5l2.6 5l3.3 5l4.7 6l9 10l18.4 18l7.7 8l6.6 8l5.3 8l3.3 6l2.3 5l1.9 5l1.4 5l1.1 6l0.5 5l-0.1 6l-0.5 5l-241.2 0l-5-7l-1.7-3l-1.8-4l-1.7-7l-0.4-4l-0.1-4l1.1-9l2.9-11l4.2-11l5.2-11l5-9l5.2-8l6.7-9l5.7-6.6l4-3.7l5.3-3.7l21.7-11.8l4-2.5l4.9-3.7l3.9-4l3.6-5l2-4l2.1-6l1-5l0.8-7l0.1-6l-0.4-7l-1-8l-1.7-9l-6.7-25l-1.8-9l-0.4-4l0-4l0.7-4l1-3l2.2-4l3.4-4l18.3-15.3l4-3.8l4.4-4.9l6-8l9.6-16.5l2.4-3.5l2.6-3.1l3-2.5l2-1.1l2-0.6l4-0.3l2 0.4zM868.5 647.8l1 0.7l-0.1 1l-0.9 0.5l-0.6-0.5l0.1-1z"/>
<path fill="#00ff77" d="M971.5 647.7l6 3.7l8 6.7l4 4.8l7 10.4l5.1 9.2l3.9 8.9l2.9 9.1l2.5 11l1.4 9l0.5 7l0.1 7l-0.5 7l-1.5 9l-5 21l-2.5 12l-1.4 9l-0.9 10l-0.2 8l0.4 7l1.2 7l1.6 6l1.9 5l2.5 5l3.1 5l4.9 6.5l9 10.4l18.9 19.1l7.4 8l5.6 7l5.3 8l3.1 6l2.1 5l1.7 5l1.2 5l0.7 5l0.2 5l-0.4 6l-0.8 5l-230.8 0l-6.2-8l-3.3-6l-1.9-6l-0.7-4l-0.4-4l0.2-4l0.5-5l2-9l3-9l4.9-11l5.4-10l5-8l6.5-9l6.8-8.4l3.6-3.6l5.2-4l21.2-12.5l5-3.4l4-3.1l4-4l3.6-5l2.1-4l2.1-6l1.1-5l0.9-7l0.2-6l-0.4-8l-2-15l-4.3-22l-1.1-10l0-5l0.4-4l0.9-4l1.5-4l2.2-4l3.8-5l16-16.1l7-8.1l5.8-7.8l8.8-14l3.4-4l3-2.4l2-1l2-0.6l4 0z"/>
<path fill="#00ff62" d="M971.5 653.9l3 1.7l3 2.1l6 5.2l5.4 6.6l6.1 9l4.5 8.4l3.5 8.6l2.8 9l2.1 10l1.2 8l0.5 7l0 6l-0.4 7l-1.3 9l-4.2 19l-2.2 12l-1.4 10l-0.8 10l-0.1 8l0.4 7l1.1 7l1.6 6l2.3 6l2.5 5l3.1 5l4.3 5.9l10 11.9l18.5 19.2l6.2 7l5.5 7l5.1 8l2.9 6l2 5l1.5 5l0.9 5l0.5 5l-0.2 5l-0.6 5l-1.1 5l-220.8 0l-5.8-7l-3.9-6l-2.5-6l-1.5-7l-0.2-7l1-8l2.4-9l3.4-9l4.8-10l5.9-10l7.6-11l8.1-10l4.1-4l5.2-4l20-12.8l7-5.1l5.2-5.1l4.3-6l2.3-5l1.9-6l1.1-6l0.7-8l0-7l-0.6-8l-1.3-11l-2.7-17l-0.7-9l0-5l0.5-5l0.9-5l1.3-4l2.4-5l4.1-6l19.6-22.3l6.1-7.7l8.9-12.1l3-3.5l3.1-2.4l1.9-1l2-0.6l3-0.1z"/>
<path fill="#00ff4c" d="M971.5 660.6l5 2.9l5.7 5l5.3 6.3l5.2 7.7l4.3 8l3.2 8l2.8 9l1.9 9l1 7l0.5 7l0.1 7l-0.3 6l-1 8l-3.6 18l-2.1 12.2l-1.3 10.8l-0.7 10l-0.1 8l0.5 7l1.1 7l1.5 6l2.2 6l2.4 5l3.4 5.6l4 5.7l5 6.4l5 5.9l18 19.4l6.1 7l5.3 7l4.9 8l2.4 5l1.9 5l1.4 5l0.8 5l0.3 5l-0.4 5l-0.9 5l-1.5 5l-210.7 0l-5.6-6.1l-4.9-6.9l-2.9-6l-0.9-3l-0.9-4l-0.4-7l0.9-8l2.2-9l3.4-9l4.8-10l5.4-9l7.3-10.4l7.8-9.6l4-4l4.9-4l20.3-14.1l6-4.5l5.5-5.4l4.3-6l2.4-5l1.9-6l1.2-6l0.7-7l0.1-7l-0.3-8l-3-27l-0.5-9l0.3-6l0.6-5l1.2-5l1.3-4l3.5-7l4.9-7l25.9-30.7l5-5.5l4-3.4l2-1.2l2-0.7l3-0.4l2 0.3z"/>
<path fill="#00ff36" d="M972.5 668l5 3.1l4.7 4.4l4.9 6l4.4 6.9l3.6 7.1l2.8 7l2.3 8l1.8 9l1 7l0.4 6l0.1 7l-0.2 6l-0.9 7l-2.9 15.6l-1.9 12.4l-1.3 12l-0.6 10l0 8l0.5 7l1 7l1.5 6l2.1 6l2.4 5l3.3 5.7l4 6l9 11.5l18.7 20.8l5.9 7l5.8 8l4 7l2.2 5l1.8 5l1.1 5l0.5 4l0.1 5l-0.6 5l-1.2 5l-1.9 5l-200.6 0l-6.1-6l-5.3-7l-3.2-6l-1.1-3l-0.9-4l-0.7-7l0.6-8l1.8-8l3.2-9l4.3-9l5.3-9l6.9-10l7.4-9.1l4-4.1l5.5-4.8l20.5-15.3l6-4.8l5-5l4.2-5.9l2.4-5l1.7-5l1.3-6l0.8-6l0.3-7l-0.1-9l-2.3-26l-0.2-10l0.4-6l0.9-5l1.2-5l1.9-5l1.8-4l2.4-4l5.6-8l13.7-16.4l9-9.6l5-4.3l3-1.9l2-0.9l2-0.5l2-0.1l2 0.2z"/>
<path fill="#00ff21" d="M972.5 674.7l4.6 2.8l4.4 4.2l4 5l4.3 6.8l3 6l2.7 7.1l2.2 7.9l1.6 8l1.2 12l0 12l-0.6 6l-2.4 14l-1.8 13l-1.3 13l-0.5 10l0.1 8l0.5 7l1 7l1.7 7l1.8 5l2.3 5l4 7l3.9 6l9.3 12l22.3 26l5 7l4.1 7l2.3 5l1.5 4l1.3 5l0.6 4l0.2 5l-0.4 4l-0.9 4l-1.3 4l-2.4 5l-190.1 0l-6.9-6l-5.1-6l-3.6-6l-1.3-3l-1.3-4l-1.1-7l0.3-8l1.5-8l3-9l4.2-9l4.7-8l6.4-9.3l6.9-8.7l4.1-4.3l5-4.5l23-18.4l6-5.2l3-3.2l2.7-3.4l3.5-6l2-5l1.3-5l1.2-7l0.6-7l-0.1-14l-1.7-25l0.1-6l0.4-5l1-6l1.6-6l2.3-6l3.1-6l5.3-8l7.9-10l7.8-8.9l6-5.6l5-3.5l4-1.6l4-0.5l2 0.3z"/>
<path fill="#00ff0b" d="M971.5 680.6l4 2.4l4 3.6l4 4.8l4 6.1l3 6l2.3 6l2 7l1.6 8l1.3 12l0.1 11l-0.6 6l-1.9 12l-1.6 13l-1.1 14l-0.4 10l0.1 9l0.6 7l1.3 8l1.5 6l1.8 5l2.3 5l3.7 6.5l4 6.2l8 10.7l22.1 26.6l4.9 7l4 7l2.3 5l1.4 4l1 4l0.6 4l0.2 4l-0.3 4l-0.9 4l-1 3l-1.8 4l-2.4 4l-179.6 0l-7.5-6l-5-5.1l-4.1-5.9l-1.5-3l-1.5-4l-1.5-7l-0.3-4l0.2-4l1.2-8l2.8-9l3.6-8l4.5-8l6.1-9l6.5-8.2l3.5-3.8l4.5-4.3l26-22l5-4.5l5.2-6.2l3.5-6l2-5l1.3-5l1.1-6l0.7-7l0.2-15l-1.2-24l0.2-6l0.5-5l1.1-6l1.7-6l2.4-6l3.3-6.4l5-7.6l7-9l6.1-7l5.9-5.4l5-3.1l4-1.3l4-0.2z"/>
<path fill="#0bff00" d="M969.5 686.1l4 2.1l3.9 3.3l4.1 4.6l3 4.4l3 5.6l2.5 6.4l1.8 6l1.7 8l1.4 12l0.3 9l-0.4 5l-1.8 13l-1.4 14l-1 15l-0.2 9l0.3 9l0.7 7l1.3 8l1.5 6l1.7 5l1.9 4l3.9 7l3.8 6.1l8 10.9l21 26l4.2 6l4 7l3.4 8l1.1 4l0.8 4l0.3 4l-0.2 3l-0.6 4l-0.9 3l-2.3 5l-3.9 6l-169.4 0l-8.5-6.7l-5-4.6l-4.3-5.7l-1.7-3l-1.3-3l-1.9-7l-0.4-4l-0.1-4l0.3-4l0.7-4l2.6-9l3.5-8l3.8-7l6-9l6.4-8l3.6-4l4.1-4l30.5-27l4.5-5l3.4-5l2.3-4.7l1.8-5.3l1.2-5l1-6l0.6-7l0.3-10l-0.8-24l0.2-8l0.6-5l1.1-5.6l1.2-4.4l1.9-5l3.8-8l5-8l7.1-9.1l7-7.5l5-3.9l4-1.9l3-0.7l2-0.1z"/>
<path fill="#21ff00" d="M968.5 692.2l3 1.4l4 3l4 4.3l3 4.3l2.8 5.3l2.2 5.7l1.9 6.3l1.4 7l1.4 11l0.3 8l-2.9 31l-0.8 15l0 10l0.4 10l0.8 7l1.1 7l1.8 7l1.6 4.3l2.2 4.7l7.2 12l7.6 10.5l19.3 24.5l4.8 7l3.4 6l3.4 8l1.1 4l0.8 4l0.2 4l-0.1 3l-1.4 6l-2.8 6l-4.9 7l-159.6 0l-10.3-8l-4.9-4.6l-4.2-5.4l-3-6l-1.9-7l-0.4-4l-0.1-4l0.3-4l0.7-4l2.4-8l3-7l3.8-7l5.3-8l6.3-8l7.8-8.2l30-27.3l4.9-5.5l3.4-5l2-4l1.8-5l1.3-5l1-6l0.8-7l0.4-10l-0.3-25l0.3-7l1.4-9l1.4-5l1.6-4.5l3.5-7.5l4.8-8l5.7-7.5l6-6.4l5-4.2l4-2.1l3-0.7l2-0.1z"/>
<path fill="#36ff00" d="M967.5 698.4l4 1.9l3 2.4l3 3.2l3 4.2l2.7 5.4l2 5l1.7 6l1.5 7l1.2 9l0.2 7l-2.3 30l-0.5 15l0.1 10l0.5 10l0.9 8l1.3 8l1.5 6l1.4 4l1.9 4l7 12l7.9 11.1l18.5 23.9l4 6l3.4 6l3.4 8l1.1 4l0.7 4l0.2 4l-0.1 3l-0.6 3l-0.9 3l-1.2 3l-2.4 4l-2.9 4l-2.7 3l-149.2 0l-7.3-5.1l-8.3-6.9l-4.5-5l-2-3l-1.6-3l-1.2-3l-1.1-4l-0.7-4l-0.2-4l0.2-4l0.6-4l2.1-8l2.9-7l3.7-7l5.1-7.7l5.7-7.3l4.4-5l5-5l27.9-25.7l5-5.6l3.9-5.7l2-4l1.8-5l1.4-5l1-6l0.8-7l0.5-9l0.1-26l0.3-6l1.3-8l2.9-9.2l3.6-7.8l4.2-7l5.2-6.9l5-5.2l5-3.9l4-2l4-0.7z"/>
<path fill="#4cff00" d="M967.5 704.9l3 1.5l3 2.4l3 3.4l2.7 4.3l2.3 4.8l1.8 5.2l1.6 6l1.2 6l0.7 6l0.2 6l-1.5 28l-0.3 14l0.1 11l0.6 10l0.9 9l1.2 8l1.7 7l1.4 4l1.8 4l6.4 11l7.8 11l17.4 23l4 6l3.4 6l3.3 8l1.7 7l0.3 4l-0.1 3l-1.2 6l-1.7 4l-2.7 4.4l-3 3.7l-4.2 3.9l-137.7 0l-4.1-2.1l-4-2.6l-8.2-6.3l-5.9-6l-2.2-3l-1.7-3l-1.3-3l-1.3-4l-1-7l0.1-4l0.4-4l2-8l2.7-7l3.7-7l4.5-7l5.3-7l4.3-5l5.9-6l20.7-19.1l7-6.8l5-5.8l3.5-5.3l2-4l1.9-5l1.3-5l1-5l0.8-7l0.6-8l1.1-33l1.3-8l2.6-8l3.2-7l3.7-6.5l4-5.5l5-5.3l5-3.8l4-1.7l4-0.6z"/>
<path fill="#62ff00" d="M965.5 710.8l3 1.2l3 2.1l3 3.3l2 3.1l2 3.9l1.9 5.1l1.8 6l1 5l0.7 5l0.3 5l-0.9 30l0 13l0.3 11l0.8 11l1.2 11l1.1 7l1.5 6l2.9 7l5.9 10l6.9 10l17.1 23l4 6l3.4 6l3 7l1.9 7l0.4 4l0 3l-1.1 6l-2 5l-3.4 5l-4 4l-5.5 4l-123.5 0l-8.7-3.6l-4-2.2l-4-2.8l-4.2-3.4l-3.3-3l-2.7-3l-2.8-4l-1.6-3l-1.5-4l-0.8-3l-0.6-4l-0.1-4l0.3-4l1.7-8l2.6-7l3.6-7l4.4-7l5.3-7l5.2-6l5.9-6l17.6-16.2l8-7.8l5.2-6l4-6l2-4l1.9-5l1.4-5l1-5l1.4-13l1.1-26l0.6-8l1.4-8l1.9-6l3.1-6.9l3.5-6.1l3.5-5l4-4.3l4-3.2l4-1.9l4-0.7z"/>
<path fill="#77ff00" d="M964.5 716.9l3 1.3l2 1.5l2 2l2 2.8l2 3.7l2 4.8l1.8 5.5l1.1 5l0.8 9l-0.2 29l0.8 23l2.2 24l1.1 7l1.2 5l2.5 6l5.1 9l6.9 10l16.8 23l4.6 7l2.8 5l3 7l1.8 7l0.5 6l-0.9 6l-1 3l-1.5 3l-2 3l-1.7 2l-2.7 2.5l-3 2.3l-7.3 4.2l-106.3 0l-12.4-3.9l-4-1.7l-4-2.1l-4-2.7l-4-3.2l-3.5-3.4l-2.5-2.9l-2.1-3.1l-1.6-3l-1.5-4l-1-4l-0.4-4l0-4l0.5-4l0.8-4l2.3-7l3.8-8l4.2-6.8l5.4-7.2l5.1-6l5.8-6l16.5-15l8.2-8l6-7l4-6l2-4l1.6-4l1.5-5l1.3-6l1.4-12l2.1-32l1.3-8l1.7-6l2.7-6l3.4-6.1l3.4-4.9l3.6-4l4-3l3-1.3l3-0.6z"/>
<path fill="#8dff00" d="M962.7 723.5l1.8 0.6l2.4 1.4l2 2l2.2 3l2.2 4l1.7 4l1.4 4l0.9 4l0.7 7l0.8 33l1 19l2.4 25l0.9 6l1.2 5l2.5 6l4.7 8l5.4 8l17.4 24l4.5 7l2.8 5l3 7l1.6 6l0.6 6l-0.6 6l-1 3l-1.7 3.6l-2 2.9l-2.4 2.5l-5.3 4l-11 6l-91.4 0l-4.9-2.1l-12.8-3.9l-6.2-2.6l-3-1.7l-3.9-2.7l-3.6-3l-2.5-2.5l-2.8-3.5l-2.2-3.4l-1.6-3.6l-1.2-4l-0.7-4l-0.1-4l0.3-4l0.7-4l2-7l3.7-8l3.5-6l5.9-8l5-6l5.7-6l16.6-15l8.2-8.1l6-7.1l4.4-6.8l1.9-4l1.6-4l2.5-10l1.4-11l2.5-30l1.6-9l1.7-6l2.4-5l3-5.1l3-4.3l3-3.3l2.7-2.3l2.3-1.3l3-0.8z"/>
<path fill="#a3ff00" d="M961.5 732.1l2 0.7l2 1.2l3 3.3l3 5.4l1.1 2.8l1 4l0.9 7l2.1 36l2.6 31l1.3 11l1.8 8l2.2 5.4l4.4 7.6l22 31l3.9 6l3.4 6l3 7l1.7 6l0.5 6l-0.5 5l-1.3 4l-1.5 3l-2.2 3l-2.4 2.4l-3 2.4l-4 2.5l-8 4.4l-5.1 2.3l-77.8 0l-9.1-4l-12-3.9l-6-2.4l-6.4-3.7l-5.9-5l-2.7-3.1l-2.6-3.9l-1.5-3l-1.4-4l-0.8-4l-0.2-4l0.2-4l0.6-4l2-7l3-7l3.4-6l5.7-8l5.1-6l5.6-6l16.9-15.2l7.9-7.8l5.9-7l4.6-7l2-4l1.6-4l1.5-5l1.1-5l1.6-11l2.6-27l1.2-6.6l2-6.9l1.8-4.5l1.7-3l2.5-3.7l3-3.5l3-2.5l2-1.1l2-0.6z"/>
<path fill="#b8ff00" d="M960.5 742.2l3 1.2l2 1.9l1 1.4l2 4l1.6 5.8l1.4 11l5.7 62l1.1 7l1.5 6l2.5 6l4 7l21.2 30l3.9 6l3.4 6l2.7 6l1.8 6l0.7 6l-0.4 5l-1.1 4l-2 3.8l-2.5 3.2l-3.3 3l-5.2 3.5l-6.3 3.5l-5.7 2.5l-5 1.6l-3.8 0.9l-60.4 0l-14.3-6l-11.6-4l-4.9-2l-6-3.3l-5.8-4.7l-2.8-3l-2.2-3l-1.6-3l-1.6-4l-1-4l-0.4-4l0.1-4l0.5-4l1.9-7l2.9-7l3.4-6l5.6-7.8l5-5.9l5.1-5.3l17.8-16l6.1-6l6.8-8l4.7-7l2.1-4l1.7-4l1.3-4l1.5-6l1.7-10l2.9-25l1.1-6l1.5-5l2.7-6.1l2-3.1l2-2.4l2-1.8l2-1.3l2-0.6z"/>
<path fill="#ceff00" d="M958.5 753.9l2 0.5l1 0.7l2 2.4l1.8 4l1.2 4.5l1.6 9.5l3.5 27l2.8 28l1.1 6l1.7 6l2.4 6l4 7l19.9 28l4.5 7l3.4 6l2.7 6l1.8 6l0.6 5l-0.2 5l-1 4l-1.4 3l-2 3l-2.8 3l-3.8 3l-4.7 3l-4.1 2.1l-5 2l-9 2.2l-13 1.7l-19.3 1l-16.9 0l-6.8-2l-28.5-11l-6-3l-5.5-3.9l-3.2-3.1l-2.5-3l-1.9-3l-1.4-3l-1.3-4l-0.8-4l-0.1-4l0.2-4l1.5-7l2.8-7l3.8-7l4.9-6.9l5-5.9l5-5.2l17.9-16l6.2-6l7.6-9l5.3-8l2.1-4l1.6-4l2.6-9l1.9-10l2.8-19.5l2-8.7l2-4.8l2-3.1l3-2.7l2-0.8z"/>
<path fill="#e4ff00" d="M957.5 771.4l1.6 1.1l1.4 2.2l2 5.5l2 7.7l2 8.9l1.7 9.7l1.8 18l0.9 6l1.4 6l2 6l3.1 7l4 7l18 25l4.6 7l3.5 6l2.8 6l1.9 6l0.9 5l-0.1 5l-0.8 4l-1.3 3l-1.8 3l-2.6 3l-3 2.5l-4 2.8l-4 2.1l-4 1.6l-4 1.2l-5 1.1l-13 1.7l-14 0.9l-17 0.6l-4-0.1l-3-0.6l-7-2.3l-22-8.3l-7-3.5l-6-4.3l-2.6-2.4l-2.5-3l-2-3l-2-4l-1.2-4l-0.7-4l-0.1-4l0.4-4l1.4-6l2.7-7l3.5-6l5-7l5.1-5.9l5-5.1l17.1-15l5.3-5l7.9-9l6.6-9l3.2-6l2.6-7l2.7-9l3.6-15l2-6.9l2-4.3l1-1.2l1-0.7z"/>
<path fill="#faff00" d="M957.5 800l1 0.5l1 0.9l1 1.5l1.9 4.6l1.1 4.9l1.2 10.1l1 5l2.2 7l3.3 8l3.9 8l4.1 7l16.3 22.4l5.6 8.6l3.4 6l2.7 6l1.8 6l0.7 5l-0.2 5l-0.8 3l-1.2 3l-2 3l-2.7 3l-3.3 2.7l-3 1.9l-3 1.5l-4 1.5l-4 1.1l-6 1.2l-14 1.7l-10 0.5l-15 0.4l-7-0.3l-12-3.4l-14-5.1l-9-4.5l-6-4.3l-2.9-2.9l-2.4-3l-1.9-3l-1.9-4l-1.2-4l-0.5-4l-0.1-4l0.5-4l1.5-6l2.1-5l3.4-6l4.3-6l4.3-5l4.9-5l6.9-6.3l12.6-10.7l8.8-9l9.5-11l3.7-5l1.8-3l4.6-9.5l3-4.9l2-1.8l1-0.3z"/>
<path fill="#ffef00" d="M950.5 822.6l2-0.4l2 0.5l2 1.5l2 2.5l4 6.5l9.5 17.3l3.6 6l4.1 6l10.6 14l7.3 11l4 7l2.6 6l1.6 6l0.5 5l-0.5 5l-1.3 3.9l-2.6 4.1l-2.9 3l-4.5 3.2l-5 2.3l-6 1.7l-8 1.5l-8 1l-10 0.8l-20 0l-5-0.5l-6-1.3l-8-2.4l-8-2.9l-6-2.8l-5-3l-4.4-3.6l-3.7-4l-2.7-4l-2.4-5l-1-4l-0.6-5l0.2-4l0.8-4l1.1-4l1.8-4l2.8-5l3.1-4.6l4.5-5.4l5.7-6l7.8-7l12.2-10l15.8-16l6-4.9z"/>
<path fill="#ffd900" d="M891.1 884.5l3.3-6l3.5-5l6.2-7l6.3-6l15.9-13l12.2-11.5l4-3.3l3-1.9l2-0.7l2-0.3l2 0.2l2 0.8l2 1.3l4 4.4l14.4 22l14.2 19l7.7 12l4.1 8l2.3 7l0.7 6l-0.2 3l-0.7 3l-1.2 3l-1.9 3l-2.4 2.6l-3 2.4l-3 1.7l-3.1 1.3l-8.9 2.3l-7 1.3l-7 0.9l-8 0.6l-8 0.2l-8-0.2l-6-0.5l-6-1l-6-1.4l-6-2l-5-1.9l-4-2l-4-2.3l-3-2.2l-3.2-2.8l-2.6-3l-2.2-3l-2-3.7l-1.3-3.3l-0.7-3l-0.5-4l0-3l0.5-4l1-4z"/>
<path fill="#ffc300" d="M894.3 884.5l3.2-5.8l3.8-5.2l5.4-6l6.3-6l15.3-12l14.2-11.9l4-2.2l2-0.4l2 0.2l2 0.9l2 1.4l4 4.5l15.1 20.5l10.7 14l6.7 10l4.9 9l2.5 7l1 6l-0.1 3l-0.6 3l-1.1 3l-1.9 3l-2.2 2.4l-3 2.4l-3 1.6l-4 1.6l-10 2.6l-6 1l-7 0.9l-7 0.4l-7 0l-12-0.7l-6-1l-6-1.4l-9-3.3l-7-3.7l-3-2.2l-3-2.6l-2.7-3l-2.1-3l-1.7-3l-1.6-4l-0.7-3l-0.5-4l0.1-3l0.6-4l0.8-3z"/>
<path fill="#ffae00" d="M897.6 884.5l2.9-5.1l4.5-5.9l5.5-6l6.7-6l6.3-4.9l18-12.7l4-2l2-0.4l2 0.1l2 0.8l3 2.2l7 7.2l17 21.2l7 9.8l5.6 9.7l3.4 8l1.2 6l0 3l-0.5 3l-1.1 3l-1.6 2.7l-2 2.3l-2.5 2l-3.4 2l-3.1 1.4l-4.9 1.6l-5.1 1.3l-6 1.2l-6 0.7l-6 0.4l-7 0.1l-12-0.8l-6-1l-5-1.3l-8-2.8l-3.5-1.8l-3.5-2.1l-3-2.3l-2.7-2.6l-2.6-3l-1.9-3l-1.5-3l-1.1-3l-0.7-3l-0.4-4l0.1-3l0.7-4z"/>
<path fill="#ff9800" d="M901.3 884.5l3.6-6l4.9-6l6.1-6l6.6-5.5l10-6.7l8-4.4l3-1.1l2-0.4l2 0l2 0.3l3 1.2l3 1.9l3 2.4l4 3.9l5 5.6l6 7.3l8 10.8l5.7 9.7l3.3 8l1 4l0.4 3l-0.2 3l-0.5 2l-1.3 3l-1.4 2l-2 2.2l-3 2.3l-3 1.7l-4.3 1.8l-9.7 2.7l-10 1.4l-12 0.3l-11-1l-5-0.9l-5-1.3l-7-2.8l-6-3.5l-5-4.4l-2-2.5l-2-3l-1.4-3l-1.1-3l-0.6-3l-0.3-3l0.1-3l0.5-3l0.9-3z"/>
<path fill="#ff8200" d="M905.2 884.5l3.9-6l5.4-6.2l6.2-5.8l6.8-5l7-4l6-2.4l5-0.9l2 0.1l3 0.7l3 1.2l3 1.8l3 2.3l4 3.7l8 9.1l6.9 9.4l4.6 8l2.9 7l1 4l0.4 3l-0.1 3l-0.4 2l-1.3 3l-1.2 2l-1.8 2.1l-3 2.4l-3 1.8l-3.9 1.7l-8.1 2.4l-10 1.4l-10 0.3l-11-1l-8.6-2.1l-6.4-2.5l-6-3.7l-2.1-1.8l-2.8-3l-3.2-5l-1.9-5l-0.5-3l-0.2-3l0.3-3l0.7-3z"/>
<path fill="#ff6d00" d="M908.5 886.5l3.7-6l5.1-6l6.2-5.8l6-4l6-3l6-1.7l5-0.2l5 1l3 1.3l3 1.8l3 2.3l3 2.7l7 8l6 8.6l3.5 7l1.9 6l0.3 5l-1.1 6l-0.8 2l-1.3 2l-1.8 2l-2.6 2l-3.1 1.8l-2.8 1.2l-7.2 2.2l-9 1.2l-9 0.1l-9-0.9l-8-1.9l-6-2.5l-5.1-3.2l-3.9-3.7l-3-4.4l-1.9-4.9l-0.8-5l0.7-5.5z"/>
<path fill="#ff5700" d="M913.3 886.5l3.2-5l5-5.6l5-4.4l5-3.1l5-2.1l5-1.1l5-0.1l5 1l5 2.4l5.1 4l5.9 6.4l5 7.2l3 6.1l1.5 5.3l0.3 5l-1 5l-2.1 4l-1.7 2l-2 1.6l-5 2.7l-6 2l-8 1.2l-8 0.2l-8-0.9l-7.3-1.8l-4.9-2l-4.8-3.1l-3.9-3.9l-2.4-4l-1.4-4l-0.5-5l0.9-5z"/>
<path fill="#ff4100" d="M924.5 879.4l4-3.5l4-2.5l4-1.7l4-0.9l4-0.3l4 0.5l4 1.2l4 2.2l4 3.3l4.4 4.8l3.3 5l2.3 4.8l1.2 4.2l0.3 4l-0.6 4l-1.8 4l-1.5 2l-1.6 1.5l-4.1 2.5l-5.6 2l-6.3 1.1l-8 0.1l-7-0.9l-6-1.7l-5.2-2.6l-3.7-3l-3-4l-1.6-4l-0.6-4l0.5-4l1.8-5l2.8-4.5z"/>
<path fill="#ff2b00" d="M924.4 888.5l2.2-3l2.9-3l3-2.2l4-2l3-1l4-0.4l4 0.4l3 0.8l4 2.1l3 2.3l3 3.3l2.5 3.7l1.5 3.3l1 3.7l0.1 4l-0.8 3l-1.7 3l-2.6 2.6l-3 1.8l-4.6 1.6l-4.4 0.7l-5 0.2l-5-0.6l-5.1-1.3l-3.9-1.8l-3-2.2l-2.6-3l-1.4-2.7l-0.7-3.3l0-3l0.7-3z"/>
<path fill="#ff1600" d="M932.2 892.5l2.3-3l2-1.6l2-1l4-1.1l2 0l3 0.6l2 0.9l2 1.2l3 3.3l1 1.7l0.6 2l0.3 2l-0.3 2l-0.8 2l-1.7 2l-3.3 2l-2.8 0.8l-3 0.2l-3-0.2l-3-0.7l-2-0.8l-2.1-1.3l-1.1-1l-1.4-2l-0.7-2l-0.2-2l0.4-2z"/>
</g>
<path fill="none" stroke="#333" stroke-opacity="0.8" stroke-width="0.85" d="M909.3 563.5l-1.2 3l-0.7 3l-0.7 4l-0.3 4l-1.1 20l0.1 5l0.5 6l0.8 6l1 5l0.9 4l1.5 4l1.4 2.5l2 2.6l2 1.4l2 0.5l2-0.3l2-1.1l2-2l2-3.1l1.2-2.5l1.3-4l1.1-5l0.9-5l1.2-9l0.2-6l-1.2-24l-0.5-4l-0.9-5M977.2 563.5l1.3 2.2l2 2.1l2 1.2l2 0.6l2 0.1l2-0.2l9-2.7l3-0.5l3-0.1l3 0.4l2 0.9l1.3 1l1.6 2l1.1 2.1l1 2.4l4.4 12.5l3.2 7l4.9 9l18.5 32l8 15.1l2 4.2l2.2 5.7l1.8 6.5l3.9 16.5l2.8 14l1.9 11l2.2 16l2.4 20l0.6 8l0.1 7l-0.5 7l-1 8l-1.2 5l-1.2 3l-2 3.3l-2 2.1l-1 0.8l-2 1l-2.1 0.8l-2.9 0.5l-3 0l-8-0.3l-5 0.6l-3 1l-2 0.9l-3 1.9l-2 1.8l-2.2 2.6l-2.3 4l-1.2 3l-0.9 4l-0.4 4l0.3 4l0.9 4l1.1 3l1.7 3.3l2 2.7l3 3l3 2.3l4 2.2l4 1.7l18 6.1l4 1.5l4 1.9l4 2.3l3 2.1l4 3.4l4 3.9l4.8 5.6l4.7 6l5.7 8l5.3 8l6.3 10l13.2 22.3l11.8 18.7l1.6 3l1.4 3M887.5 771.6l-2-0.2l-3 0.5l-3 1.4l-2 1.5l-2 2.1l-1.7 2.6l-1.5 3l-1 3l-0.7 4l0 3l0.4 3l0.7 2l1.1 2l1.8 2l1.9 1.4l3 1.1l2 0.3l3-0.2l3-1l2-1.2l2-1.8l2-2.6l1.6-3l1-3l0.6-4l0-3l-0.6-3l-1-3l-1.6-2.8l-2-2.1l-2-1.3zM784.5 892.6l2-9.1l1.3-5l1.8-5l7.5-19l2.9-9l2.6-9l2.3-9l1.7-8l2.7-18l2.5-24l2.2-28l1.6-16l1.1-14l2.8-46l0.8-18l5.5-92M881 563.5l1.5 3l1.1 3l1 4l1.5 7l2.6 16l3.7 28l1.4 8l1.4 6l2.7 9l1.1 3l1.4 3l3.1 5l2 2.3l2 1.8l3 1.8l3 0.8l3-0.2l3-0.9l3-1.7l3-2.5l3-3.3l3-4l2-3.5l2-4.2l2.6-6.4l1.8-5l3-10l4.6-19.8l2-6.9l1-2.2l1-1.5l1-1l1-0.6l1-0.2l2 0.2l1.9 1l1.1 0.9l3 2.9l6.4 7.2l3.9 4l3.7 3.3l10 8l5.8 5.7l6.2 7.3l6.7 8.7l11 16l3.7 6l3.6 7l3.3 8l3.2 9l2.8 10l2.2 10l1.2 8l0.7 8l0 8l-0.3 5l-1 6l-1.2 5l-1.6 5l-1.5 4l-1.7 4l-8.1 16.5l-3.9 8.5l-2.1 5.7l-1.8 6.3l-1.4 7l-0.4 4l-0.2 4l0.4 7l1.2 6l1.7 5l2.4 5l3.1 4.7l3 3.6l4 4.1l7 6.4l18.9 15.2l9 8l4 4l4.5 5l3.2 4l3.8 5l4.8 7l4.3 7l3.3 6l3.3 7l2.4 6l2 6l1.8 7l1 6M806.6 946.5l-1.5-4l-1.1-4l-0.6-4l-0.2-5l0.1-4l0.6-5l1-6l1.4-6l1.9-7l1.8-6l3.2-9l3.5-9l3.4-8l4.4-9.5l3.2-6.5l2.9-5l1.9-2.8l2.5-3.2l6.5-7.3l5-4.6l4-2.7l4-2l5-1.6l16-3.7l7-2l6-2.5l2.8-1.6l2.2-1.6l2-1.7l2.5-2.7l1.5-2.1l1.6-2.9l1.4-3l1.1-3l1-4l0.7-4l0.3-5l-0.3-6l-0.8-5.2l-1.6-5.8l-1.9-5l-2.5-4.7l-3-4.2l-3-3l-3-1.9l-3-1.2l-3-0.5l-3 0.1l-3 0.7l-3 1.1l-3 1.3l-6 3.2l-3 1.2l-4 1l-3-0.1l-2-0.6l-1-0.6l-2-1.7l-1-1.3l-1-1.8l-1.4-3l-1.8-6l-1.2-6l-1-7l-0.8-9l-0.5-9l-0.4-20l0.2-27l0.8-21l1.9-29l0.8-10l1.8-17l1.1-9l1.1-6l1.2-4l1.5-3M839.7 946.5l-5.5-7l-1.9-3l-1.6-3l-1.3-3l-0.9-3l-1.1-6l-0.2-3l0.2-4l0.4-4l0.7-4l2.3-9l3.4-9l2.6-6l2.5-5l3.3-6l3-5l4-6l3.5-5l5.5-7l3.4-4l4.3-4l5.2-3.8l19-11.1l4-2.6l4-2.9l3.1-2.6l2.9-3l2.3-3l1.9-3l2.3-5l1.3-4l0.7-3l1.1-7l0.4-7l-0.4-9l-0.9-8l-1.7-10.6l-3.4-16.4l-1.2-9l-0.2-5l0.2-5l0.6-4l1.2-4l1.2-3l1.2-2l3.6-5l3.6-4l14.2-14.2l7-8.2l5.5-7.6l7.5-12.1l3-3.9l3-2.7l2-1.3l2-0.7l3-0.5l2 0.2l3 0.8l3 1.4l3 2l4 3l4 3.4l2.3 2.4l2.7 3.4l4 5.8l3.7 5.8l2.9 5l2.5 5l2.2 5l2.1 6l1.8 6l1.5 6l1.6 9l0.9 8l0.2 8l-0.4 8l-0.6 5l-1 5l-5.2 22l-2.5 12l-1.4 10l-0.8 9l0 8l0.5 7l1.2 7l1.8 6l2.5 6l2.5 4.7l3 4.5l5 6.5l4 4.8l5 5.4l17.9 18.1l6.6 7l3.4 4l3 4l2.8 4l2.5 4l3.1 6l2.1 5l1.7 5l1.2 5l0.7 5l0.2 5l-0.4 6l-0.8 5M871 946.5l-8.5-6.7l-5-4.6l-2.2-2.7l-2.1-3l-1.7-3l-1.3-3l-1.2-4l-0.7-3l-0.4-4l-0.1-4l0.3-4l0.7-4l1.2-5l1.4-4l3.5-8l3.8-7l6-9l6.4-8l3.6-4l4.1-4l25.7-22.6l4.8-4.4l4.5-5l2.2-3l1.5-2.5l2.1-4.5l1.7-5l1.2-5l1.1-7l0.5-7l0.3-10l-0.2-9l-0.6-14l0.1-7l0.5-5l0.7-4l1.2-5l1.7-5l1.7-4.2l1.8-3.8l4.1-7l5.1-7.1l7-8.4l5-5l3-2.3l2-1.3l2-1l2-0.6l2-0.4l2-0.1l2 0.3l2 0.5l3 1.5l4 3l4 4.3l3.4 4.6l2.8 5l2.2 5l2.4 7l1.4 6l1.3 7l0.8 8l0.4 7l-0.4 8l-1.7 12l-1.4 14l-0.8 11l-0.4 9l0 8l0.3 8l0.7 6.1l1.2 6.9l1.5 6l2.2 6l3 6l4.7 8l3.4 5l5.2 7l17.2 21l6.1 8l2.7 4l2.4 4l2.1 4l1.8 4l1.7 5l1.1 5l0.5 5l-0.3 4l-0.8 4l-1.4 4l-2.1 4l-3.3 5M911.4 946.5l-4.9-2.1l-12.8-3.9l-6.2-2.6l-3-1.7l-3.9-2.7l-3.6-3l-2.5-2.5l-2.8-3.5l-2.2-3.4l-1.6-3.6l-1.2-4l-0.7-4l-0.1-4l0.3-4l0.7-4l2-7l1.7-4l2-4l3.5-6l5.9-8l5-6l5.7-6l16.6-15l8.2-8.1l3-3.3l3-3.8l2.6-3.8l1.8-3l1.9-4l1.6-4l1.4-5l1.1-5l1.4-11l1.5-20l1-10l1.6-9l1.7-6l2.4-5l2.9-5l2.1-3.1l3-3.6l2.4-2.3l2.6-1.8l3-1.1l2-0.2l1.2 0.1l1.8 0.6l2 1.1l2 1.8l2 2.6l2 3.3l2 4.3l1.6 4.3l1 4l0.6 4l0.3 4l0.8 33l1.1 20l2.4 25l1 6l1.4 5l1.2 3l1.5 3l4.7 8l5.5 8l16 22l5.8 9l2.2 4l2.3 5l1.4 4l0.9 4l0.5 3l0.1 3l-0.4 5l-0.8 3l-0.8 2l-2.2 4l-1.5 2l-1.6 1.6l-4 3.3l-3.4 2.1l-9.3 5M950.5 822.6l2-0.4l2 0.5l2 1.5l2 2.5l4 6.5l9.5 17.3l3.6 6l4.1 6l10.6 14l7.3 11l4 7l2.6 6l0.9 3l0.7 3l0.5 5l-0.1 3l-0.4 2l-1.3 3.9l-1.2 2.1l-1.4 2l-2.9 3l-2.5 2l-2 1.2l-2 1.1l-3 1.2l-6 1.7l-8 1.5l-8 1l-10 0.8l-7 0.2l-13-0.2l-5-0.5l-6-1.3l-8-2.4l-8-2.9l-6-2.8l-5-3l-4.4-3.6l-3.7-4l-2.7-4l-2.4-5l-1-4l-0.6-5l0.2-4l0.8-4l1.1-4l1.8-4l2.8-5l3.1-4.6l4.5-5.4l5.7-6l7.8-7l12.2-10l4.1-4l11.7-12l3-2.6l3-2.3l2-1.1zM908.5 886.5l1.7-3l2-3l2.4-3l2.7-3l3.2-3.1l3-2.7l3-2.2l3-1.8l3-1.7l3-1.3l3-1l3-0.7l3-0.3l2 0.1l2 0.2l3 0.8l3 1.3l3 1.8l3 2.3l3 2.7l4 4.4l3 3.6l3.4 4.6l2.6 4l2 3.7l1.5 3.3l1.1 3l0.8 3l0.3 3l0 2l-0.2 2l-0.9 4l-0.8 2l-1.3 2l-1.8 2l-2.6 2l-3.1 1.8l-2.8 1.2l-3.2 1.1l-4 1.1l-4 0.6l-5 0.6l-4 0.2l-5-0.1l-5-0.3l-4-0.6l-4-0.8l-4-1.1l-3-1.1l-3-1.4l-2.2-1.2l-2.9-2l-2.3-2l-1.6-1.7l-1.7-2.3l-1.3-2.1l-1-2.1l-0.9-2.8l-0.6-3l-0.2-2l0.2-3l0.5-2.5l0.7-2.5z"/>
</svg>
<rect x="785.5" y="564.5" width="396.8" height="381.0" fill="none" stroke="#000" stroke-width="3"/>
<path d="M785.5 945.5v8.5M812.0 945.5v4.0M838.4 945.5v4.0M864.9 945.5v4.0M891.3 945.5v4.0M917.8 945.5v8.5M944.2 945.5v4.0M970.7 945.5v4.0M997.1 945.5v4.0M1023.6 945.5v4.0M1050.0 945.5v8.5M1076.5 945.5v4.0M1102.9 945.5v4.0M1129.4 945.5v4.0M1155.8 945.5v4.0M1182.3 945.5v8.5M785.5 945.5h-8.5M785.5 926.5h-4.0M785.5 907.4h-4.0M785.5 888.4h-4.0M785.5 869.3h-4.0M785.5 850.2h-8.5M785.5 831.2h-4.0M785.5 812.1h-4.0M785.5 793.1h-4.0M785.5 774.0h-4.0M785.5 755.0h-8.5M785.5 736.0h-4.0M785.5 716.9h-4.0M785.5 697.9h-4.0M785.5 678.8h-4.0M785.5 659.8h-8.5M785.5 640.7h-4.0M785.5 621.6h-4.0M785.5 602.6h-4.0M785.5 583.5h-4.0M785.5 564.5h-8.5" stroke="#000" stroke-width="3" fill="none"/>
<g font-size="26.4" text-anchor="middle">
<text transform="translate(785.8 978.3) scale(0.927 1)">0</text>
<text transform="translate(918.1 978.3) scale(0.927 1)">5</text>
<text transform="translate(1050.3 978.3) scale(0.927 1)">10</text>
<text transform="translate(1182.6 978.3) scale(0.927 1)">15</text>
</g>
<g font-size="26.4" text-anchor="end">
<text transform="translate(771.9 953.3) scale(0.927 1)">1.0</text>
<text transform="translate(771.9 858.0) scale(0.927 1)">1.5</text>
<text transform="translate(771.9 762.8) scale(0.927 1)">2.0</text>
<text transform="translate(771.9 667.5) scale(0.927 1)">2.5</text>
<text transform="translate(771.9 572.3) scale(0.927 1)">3.0</text>
</g>
<text x="984.1" y="1012.7" font-size="32.3" text-anchor="middle"><tspan font-style="italic">k</tspan> (Å<tspan font-size="21.5" dy="-14.3">-1</tspan><tspan dy="14.3">)</tspan></text>
<text transform="translate(721.0 757.0) rotate(-90)" font-size="32.3" text-anchor="middle">R (Å)</text>
<text x="718.5" y="522.8" font-size="48.5">e</text>
<g font-size="25.1" fill="#ffff00">
<text x="1177.8" y="593.8" text-anchor="end">Zn-SA/CNCl-920</text>
<text x="1170.0" y="639.5" text-anchor="end">Cl-K edge</text>
</g>
<text x="919.2" y="907.2" font-size="24.6" fill="#ffff00">Cl-C</text>
<text x="925.7" y="784.5" font-size="24.6" fill="#ff0000">Cl-Zn</text>
<rect x="1206.8" y="564.3" width="55.0" height="8.1" fill="#808080"/>
<rect x="1206.8" y="937.8" width="55.0" height="7.9" fill="#000"/>
<rect x="1206.8" y="929.89" width="55.0" height="7.91" fill="#0000ff"/>
<rect x="1206.8" y="922.28" width="55.0" height="7.91" fill="#0016ff"/>
<rect x="1206.8" y="914.66" width="55.0" height="7.91" fill="#002bff"/>
<rect x="1206.8" y="907.05" width="55.0" height="7.91" fill="#0041ff"/>
<rect x="1206.8" y="899.44" width="55.0" height="7.91" fill="#0057ff"/>
<rect x="1206.8" y="891.83" width="55.0" height="7.91" fill="#006dff"/>
<rect x="1206.8" y="884.21" width="55.0" height="7.91" fill="#0082ff"/>
<rect x="1206.8" y="876.60" width="55.0" height="7.91" fill="#0098ff"/>
<rect x="1206.8" y="868.99" width="55.0" height="7.91" fill="#00aeff"/>
<rect x="1206.8" y="861.38" width="55.0" height="7.91" fill="#00c3ff"/>
<rect x="1206.8" y="853.76" width="55.0" height="7.91" fill="#00d9ff"/>
<rect x="1206.8" y="846.15" width="55.0" height="7.91" fill="#00efff"/>
<rect x="1206.8" y="838.54" width="55.0" height="7.91" fill="#00fffa"/>
<rect x="1206.8" y="830.93" width="55.0" height="7.91" fill="#00ffe4"/>
<rect x="1206.8" y="823.31" width="55.0" height="7.91" fill="#00ffce"/>
<rect x="1206.8" y="815.70" width="55.0" height="7.91" fill="#00ffb8"/>
<rect x="1206.8" y="808.09" width="55.0" height="7.91" fill="#00ffa3"/>
<rect x="1206.8" y="800.48" width="55.0" height="7.91" fill="#00ff8d"/>
<rect x="1206.8" y="792.86" width="55.0" height="7.91" fill="#00ff77"/>
<rect x="1206.8" y="785.25" width="55.0" height="7.91" fill="#00ff62"/>
<rect x="1206.8" y="777.64" width="55.0" height="7.91" fill="#00ff4c"/>
<rect x="1206.8" y="770.03" width="55.0" height="7.91" fill="#00ff36"/>
<rect x="1206.8" y="762.41" width="55.0" height="7.91" fill="#00ff21"/>
<rect x="1206.8" y="754.80" width="55.0" height="7.91" fill="#00ff0b"/>
<rect x="1206.8" y="747.19" width="55.0" height="7.91" fill="#0bff00"/>
<rect x="1206.8" y="739.58" width="55.0" height="7.91" fill="#21ff00"/>
<rect x="1206.8" y="731.96" width="55.0" height="7.91" fill="#36ff00"/>
<rect x="1206.8" y="724.35" width="55.0" height="7.91" fill="#4cff00"/>
<rect x="1206.8" y="716.74" width="55.0" height="7.91" fill="#62ff00"/>
<rect x="1206.8" y="709.12" width="55.0" height="7.91" fill="#77ff00"/>
<rect x="1206.8" y="701.51" width="55.0" height="7.91" fill="#8dff00"/>
<rect x="1206.8" y="693.90" width="55.0" height="7.91" fill="#a3ff00"/>
<rect x="1206.8" y="686.29" width="55.0" height="7.91" fill="#b8ff00"/>
<rect x="1206.8" y="678.68" width="55.0" height="7.91" fill="#ceff00"/>
<rect x="1206.8" y="671.06" width="55.0" height="7.91" fill="#e4ff00"/>
<rect x="1206.8" y="663.45" width="55.0" height="7.91" fill="#faff00"/>
<rect x="1206.8" y="655.84" width="55.0" height="7.91" fill="#ffef00"/>
<rect x="1206.8" y="648.23" width="55.0" height="7.91" fill="#ffd900"/>
<rect x="1206.8" y="640.61" width="55.0" height="7.91" fill="#ffc300"/>
<rect x="1206.8" y="633.00" width="55.0" height="7.91" fill="#ffae00"/>
<rect x="1206.8" y="625.39" width="55.0" height="7.91" fill="#ff9800"/>
<rect x="1206.8" y="617.78" width="55.0" height="7.91" fill="#ff8200"/>
<rect x="1206.8" y="610.16" width="55.0" height="7.91" fill="#ff6d00"/>
<rect x="1206.8" y="602.55" width="55.0" height="7.91" fill="#ff5700"/>
<rect x="1206.8" y="594.94" width="55.0" height="7.91" fill="#ff4100"/>
<rect x="1206.8" y="587.33" width="55.0" height="7.91" fill="#ff2b00"/>
<rect x="1206.8" y="579.71" width="55.0" height="7.91" fill="#ff1600"/>
<rect x="1206.8" y="572.10" width="55.0" height="7.91" fill="#ff0000"/>
<rect x="1206.8" y="564.3" width="55.0" height="381.4" fill="none" stroke="#000" stroke-width="1"/>
<g font-size="17.9">
<text x="1271.1" y="944.1">0.00</text>
<text x="1271.1" y="898.4">0.03</text>
<text x="1271.1" y="852.7">0.05</text>
<text x="1271.1" y="807.1">0.08</text>
<text x="1271.1" y="761.4">0.11</text>
<text x="1271.1" y="715.7">0.13</text>
<text x="1271.1" y="670.0">0.16</text>
<text x="1271.1" y="624.4">0.18</text>
<text x="1271.1" y="578.7">0.21</text>
</g>
<path d="M1261.8 937.8h7.5M1261.8 892.1h7.5M1261.8 846.4h7.5M1261.8 800.8h7.5M1261.8 755.1h7.5M1261.8 709.4h7.5M1261.8 663.8h7.5M1261.8 618.1h7.5M1261.8 572.4h7.5" stroke="#333" stroke-width="1.3" fill="none"/>
</g>
<g id="pf">
<svg x="1479.5" y="564.5" width="396.8" height="381.0" viewBox="1479.5 564.5 396.8 381.0" overflow="hidden">
<g stroke="none" fill-rule="evenodd">
<rect x="1478.5" y="563.5" width="398.8" height="383.0" fill="#0000ff"/>
<path fill="#0016ff" d="M1488.1 563.5l300.3 0l-0.4 4l0.1 5l2.2 43l2.1 30l0.9 7l1.4 7l10.8 42.6l13 49.4l14 46.9l13 41.1l2 5.2l3 5.9l4 6.8l14.6 23.1l4.4 8l4 8.6l0 49.4l-399 0l0-185.9l2-9.6l1-8.5l5.5-91l2.1-79l-0.2-5zM1608.5 625.4l-1 0.6l-0.7 1.5l0 1l0.5 1l1.2 0.9l1-0.4l0.9-1.5l0-1l-0.9-1.7zM1713.5 738.6l-1 0.4l-1 1l-0.7 1.5l-0.3 2l0.5 2l0.5 1l1 1l2 0.6l1.6-0.6l0.9-1l0.8-2l-0.1-2l-0.8-2l-0.8-1l-1.6-0.9z"/>
<path fill="#002bff" d="M1498.8 563.5l273.1 0l-0.1 5l0.3 5l7.8 79l1.6 10.4l15 83.7l3 12.4l10.2 37.5l13.8 42.2l2.5 6.8l2.6 6l12.1 24l4.2 9l4.3 11l3.8 12l1.7 7l1.1 6l0.9 7l0.2 5l-0.3 4l-1 4l-1.4 3l-2 3l-373.7 0l0-149.7l8.8-41.3l1.7-12l7.1-97l3.4-74l-0.1-5zM1593.5 791.1l-1.6 0.4l-1.4 1l-1.1 2l-0.3 2l0.5 2l0.9 1.3l1 0.8l2 0.5l1.8-0.6l1.2-1l1-2l0.2-1l-0.2-2l-1-1.9l-1.5-1.1zM1608.5 620.3l-2 0.7l-1.4 1.5l-1 2l-0.6 3l0.4 3l0.8 2l1.8 2l2 0.8l2-0.5l2-2.1l1-2.5l0.3-2.7l-0.7-3l-1-2l-1.6-1.6zM1713.5 732.8l-1.9 0.7l-1.1 0.8l-1.7 2.2l-1.3 3.6l-0.2 3.4l0.3 2l0.7 2l2 3l2.2 1.6l3 0.7l1.5-0.3l1.5-0.7l2-2.1l1.3-3.2l0.2-4l-1-4l-1.8-3l-2.7-2.2l-2-0.5z"/>
<path fill="#0041ff" d="M1504.9 563.5l257.6 0l0.5 9l4.8 36l5 47l10.8 83l2.3 14l9.6 38.7l4 13.9l14 40.9l4 10.1l8.8 20.4l3.5 9l4 13l2.5 11l0.8 6l0.2 6l-0.2 5l-0.7 5l-1 4l-1.8 4l-2.5 4l-2.5 3l-350.1 0l0-123.8l11.8-59.2l1.7-9l1.3-10l5.1-62l2.7-36l4.2-73l0-6zM1593.5 788.3l-2 0.4l-1 0.5l-2 1.9l-1.2 2.4l-0.4 3l0.6 3l1.2 2l1.8 1.6l1 0.4l2 0.3l2-0.5l2.3-1.8l1.6-3l0.4-3l-0.7-3l-1.3-2l-2.3-1.8zM1608.5 615.2l-2 0.6l-1 0.8l-2 2.7l-1.6 4.2l-0.5 4l0.4 4l1.7 4.3l2 2.5l1 0.8l2 0.6l2-0.3l1-0.6l2.1-2.3l1.8-4l0.4-2l0.2-3l-0.6-4l-1.9-4.5l-2-2.4l-1-0.8zM1672.5 574.2l-0.4 0.3l0 1l0.4 0.3l0.5-0.3l0-1zM1713.5 727.3l-2 0.6l-2 1.5l-1.6 2.1l-1.2 2l-1.5 5l-0.3 3l0.2 3l0.4 2.1l1.1 2.9l1.2 2l1.7 2.1l2 1.6l2 1l2 0.4l2-0.1l2-0.6l2-1.4l2.3-3l0.8-2l0.7-3l0-5l-1.3-5l-1.5-2.9l-1.5-2.1l-1.5-1.7l-2-1.5l-2-0.8z"/>
<path fill="#0057ff" d="M1509.4 563.5l246.4 0l1.1 10l3.8 24l2.3 17l8.9 82l4 41l1.1 9l1.5 8.6l8.4 36.4l2.9 11l8.7 26.3l19.5 53.7l3.8 13l2.5 12l0.6 6l0 6l-0.7 6l-1.1 5l-1.4 4l-2.2 4l-2.9 4l-3.4 4l-334.7 0l0-102.4l9.1-44.6l6.1-35l2.8-19l6.4-72l6.5-99l0.2-7zM1592.5 785.8l-3 1.2l-2.5 2.5l-1.5 3l-0.6 4l0.7 4l1.9 3.1l1 0.9l2 1.2l3 0.4l3-0.9l2-1.5l1-1.2l1.5-3l0.6-4l-0.2-2l-0.6-2l-1.1-2l-1.2-1.5l-1-0.9l-2-1zM1608.5 605.8l-1 0.4l-1 1.1l-2 3.1l-2 4l-2.3 7.1l-0.7 6l0.7 6l0.9 3l1.4 3.2l1 1.7l2 2.3l2 1.2l1 0.3l2-0.3l2-1.4l1.6-2l1.2-2l1.2-2.7l0.9-3.3l0.7-6l-0.6-5l-2-6.2l-4-7.6l-2-2.5zM1671.5 565.9l-2 0.7l-2 2l-1.2 2.9l-0.4 4l1 4l1.6 2.7l2 1.7l2 0.4l2-0.6l2.2-2.2l1.4-3l0.5-4l-0.6-3l-1.5-3.1l-2-1.8l-1-0.5zM1712.5 721.4l-2 0.9l-2 1.7l-2 2.8l-1.3 2.7l-1.4 4l-0.8 4l-0.3 4l0.3 3l0.6 3l1.1 3l1.8 3.2l2 2.4l2 1.9l3 1.7l3 0.8l2-0.1l2.9-0.9l2.1-1.5l2-2.3l1.3-2.2l1.1-3l0.6-3l0.2-3l-0.3-4l-0.9-3.9l-1.1-3.1l-1.9-3.6l-2.4-3.4l-2.6-2.7l-2-1.4l-3-1.1z"/>
<path fill="#006dff" d="M1513.1 563.5l151.3 0l-1.6 4l-0.6 4l0.1 5l1 5l1.9 5l2.3 4.1l2 2.2l2 1.2l1 0.2l1-0.1l2-1.1l2-2.4l2-3.8l1.7-5.3l0.8-5l0-4l-1-5l-1.5-4l70.6 0l4.9 28l3.7 26l4.7 42l6.8 81l0.9 8l1.4 8l6.5 30l4.7 19l4.8 15.5l9.4 25.5l11.3 34l3.8 14l2.3 12l0.5 6l-0.1 6l-0.8 6l-1.4 5l-2.3 5l-2.6 4l-3.4 4l-4.5 4l-322.2 0l0-68.4l0.2-3.6l-0.2-13.5l9-41.8l3.8-19.7l5.7-36l3.1-24l4.4-46l1.5-19l6.9-101zM1593.5 783.1l-2 0.3l-2 0.8l-3 2.4l-1.4 1.9l-1 2l-0.7 2l-0.4 3l0.1 3l0.4 2l0.8 2l1.2 2l1 1.2l2 1.6l2 0.8l2 0.3l2-0.2l2-0.7l3-2.2l1.4-1.8l1.1-2l0.7-2l0.5-3l-0.1-3l-0.5-2l-0.7-2l-1.4-2.4l-1.4-1.6l-1.6-1.2l-2-0.9zM1608.5 595l-2 0.7l-1 0.9l-1.4 1.9l-1.2 3l-4.3 17l-0.8 5l-0.1 4l0.2 4l0.9 5l1.5 5l1.6 4l1.6 2.9l2 2.4l2 1.3l2 0.3l2-0.7l2-1.8l1.6-2.4l1.4-2.8l1.6-4.2l1.2-5l0.7-5l0.1-4l-0.4-4l-1-5l-4.6-17l-0.9-2l-1.7-2.2l-1.2-0.8zM1712.5 714.9l-3 1.2l-2 1.8l-2 2.9l-2 4.3l-1.6 5.4l-0.9 5l-0.3 5l0.5 5l1 4l1.3 3.2l2.3 3.8l2.7 3.2l3 2.5l3 1.6l3 0.7l3-0.1l3-1l2.6-1.9l2.4-2.9l1.7-3.1l1.3-4l0.6-4l0.1-4l-0.5-4l-1.2-5l-1.9-5l-2.1-4l-3-4.3l-3-3.2l-3-2.1l-3-1z"/>
<path fill="#0082ff" d="M1516.4 563.5l142.9 0l-0.7 6l0.4 8l1.5 8.6l2.6 9.4l2.4 5.5l2.4 3.5l1.6 1.6l2 1.3l1 0.4l2 0.2l1.9-0.5l1.1-0.7l2-2.2l1.4-3.1l1.5-5l1.9-10l1.1-9l0.1-6l-0.5-8l59.2 0l2.3 9l3.1 16l4.1 27l3.8 32l1.4 14l3.4 55l1.1 25l1.1 10l1.4 9l3.2 15l6.7 26l6.7 20.7l9.6 25.3l6 19l5.7 20l1.9 9l1.3 8l0.7 7l-0.1 6l-0.8 6l-1.3 4.3l-2.1 4.7l-2.9 4.3l-3.4 3.7l-5 4l-4.3 3l-309.3 0l0-53.1l3-10.2l1.2-5.7l0.2-4l-0.6-10l0.4-4l8.6-40l4.9-26l6.9-54l3.9-40l1.7-20l2.8-44l4.6-64zM1593.5 780.4l-3 0.5l-2 0.9l-2 1.5l-2 2.2l-1.3 2l-1.3 3l-0.5 2l-0.4 3l0.4 5l1 3l1.1 2l2 2.4l2 1.4l2 0.9l2 0.4l2 0l3-0.9l2-1.2l2-1.7l1.7-2.3l1.3-2.5l0.8-2.5l0.5-3l-0.1-3l-0.6-3l-1.1-3l-1.5-2.5l-2-2.2l-2-1.4l-2-0.8zM1608.5 586.2l-2 1l-2 2.1l-2.4 4.2l-2 5l-1.6 6.9l-1.7 10.1l-0.8 7l-0.2 5l0.3 5l0.9 6l1.7 7l1.8 5.6l2 3.7l2 2.5l2 1.5l2 0.7l1 0l3-1l2-1.7l2-2.7l1.7-3.6l1.6-5l1.5-7l0.8-6l0.2-6l-0.4-6l-1.4-9l-1.7-9l-1.4-5l-1.9-4.5l-3-4.7l-2-1.7zM1712.5 706.8l-3 1.2l-3 2.7l-2.5 3.8l-2 5l-1.7 6l-1.4 8l-0.3 7l0.6 5l1.2 5l1.7 4l3 5l3.4 3.9l3 2.5l4 2.1l4 0.9l4-0.2l3.4-1.2l3-2l2.7-3l2.3-4l1.3-4l0.7-5l0-5l-0.6-5l-1.5-6l-2.5-7l-3.5-7l-3.3-5.2l-3-3.6l-3-2.4l-2-1l-2-0.6z"/>
<path fill="#0098ff" d="M1519.5 563.5l135.3 0l0.3 10l1.3 12l1.5 9l2.1 7l1.3 3l1.9 3l3.4 4l3.9 2.6l2 0.8l3 0.5l2-0.1l2-0.6l3-1.7l2.1-2.5l1.9-4.1l1.3-6.9l1.3-21l1.7-15l46.3 0l2.9 8l2 9l0.7 6l1.1 13l3.7 16l1.4 9l3.2 32l0.5 7l0.1 9l-0.2 7l-0.5 6l-0.9 5l-1 4l-3.9 9l0.5 2l2.8 6l1 3.7l0.5 5.3l-0.4 4l-1.1 2.7l-1 1.1l-1 0.4l-1 0l-1-0.3l-2-2l-2-3.9l-1-3.2l-0.8-4.8l-0.4-8l-0.5-1l-0.9-1l-6.8-4l-4.6-2l-3-0.9l-3-0.5l-3-0.2l-3 0.4l-2 0.5l-4 2.1l-3 2.6l-2.2 3l-2.2 5l-2 7l-1.7 9l-0.9 9l0.2 7l0.8 5l1.2 4l1.1 3l2.1 4l1.9 3l2.7 3.5l3 2.9l3 2.2l5 2.4l5 1l5 0.2l10-0.8l5 0.4l3 0.9l6 2.4l4 2.6l3 3.3l3.1 5l10.6 24l13.1 33l5.6 17l3.7 13l2.4 10l1.7 9l1 9l0.2 8l-0.4 6l-1 5l-1.8 5l-2.2 4l-3.2 4l-4.1 4l-5.2 4l-6.4 4l-297.1 0l0-38.4l2-8.6l4.4-15l1.2-5l0.6-6l0.1-11l0.7-5l12.4-59l1-6l1.6-20.8l4.3-37.2l4-43l3.7-57zM1594.5 777.5l-3 0.2l-2 0.6l-3 1.7l-2 1.8l-2.1 2.7l-1.7 3l-1 3l-0.8 4l-0.1 3l0.4 3l0.8 3l1.5 3.1l2 2.6l2 1.6l2 1.1l3 0.8l3-0.1l2-0.5l3-1.4l2-1.6l2.3-2.6l1.7-2.9l1.1-3.1l0.6-3l0.1-4l-0.4-3l-0.9-3l-1.5-3.3l-2-2.8l-2-1.8l-2-1.2zM1609.5 571.4l-1.1 0.1l-1.6 1l-2.3 3.5l-3 7.3l-3 9.1l-1.8 7.1l-1.2 7.4l-1.2 10.6l-0.4 8l0.3 7l0.9 8l1.5 8l1.8 6l2.1 4.1l3 3.9l3 2.1l3 0.6l3-0.8l3-2.1l3-3.8l2-4.1l1.8-5.9l1.4-7l0.8-7l0.3-8l-0.3-8l-1-11l-1.1-7l-1.5-6l-3.4-10.8l-3-7.5l-2-3.1l-1-0.9z"/>
<path fill="#00aeff" d="M1522.6 563.5l84.5 0l-2.8 2l-2.8 3.8l-2 4.9l-2 7.7l-2.7 12.6l-1.5 10l-1.2 13l-0.2 10l0.5 9l1.1 8.7l1.2 6.3l1.8 6l3 5.9l3 3.8l2 1.7l2 1.1l3 0.6l2-0.4l1.6-0.7l3.4-2.5l3-3.5l3-5.3l2-5.7l1.4-6l1.2-8l0.6-9l0-20l-0.6-6l-1-6l-4.6-19.3l-2-6.8l-1-2.4l-1.5-2.5l-1.5-1.8l-1.7-1.2l36.5 0l2.7 30l1.2 6l1.9 5l2.2 4l2.2 3.2l3 3.4l3 2.6l3 1.9l3 1.4l3 0.8l3 0.3l4-0.5l2-0.7l2-1.2l1.5-1.2l1.7-2l2-4l1-4l0.5-5l-0.1-19l0.4-6l0.7-4l1.3-4.4l2.9-6.6l29 0l1.1 1.6l3.4 6.4l2.1 7l0.5 4l0.1 5l-1.8 11l0 2l0.8 3l5 13l1.2 5l0.8 5l0.5 9l-0.8 15l0.8 13l-0.6 6l-0.8 3l-1.5 3l-1.7 2.2l-2 1.8l-5 2.6l-12 3.8l-6 2.6l-3 2l-3 2.5l-2 2.2l-2 2.8l-1.9 3.5l-1.1 3.1l-2 9.8l-1.1 8.1l-0.8 8l-0.3 7l0.2 5l0.7 4l1.4 5l2.9 7.1l2.2 3.9l2.8 3.8l5 5.1l4 2.9l5 2.4l5 1.6l11 2.8l6.1 2.4l3.7 2l3.2 2.1l3 2.5l2.3 2.4l3.7 5l10.4 17l4.6 9.3l5.4 12.7l3.8 10l3.1 9l3.3 11l2.6 10l1.7 8l1 7l0.5 6l0.1 7l-0.4 7l-0.8 5l-1.4 5l-1.7 4l-2.5 4l-3.4 4l-4.3 3.9l-4.1 3.1l-4.9 3l-6 3l-285 0l0-10.2l1.5-9.8l0.8-10l0.9-7l2.1-9l5.7-20l0.9-6l1.1-13l1-6l8.8-42l4.2-16l0.5-3l0-14l0.5-10l3.8-38l3.6-40l4.3-70zM1594.5 774.3l-3 0.1l-3 1l-3 1.8l-2.5 2.3l-2.3 3l-1.6 3l-1.5 4l-0.9 4l-0.2 4l0.3 3l1 4l1.4 3l2.2 3l2.3 2l2.8 1.6l3 0.7l3 0.1l3-0.7l3-1.5l3-2.3l2.5-2.9l1.7-3l1.2-3l0.8-4l0.2-4l-0.5-4l-1.1-4l-1.8-3.8l-2-2.8l-2.6-2.4l-2.4-1.4z"/>
<path fill="#00c3ff" d="M1525.6 563.5l73.1 0l-2.2 6l-1.5 6l-2.2 13l-1.6 12l-0.9 10l-0.5 11l0.1 8l0.5 9l1.1 9l1 6l1.8 6l2.1 5l3.1 5l3 3.2l3 2l3 0.8l3-0.3l2-0.7l2-1.2l4-3.7l2.9-4.1l2.6-5l1.9-5l1.9-7l1.2-7l0.9-8l1.6-22l0.1-7l-0.7-5l-2.5-10l-2.9-13.5l-2.1-12.5l20.7 0l1.1 4l0.7 5l1.2 25l0.9 4l1.6 4l2.5 4l3.8 5l3.6 4.2l4 3.8l4 2.9l4 2.1l4 1.4l4 0.7l3 0.2l3.6-0.3l2.4-0.5l3-1.2l2-1.3l2-1.9l1.5-2.1l0.9-2l1.1-4l0.2-4l-1.4-21l-0.2-9l0.9-4.3l1.3-2.7l1.7-2.6l2-2.1l3-1.9l2-0.7l3-0.3l2.7 0.6l2.3 1.1l2.4 1.9l2.4 3l2.2 4.5l1.2 5.5l0.2 5l-0.5 14l2 22l-0.4 8l-1.9 13l-1.2 13l-1.6 5l-2.4 4l-3.8 4l-8.6 7.5l-4 4.3l-4 6l-3 6.5l-1.2 3.7l-0.7 3l-1.5 15l-0.8 14l0.2 10l1.7 8l2.3 6.6l3.3 6.4l4.2 6l4.5 4.6l5 3.8l6 3.2l12 5.1l5 2.5l6 3.9l5 4.5l5 6.1l7 9.7l3.6 5.6l5.7 11l5.1 12l6.6 19l4.2 16l1.3 7l0.9 7l0.3 6l-0.1 6l-0.7 7l-0.9 5l-1.5 5l-1.8 4l-2.6 4l-3.4 4l-3.7 3.4l-5 3.6l-8 4.4l-8.9 3.6l-268.5 0l-0.2-4l0.1-5l1.3-10l0.8-11l1-7l2.1-9l6-21l3.8-22l4.3-19l4.9-24l3.9-15l0.8-4l0.1-4l-0.4-14l0.4-11l5.9-71l5.1-85l2.4-35zM1594.5 770.8l-3 0.1l-4 1.3l-3 1.9l-3 2.9l-2.6 3.5l-2.2 4l-1.4 4l-1 5l-0.2 5l0.5 4l1.3 4l1.6 3l2.3 3l2.7 2.2l3 1.5l3 0.8l3 0l4-0.8l3-1.4l3.1-2.3l2.9-3.2l2.4-3.8l1.5-4l0.9-4l0.2-4.3l-0.5-4.7l-1.4-5l-1.8-4l-2.3-3.4l-3-2.9l-3-1.7z"/>
<path fill="#00d9ff" d="M1528.8 563.5l64.7 0l-1.4 7l-1.3 9l-1.7 15l-0.9 11l-0.6 19l0.8 17l1 8l1 6l1.3 5l1.8 4.8l2.6 5.2l2.4 3.7l3 3.2l3 2l2 0.8l3 0.4l3-0.6l3-1.4l2.8-2.1l2.2-2.2l2.2-2.8l2.5-4l3.8-8l2.7-9l2.2-10l2.4-16l1.2-5.4l2-4.7l1-1.4l2-1.2l1-0.1l2 0.4l4 2.6l3 2.8l9 9.8l4 3.4l5 3.4l5 2.5l5 1.7l16 3.4l4 1.2l3 1.7l1.1 0.9l1.6 2l0.9 2l0.5 3l-0.1 3l-0.6 3l-2.2 6l-5.2 10.3l-3 7l-3 9.7l-2 9l-0.4 5l-1 24l0.1 10l0.7 6l1.7 7l2.7 7l3.2 6.2l4 5.8l4 4.4l5 4.2l6 3.9l12 6.4l5 3.1l5.4 4l5.3 5l8.1 10l6 9l6 11l4.7 11l6.7 20l3.5 14l1.2 7l0.6 6l0.1 6l-0.3 6l-0.8 6l-1.2 5l-1.7 5l-2.1 4l-2.9 4l-3.6 3.9l-3.7 3.1l-4.3 2.9l-5 2.8l-5 2.3l-7 2.6l-7.5 2.4l-250.8 0l-0.6-5l0.1-6l1.6-18l1.2-8l2.1-9l5.9-20l4.5-19l5.3-20l5.2-26l3-13.7l0.8-5.3l0.3-6l-0.2-16l0.5-12l4.7-71l4.6-85l2.3-32.6zM1594.5 766.7l-3 0.1l-4 1.3l-4 2.6l-3 2.8l-3.1 4l-2.7 5l-1.9 5l-1.1 5l-0.4 5l0.5 5l1.1 4l1.9 4l2.7 3.4l3 2.6l3 1.6l4 1l4 0l4-1l4-2l3-2.3l3-3.3l2.5-4l1.7-4l1.1-5l0.3-5l-0.7-6l-1.3-5l-2.3-5l-2.3-3.6l-3-3.1l-3-1.9l-2-0.8zM1636.5 566.3l1 0.2l1 0.6l1 1.1l0.6 1.3l0.4 2l0 3l-1 4.4l-1 2.3l-1 0.5l-1-1l-2-3.8l-1-3.3l-0.2-2.1l0.1-2l0.9-2l1.2-1zM1711.5 588.7l1 0.2l1 0.7l1 1.3l1.2 2.6l0.7 4l-0.2 3l-0.7 2.1l-1 1.3l-1 0.6l-1 0.2l-1-0.2l-1-0.6l-1-1.1l-1-2.3l-0.5-3l0.1-3l0.7-3l1.2-2l0.5-0.5z"/>
<path fill="#00efff" d="M1532.2 563.5l56.6 0l-2.5 32l-1 20l0.2 17l1.4 17l1.1 7l1.2 5l1.6 5l2 5l2.1 4l2.6 3.8l3 3.3l3 2.3l2 0.9l3 0.7l3-0.3l2-0.7l3-1.6l2-1.6l3-3l2.2-2.8l4.5-7l3.7-8l2.2-6l6.4-20.2l2-5.2l2-3.2l1-0.8l1-0.4l2 0.2l2 1.2l11 9.8l5 4l6 4l12 6.2l2.9 2.4l1.6 2l1.7 4l0.5 3l0 3l-3 37l-0.4 20l0 11l0.5 8l0.8 5l1.4 6l2 6l2.8 6l2.9 5l3.3 4.6l4 4.5l4 3.6l4 3.1l16 10.2l6.7 5l7.3 7l7.2 9l7.1 11l3.3 6l2.8 6l2.4 6l4.4 13l3.8 13l2.1 11l0.8 10l-0.6 10l-0.8 5l-1 4l-1.5 4l-1.4 3l-1.9 3l-2.3 3l-5 5l-7.1 5l-5.3 2.8l-7 2.9l-8 2.9l-10.8 3.4l-234.2 0l-1.1-6l-0.1-7l1-14l1.4-9l3.3-13l9.8-33l5.7-17l1.9-7l3-14l4.5-27l0.5-7l0.3-23l1.6-39l5-108l3.1-47l0.8-7zM1594.5 761.8l-4 0.3l-4 1.6l-4 2.9l-4 4l-3.5 4.9l-2.7 5l-2.2 6l-1.4 6l-0.4 5l0.3 5l1.3 5l2 4l2.2 3l3.4 3.2l4 2.3l4 1.2l4 0.2l5-1l4-1.7l4-2.8l4-4.2l2.6-4.2l2.1-5l1.2-5l0.4-6l-0.7-6l-1.5-6l-2.1-5.2l-3-5.1l-3-3.4l-4-2.8l-2-0.8z"/>
<path fill="#00fffa" d="M1536.1 563.5l47.8 0l0.2 9l-1.2 35l-0.1 16l0.6 15l1.6 16l1 6l1.3 5l1.9 6l2.3 5.5l2.3 4.5l2.7 4.4l3 3.8l3 2.8l2 1.2l2 0.7l2 0.1l2-0.3l2-0.8l3-1.8l3-2.4l3-3.1l5-6.4l4.4-7.2l4-8l5.6-12.9l2-3.7l2-2.8l3-2.3l2-0.5l2 0.3l4 2l19.9 14.9l2.1 2l2 2.7l1.9 4.3l1.7 6l1 5l0.9 7l0.3 7l-0.1 32l0.4 8l0.8 9l0.8 5l1.4 6l3.3 9l2.4 5l3.2 5.3l3 4.1l4 4.4l7 6.3l15.4 10.9l6.6 5.2l7.8 7.8l6.2 7.7l6.7 10.3l5.8 11l5.9 16l3.4 11l2.6 12l0.9 10l0 5l-0.3 5l-1.5 8l-2.6 7l-1.9 3.4l-2.6 3.6l-2.4 2.7l-3 2.7l-7 5.1l-6 3.1l-7.9 3.4l-22.8 8l-219.2 0l-1.1-3l-0.7-4l-0.6-9l0.6-11l1.7-10.5l3-11.5l7-22l4.5-13l6.3-16l2.5-8l2.2-8l1.7-8l2.2-15l1-16l0.9-63l0.8-34l2.9-69l1.1-21l2.1-28l0.8-7zM1594.5 754.9l-2-0.1l-2 0.5l-4 2l-5 4.1l-5 5.6l-4 5.9l-3.4 6.6l-2.9 8l-1.3 6l-0.5 5l0.4 5l1.4 5l2 4l3.2 4l4.1 3.4l4 2.1l5 1.4l5 0l5-1.1l5-2.3l4-2.9l4-4.3l2.8-4.3l2.5-6l1.3-6l0.4-6l-0.7-7l-1.8-7l-2.5-6.3l-3-5.3l-4-5l-4-3.3l-2-1.1z"/>
<path fill="#00ffe4" d="M1541.1 563.5l37.1 0l1.3 7l0.5 8l-0.1 42l0.3 11l1.1 15l1.5 13l2.2 10l3.5 10.8l10 25.2l1.5 3l1.5 1.8l2 1.2l2 0l2-1l1-0.9l17-20.7l6.4-9.4l10.6-17.6l3-3.5l2-1.4l3-0.9l3 0.3l4 1.5l4 2.3l5 3.4l4 3.4l3.1 3.5l2.9 4.5l1.7 3.5l1.5 4l1 4l0.9 5l0.4 7l0.6 28l0.7 9l1.1 9l2.5 11l3.8 10l2.6 5l3.1 5l3.1 4.2l4 4.5l7 6.3l14.2 11l6.8 5.8l7 7.2l6 7.5l6.3 9.5l5.4 10l5 13l4.2 13l2.2 11l0.6 5l0.3 6l-0.1 5l-0.5 5l-0.8 4l-1.1 4l-1.5 3.8l-1.7 3.2l-1.9 3l-2.5 3l-2.9 3l-3.6 3l-7.4 4.7l-7 3.5l-8 3.4l-14 5.1l-9.9 3.3l-203.8 0l-1.4-4l-2-8l-0.7-4l-0.3-4l0.4-9l2.1-12l4-14l6.2-18l4-10l7.4-17l8.6-22l2.2-7l1-6l0.3-10l-1.5-24l-0.4-12l0.2-20l-0.4-41l0.4-25l2.2-56l1.4-24.5l2.3-24.5l1.3-6zM1593.5 742.3l-1 0l-2 0.6l-2 1.2l-2 1.9l-7 8.9l-7 10.1l-4.9 8.5l-4.3 9l-2.9 8l-1.6 7l-0.2 5l0.6 4l1.5 4l2.6 4l4.1 4l4.3 3l5.8 2.7l5 1.2l5 0.2l6-1.1l6-2.6l5-3.6l4.4-4.8l3.1-5l2.5-6l1.5-7l0.3-6l-0.6-7l-1.8-8l-2.4-6.8l-4-8.1l-8-12.7l-3-3.3l-1-0.7z"/>
<path fill="#00ffce" d="M1570.5 563.5l1.7 3l1.3 3.3l1 3.9l0.7 4.8l1.2 18l0.6 34l1.8 23l1 8l1.3 7l5.7 23l1.3 7l1.1 11l0.1 6l-0.3 5l-1 5l-1.7 4l-7.8 13.3l-14 26l-4 6.9l-4 5.9l-3 3.5l-3 2.3l-2 0.7l-1 0l-2-0.8l-1.9-1.8l-1.1-1.6l-1.6-3.4l-1.3-4l-0.8-4l-1.1-10l-0.2-22l-1.6-38l-0.1-20l1.1-36l1.2-27l0.9-14l1.1-13l1.4-11.6l1.5-7.4l1-3l1.5-3l2.8-4zM1662.5 670.3l5 3.6l4 4.2l3.5 5.4l2.4 6l0.6 3l0.5 4.7l0.7 19.3l0.6 10l2 17l1.4 7l1.9 7l2.6 7l2.8 6l5 8.2l6.5 7.8l6.5 6.1l18 15.2l5.7 5.7l5.3 6l5.3 7l5.3 8l3.9 7l3.2 7l3.7 10l2.7 9l1.7 8l0.9 8l0.1 8l-0.8 7l-1.7 7l-2.7 6l-3.3 5l-4.6 5l-5.7 4.5l-7 4.3l-8.4 4.2l-10.6 4.4l-11 3.9l-12.3 3.7l-188.3 0l-1.5-4l-3.3-11l-1.2-6l-0.3-4l0.2-4l1.5-10l1.7-7l2.3-8l6.4-18l6.1-14l10.7-21.6l4.7-7.4l4.3-5.1l5-3.9l3-1.7l2-0.8l3-0.5l4 0.5l4 1.2l10.9 4.3l4.1 1.2l6 1l5 0.1l4-0.6l3-0.8l6-2.7l3-1.9l2.9-2.3l4.6-5l3.8-6l2.7-7l1-4l0.5-4l0.1-8l-0.8-7l-1.9-8l-2.3-7l-5.3-13l-2.7-9l-1-7l0.2-3l0.8-3l2-4l6.4-8.8l9.7-15.2l16.3-23.1l5-5.9l2-1.7l2-1.3l2-0.7l2-0.4l2 0.1l3 0.6z"/>
<path fill="#00ffb8" d="M1559.5 568.3l2 0.4l2 1.1l1.9 1.7l1.1 1.5l1.3 2.5l1.1 3l1.6 7.4l1.8 16.6l0.9 27l2.3 26l1.4 12l3.9 24l0.7 7l0 6l-0.6 7l-1.1 6l-1.8 6l-2.9 7l-8.9 18l-5.7 12.7l-2 3.8l-3 3.7l-2 1.3l-2 0.4l-2-0.6l-2-2l-1.3-3.3l-0.7-4l-0.5-19l-3.4-31l-0.9-13l-0.3-22l0.6-26l2.5-43l1.6-13l1.7-10l1.8-6l1.5-3l1.4-2.1l2-2l2-1.3l2-0.7zM1662.5 679l4 2.7l3 3l3 4.3l1.4 3.5l0.7 5l1.9 27l2.7 19l1.7 8l1.9 7l2.6 7l3.3 7l4.8 7.9l6 7.3l6 6l18.6 16.8l5.8 6l5.1 6l6.1 8l4.6 7l3.8 7l3.1 7l3.3 9l2.3 8l1.5 8l0.6 7l0 7l-0.9 7l-1.6 6l-2.7 6l-4.1 6l-4.9 5l-6.5 5l-7.1 4.3l-9 4.5l-9 3.6l-9 3.1l-18.2 5.5l-173.6 0l-2-4l-1.5-4l-2.3-7l-1.3-5l-0.5-4l-0.1-4l0.8-9l1.2-6l1.9-7l5.4-16l6.2-14.6l8-15.4l5-8.2l4-5l5-4.4l5-2.7l5-1.8l5-0.7l5 0.3l11 1.7l5 0.4l6-0.1l5-0.9l6-2.1l6-3.3l5-4l3.8-4.2l3.8-6l2.9-7l1.7-7l0.6-7l-0.3-7l-1.1-8l-1.7-7l-4.5-15l-1.6-8l-0.2-4l0.2-4l0.8-4l1-3l4.1-8l10.3-17l9.2-12.7l4-5l3-3.2l3-2.6l2-1.3l4-1.5l2-0.2l3 0.2l2 0.6z"/>
<path fill="#00ffa3" d="M1558.5 587.7l1 0.2l1 0.7l1 1.1l1.5 2.8l2.1 6l1.5 7l0.7 6l0.8 17l2.5 21l3.3 36l0.5 10l-0.2 5l-0.7 5.6l-1.1 4.4l-1.9 5.2l-3 5.9l-3 4.5l-3 3.2l-2 0.9l-2-0.3l-1-0.7l-2-2.5l-3-6.6l-2.9-9.6l-1.1-6l-1-8l-0.9-25l0.1-13l0.4-11l3.6-40l1.8-8.7l2-5.8l2-3.5l1-1l1-0.6zM1662.5 687.8l2.4 1.7l2 2l1.6 2.7l0.8 2.3l1.1 6l2.8 24l3.8 20l1.9 8l1.8 6l2.7 7l2.8 6l4.8 8l6.5 8l6 6.2l17.8 16.8l5.6 6l5.8 7l6.1 8l4.5 7l3.3 6l3.5 8l2.9 8l1.8 7l1.2 7l0.5 7l-0.3 7l-0.9 6l-1.7 6l-2.3 5l-4 6l-4.8 5.1l-7.5 5.9l-8.2 5l-8.1 4l-7.2 2.9l-10 3.3l-15 4.4l-6.4 2.4l-160.8 0l-2.4-4l-1.9-4l-1.9-5l-1.5-5l-0.9-4l-0.4-4l-0.1-4l0.4-5l0.9-6l1.4-6l4-13l5.2-13l6.4-12.8l5.4-9.2l4.6-6.4l5-5.1l5-3.4l5-2.2l6-1.3l5-0.4l16 0l6-0.7l5-1.2l6-2.3l6-3.4l5-4.1l4.1-4.5l3.9-6l2.8-6l2-7l1.1-8l0.1-7l-0.8-8l-1.3-7l-3.5-15l-1-7l-0.1-4l0.3-4l0.8-4l1.3-4l1.7-4l2.7-5l6.9-11.3l7-9.6l4-4.7l3-3l5-3.8l3-1.4l2-0.5l2-0.2l3 0.3z"/>
<path fill="#00ff8d" d="M1558.5 640l1 0.3l2 2.5l1 2.1l1.1 3.6l0.6 4l1 19l-0.2 7l-1.5 17.2l-1 3.9l-1 1.5l-1 0.5l-1-0.4l-1-1.1l-1-2.3l-0.6-2.3l-3-18l-0.7-8l-0.1-14l0.7-7l0.7-3l1-2.6l1-1.7l1-1zM1659.5 697.2l1.6 1.3l1.4 1.8l2 4.3l1.8 6.9l4.5 22l5.4 22l3.3 10l2.6 6l2.6 5l4.4 7l5.6 7l5.8 6.1l17.3 16.9l5.5 6l5.8 7l6.4 8.4l4.5 6.6l3.3 6l3.2 7l2.6 7l1.8 6l1.3 7l0.5 7l-0.2 7l-0.9 6l-1.6 6l-2.2 5l-3.9 6l-5.6 6l-7.5 6l-8 5l-6.3 3.2l-6 2.5l-11 3.7l-16 4.7l-4.9 1.9l-4 2l-149.5 0l-2.6-3.4l-2.2-3.6l-1.9-4l-1.9-5l-1-4l-0.7-4l-0.4-4l0.1-5l0.5-5l1.1-6l3.3-12l4.5-12l5.6-11.5l5-8.5l5.6-8l4.6-5l4.8-3.7l5-2.4l5-1.5l6-1l17-1.9l6-1.3l5-1.5l6-2.8l6-3.7l5-4.2l3.6-4l4-6l2.9-6l2.2-7l1.4-8l0.4-7l-0.5-9l-1.1-8l-2.5-13l-0.7-7l0.1-4l0.5-4l0.8-4l1.4-4l3.5-7.4l5-8l6-7.9l5-5.2l5-3.8l4-1.8l2-0.4l2 0l2 0.3z"/>
<path fill="#00ff77" d="M1654.5 708l2 1.3l2 2.3l1.7 2.9l1.3 3.1l5 15.6l7.7 27.3l4.6 11l4.3 8l4.7 7l5 6l5.7 6l15.9 16l9.7 11l7 9l4.9 7l3 5l2.9 6l3 7l2.2 7l1.2 6l0.8 7l-0.2 7l-0.8 6l-1.6 6l-2.1 5l-3.9 6.2l-5.1 5.8l-7 6l-8.9 5.8l-6 3.1l-8.1 3.1l-25.9 8.1l-9.9 4.9l-138.6 0l-2.7-3l-2.8-3.8l-2-3.3l-1.8-3.9l-1.4-4l-1-4l-0.6-4l-0.2-5l0.1-4l0.7-5l2.4-11l3.8-11l5-11.2l5-8.8l5.6-8l5.4-6.2l4.5-3.8l4.5-2.4l5-1.9l6-1.5l18-3.6l6-1.7l5-1.9l7-3.6l5-3.3l5-4.4l4-4.7l3.9-6l3.2-7l2.2-7l1.3-8l0.5-7l-0.1-9l-0.7-7l-1.9-13l-0.3-6l0.6-7l1.8-7l2.5-5.5l3-5.1l4-5.4l5-5.3l4-3l3-1.4l3-0.4z"/>
<path fill="#00ff62" d="M1652.5 720.3l2 1.5l2 2.3l3.6 6.4l3.5 9l4.7 16l2.1 6l4.7 10l5.7 10l4.2 6l5.5 6.5l21.6 22.5l8.8 10l10.6 14l3.2 5l2.8 5.2l3 6.8l2.5 7l1.5 6l0.9 7l0 7l-0.8 6l-1.4 6l-2.5 6l-3.7 6l-5.2 6l-6.9 6l-7.5 5l-5.9 3.1l-9 3.6l-25 7.9l-13 6.4l-127.4 0l-3.1-3l-2.7-3l-2.2-3l-2.4-4l-1.7-4l-1.3-4l-0.8-4l-0.4-4l0-4l0.3-5l2-10l3.1-10l4.8-11l4.8-8.4l5.3-7.6l5.7-6.5l5-4.3l4-2.4l5-2.1l7-2.3l18-5.2l6-2.1l5-2.3l6-3.2l5.2-3.6l4.8-4.2l4.1-4.8l3.9-6l3.3-7l2.2-7l1.6-8l1-9l0.4-10l-0.3-7l-1.1-12l-0.1-5l0.6-5l1.4-5.6l1.9-4.4l2.1-3.5l3-3.8l3-2.8l3-2l3-1l3 0.1z"/>
<path fill="#00ff4c" d="M1650.5 731.4l3 2.2l3 4.3l2.3 5.6l3.1 12l2 5l2.9 5l12.3 19l3.8 5l5.1 6l21 22l9.5 10.8l9.3 12.2l3.2 5l2.8 5l3.2 7l2.5 7l1.4 6l0.9 7l-0.1 7l-0.8 6l-1.6 6l-2.1 5l-2.3 4l-2.1 3l-5.4 6l-5.9 5.1l-7.4 4.9l-5.9 3l-8.7 3.5l-23.4 7.5l-13.6 6.4l-4 1.6l-114.6 0l-3.4-2.5l-3-2.7l-3-3.4l-2.5-3.4l-1.7-3l-1.7-4l-1.2-4l-0.7-4l-0.3-4l0.1-5l1.4-9l2.9-10l4.3-10l4.4-8l5.6-8l5.4-6.1l5.8-4.9l4.8-3l5.4-2.5l25-9.2l5-2.1l6-3l6-3.5l4.9-3.7l4.3-4l3.4-4l3.8-6l2.9-6l2.4-7l1.7-7l1.9-11l2.1-15l0.3-6l-0.4-13l0.4-4l1-4l2.3-4.6l2-2.4l1.3-1l1.7-1l2-0.6l2-0.1z"/>
<path fill="#00ff36" d="M1660.5 768.5l3 2.2l4 4l14.8 18.8l24.5 26l8 9l4.9 6l4.5 6l3.2 5l2.8 5l3.7 8l2.4 7l1.5 7l0.5 6l-0.3 7l-1.3 7l-2 6l-3.2 6l-4.5 6l-4.9 5l-6.4 5l-6.2 3.7l-5 2.4l-6.9 2.9l-22.1 7.1l-6 2.4l-10 4.7l-4 1.1l-10.1 1.7l-93.7 0l-4.2-2.3l-3.8-2.7l-3.2-2.9l-2.8-3.1l-2.2-3.1l-2.1-3.9l-1.6-4l-1-4l-0.5-4l-0.1-4l0.4-5l0.8-5l1.3-5l1.8-5.3l2.4-5.7l2.6-5.1l3-5.1l4-5.8l5-5.9l5-4.7l5-3.8l4.4-2.6l6-3l21.6-8.9l8-3.8l9.3-5.3l6.7-5l4-4l3.1-4l2.6-4l2.5-5l1.9-5l1.6-5l5.3-21.2l2-5.3l3-5.1l3-2.7l1-0.4l2-0.3l7 1.1z"/>
<path fill="#00ff21" d="M1662.5 777l5 4.3l11.4 13.2l23.9 25l8.7 9.6l9.1 11.4l3.4 5l3.3 6l3.5 8l2.3 7l1.3 7l0.4 7l-0.6 7l-1.4 6l-2.4 6l-3.4 6l-4 5l-5.1 5l-5.4 4.1l-6.7 3.9l-11.3 5l-21.8 7l-14.2 5.8l-3 0.9l-23.5 4.3l-70.5 0l-7-2.8l-6-3.5l-3-2.3l-3-2.9l-2.8-3.5l-1.9-3l-1.4-3l-1.3-4l-0.8-4l-0.3-4l0.1-4l0.7-5l2.4-9l2-5l2.4-5l5.4-9l4.5-5.9l4.8-5.1l4.5-4l5.6-4l5-3l5.7-3l19.4-8.7l10-5l7.5-4.3l5.5-4.1l3.2-2.9l3.5-4l2.8-4l2.8-5l3.5-9l5.2-18l2-4.6l2-3.1l2-2.1l1.9-1.2l2.1-0.9l2-0.3l2-0.1l3 0.5l3 1.1z"/>
<path fill="#00ff0b" d="M1723.3 850.5l2.9 6l2.6 7l1.3 5l1 6l0.2 5l-0.4 6l-0.9 5l-1.5 5l-2.3 5l-2.7 4.5l-3.5 4.5l-4 4l-5.1 4l-4.6 3l-5.7 3l-6.6 3l-6.5 2.3l-18.1 5.7l-12.9 4.6l-37.6 7.4l-44.6 0l-7.8-2.1l-6-2l-5-2.3l-4-2.4l-4-3.2l-2.9-3l-2.8-4l-2-4l-1.4-5l-0.6-5l0.3-6l1.1-6l1.9-6l3-7l4-7l4.4-6.3l4-4.7l5-4.9l5-4l5-3.5l9.9-5.6l20.9-10l10.2-5.2l6.1-3.8l6.1-5l2.9-3l3.3-4l4.2-7l3.3-8l4.9-15l2.2-4.8l1.6-2.2l1.4-1.4l3-1.8l3-0.6l2 0.1l2 0.5l4 2.1l4 3.3l31 31.5l9.6 10.3l10 12l3.4 5z"/>
<path fill="#0bff00" d="M1719.9 850.5l2.9 6l2.3 6l1.4 5l1 6l0.4 5l-0.3 6l-0.9 5l-1.5 5l-2.2 5l-2.3 4l-3.2 4.3l-3.5 3.7l-4.8 4l-4.4 3l-6.3 3.5l-6 2.8l-9 3.3l-25 7.7l-8 2l-19 4l-21 3.7l-9.5 1l-8.5 0l-8-0.9l-8-1.8l-9-2.5l-8-3.2l-5-2.9l-4.6-3.7l-3.4-4l-2.8-5l-1.5-5l-0.6-5l0.3-6l1.3-6l2-6l3.3-7l3.6-6l4.4-5.9l4-4.4l4.9-4.7l5-4l5.8-4l11.3-6.4l27.7-13.6l5.3-3.2l6-4.8l5.8-6l4.4-6l4.3-8l7-17l2.5-3.5l1.8-1.5l1.2-0.6l2-0.3l2 0.2l4 1.9l4 3l16 13.9l16 15.8l9.3 10.1l8.2 10l2.7 4z"/>
<path fill="#21ff00" d="M1718.1 853.5l2.4 5.6l1.9 5.4l1.2 5l0.8 6l0.1 5l-0.5 5l-1.1 5l-1.7 5l-2.4 5l-2.6 4l-3.3 4l-3.2 3l-5 4l-4.7 3l-5.5 3l-6 2.6l-10 3.5l-21 6.1l-18 4.2l-11 2.2l-17 2.8l-8 0.9l-7 0.2l-8-0.6l-7-1.3l-10-2.8l-8-3.1l-5-2.7l-5.1-4l-3.5-4l-2.7-5l-1.4-5l-0.4-5l0.3-5l1.4-6l2.2-6l2.9-6l3.8-6l4.6-6l3.8-4l4.3-4l5-4l5.8-4.1l11-6.3l27-13.3l4-2.4l5.2-3.9l5.5-5l4.5-5l5.2-7l8.6-13.8l2.7-3.2l2.3-1.5l2-0.5l2 0.1l2 0.6l3 1.3l10 6.2l8 6.4l13 12.4l10.9 12l7.1 9z"/>
<path fill="#36ff00" d="M1715.6 855.5l2.5 6l1.5 5l1 5l0.5 5l-0.1 5l-0.6 5l-1.3 5l-1.9 5l-2.2 4l-2.8 4l-3.5 4l-3.3 3l-4.9 3.7l-5.3 3.3l-4.7 2.4l-6 2.5l-9.3 3.1l-18.7 5.3l-21 4.8l-11 2l-14 2l-7 0.7l-7 0l-7-0.6l-8-1.5l-8.9-2.7l-7-3l-5.1-3l-4-3.3l-3.2-3.7l-2.6-5l-1.3-5l-0.3-5l0.6-5l1.5-6l2.5-6l3.2-6l4.2-6l5.2-6l4.1-4l4.1-3.4l4.8-3.6l5.2-3.4l11-6.1l22-10.8l7.7-4.7l5-4l5.4-5l15.9-17.3l3-2.5l3-1.6l2-0.6l3-0.2l3 0.5l3 1l3 1.3l4 2.2l7 5.2l5 4.4l5.8 5.6l11.2 12.2l6.7 8.8z"/>
<path fill="#4cff00" d="M1712.7 856.5l2.1 5l1.5 5l1 5l0.4 5l-0.1 5l-0.7 5l-1.4 5l-1.6 4l-2.1 4l-2.8 4l-3.5 3.9l-3.3 3.1l-4.7 3.5l-5 3.2l-4.5 2.3l-5.5 2.3l-9 3.1l-16 4.5l-11 2.7l-12 2.6l-10 1.8l-12 1.6l-8 0.6l-7 0.1l-7-0.6l-8-1.6l-7-2.2l-6.7-2.9l-5-3l-4.3-3.6l-3-3.7l-2.3-4.7l-1.2-5l-0.1-5l0.7-5l1.7-6l2.8-6l3.6-6l4.6-6l4.7-5l8.3-7l10.2-6.8l11-6l18-8.7l6.1-3.5l9-7l15.9-14.5l4-2.9l5-2.3l3-0.8l2-0.3l3 0.1l3 0.7l3 1.1l3 1.4l7 4.8l9 8.2l10.6 11.5l6.1 8z"/>
<path fill="#62ff00" d="M1709.7 857.5l1.8 4.3l1.4 4.7l1 5l0.5 5l-0.2 5l-0.6 4l-1.3 5l-1.6 4l-2.2 4l-2.8 4l-3.2 3.6l-3.6 3.4l-3.9 3l-4.6 3l-4.9 2.6l-5.6 2.4l-9 3l-14.4 4.1l-11 2.7l-11 2.4l-10 1.7l-11 1.3l-8 0.5l-7 0l-7-0.6l-7-1.4l-7-2.2l-5.7-2.5l-4.9-3l-3.6-3l-3.3-4l-2-4l-1.1-4l-0.4-5l0.5-5l1.7-6l2.2-5l3.5-6l4.6-6l4.7-5l8.2-7l9.6-6.5l9-5l19-9.2l6-3.4l6.7-4.9l16.3-13.2l4-2.7l4-1.9l6-1.6l3-0.2l3 0.3l3 0.7l3 1.2l6 3.6l4 3.2l4 3.6l10.4 11l6.2 8l2.5 4z"/>
<path fill="#77ff00" d="M1707.1 859.5l1.5 4l1.4 5l0.8 5l0.1 4l-0.3 5l-0.7 4l-1.3 4l-1.7 4l-2.3 4l-3 4l-3.1 3.3l-4.1 3.7l-4.1 3l-3.8 2.3l-5 2.5l-5 2.1l-9 2.9l-14 4l-20 4.5l-10 1.6l-9 1l-8 0.4l-7-0.1l-7-0.7l-6-1.2l-6-1.8l-5.7-2.5l-4.8-3l-3.5-3l-3.2-4l-1.9-4l-1-4l-0.3-5l0.8-5l1.5-5l2.9-6l3.2-5l4-5l4.8-5l7.1-6l8.1-5.6l10-5.7l22-10.7l6.1-4l16.9-12.6l5-3l4-1.7l6-1.4l3-0.2l3 0.3l5.4 1.6l5.6 3.1l4 3.1l4 3.6l9.7 10.2l6 8z"/>
<path fill="#8dff00" d="M1703.8 860.5l1.6 4l1.1 4l0.8 5l0.1 4l-0.2 4l-0.7 4l-1.2 4l-1.7 4l-2.4 4l-3 4l-2.7 3l-4 3.7l-3 2.3l-4 2.5l-4.7 2.5l-4.8 2l-8.5 2.9l-12 3.5l-19 4.5l-9 1.5l-8 0.9l-9 0.6l-7-0.1l-7-0.6l-6-1.1l-6-1.7l-5-2.1l-4-2.3l-4-3.2l-3.2-3.8l-2.1-4l-1.1-4l-0.3-4l0.6-5l1.5-5l2.3-5l3.1-5l4.2-5.4l4.5-4.6l8.5-7.1l9-5.9l8-4.4l20-9.7l4.7-2.9l14.3-10l5-2.9l5-2.2l6-1.5l6-0.1l3 0.4l3 0.9l5 2.4l4 2.8l4 3.4l8.9 8.8l5.5 7z"/>
<path fill="#a3ff00" d="M1700.8 862.5l1.5 4l0.9 4l0.6 4l0 4l-0.4 4l-0.9 4l-1.4 4l-1.5 3l-2.4 4l-2.7 3.5l-3.3 3.5l-3.4 3l-3.3 2.4l-4.4 2.6l-4.1 2l-5 2l-18.5 5.8l-18 4.2l-8 1.3l-7 0.8l-8 0.4l-7-0.1l-7-0.7l-6-1.1l-5.6-1.6l-4.8-2l-4.6-2.9l-3.4-3.1l-2.6-3.4l-1.7-3.6l-1-4l-0.1-4l0.5-4l1.6-5l2.5-5l3.2-4.9l4-4.8l4-4l8-6.5l10-6.5l7-3.7l17.9-8.6l17.1-10.7l4-2.2l4-1.6l6-1.4l3-0.2l3 0.2l4 0.8l5 1.5l4 1.5l3 1.6l3 1.9l4 3.1l6 5.8l5 6.5z"/>
<path fill="#b8ff00" d="M1697.2 863.5l1.3 3.5l0.9 3.5l0.6 4l0.1 4l-0.5 4l-0.9 4l-1.5 4l-1.5 3l-2.6 4l-2.4 3l-2.8 3l-3.4 2.9l-3 2.2l-4 2.3l-9 4l-17.7 5.6l-16.3 3.8l-14 2l-7 0.3l-7-0.1l-6-0.6l-6-1.1l-5-1.4l-5-2l-4-2.4l-3-2.5l-2.5-3l-2.1-4l-1.1-4l-0.1-4l0.6-4l1.2-4l2-4.2l3.1-4.8l3.2-4l4.7-4.7l7.7-6.3l9.3-6.1l7.3-3.9l16.7-8l14-8l6-2.9l6-1.6l5-0.1l4 0.8l6 2.2l7 1.3l4 1.5l5 3.1l5.3 4.7l4 5z"/>
<path fill="#ceff00" d="M1693.8 865.5l1.1 3l0.9 4l0.4 4l-0.2 4l-0.5 3.2l-1.1 3.8l-1.7 4l-1.7 3l-4.6 6l-2.9 2.8l-3 2.4l-7 4.2l-10 4.1l-15 4.8l-8 2l-8 1.6l-13 1.6l-6 0.2l-6-0.2l-6-0.7l-6-1.3l-4.6-1.5l-4.3-2l-3.1-2l-3.2-3l-2.2-3l-1.4-3l-0.7-3l-0.2-4l0.6-4l1.4-4l2-4l2.7-4l3.4-4l4.1-4l4.5-3.8l4.4-3.2l9.6-6l20.6-10l11.4-6l6-2.6l6-1.4l5 0.1l16 3.9l4 1.3l5 2.7l4.6 4l4 5z"/>
<path fill="#e4ff00" d="M1689.7 866.5l1.1 3l1 4l0.3 3l-0.1 4l-0.5 3.2l-1.2 3.8l-1.8 4l-1.8 3l-4.2 5.3l-2.9 2.7l-2.6 2l-7.1 4l-9.4 3.9l-14 4.5l-14 3.2l-12 1.4l-6 0.2l-5-0.2l-5-0.6l-5-1.1l-4.3-1.3l-4.5-2l-3.2-2l-3-2.7l-1.8-2.3l-1.6-3l-0.8-3l-0.2-4l0.5-3l1.3-4l1.6-3.3l2.4-3.7l2.6-3.1l4-4l8.6-6.9l9.4-6l11.9-6l21.1-9.7l7-1.9l6-0.2l6 1l11 3l5 2.3l4.7 3.5l3.6 4z"/>
<path fill="#faff00" d="M1686.2 869.5l1 3l0.6 3l0.2 3l-0.4 4l-0.8 3l-1.2 3l-2.1 4l-1.9 3l-4.1 4.5l-5 3.6l-7.5 3.9l-10.5 4.2l-12 3.6l-11 2.4l-11 1.3l-5 0l-5-0.3l-5-0.7l-4-1l-4.3-1.5l-3.7-1.9l-3-2.1l-2.1-2l-1.5-2l-1.4-3l-0.7-3l-0.1-3l0.6-3l1-3l1.5-3l2-3l2.7-3.3l4-3.9l8.6-6.8l9.4-5.9l12.3-6.1l14.7-6.2l7-2l4-0.5l3-0.1l7 0.8l7 1.9l5.1 2.1l4.9 3.4l2 2l2 2.6z"/>
<path fill="#ffef00" d="M1682.4 872.5l0.9 3l0.2 2l0 3l-0.5 3l-1.1 3l-2 4l-3.4 5.2l-4.1 3.8l-6.5 4l-7.4 3.5l-10 3.7l-11 3.1l-9 1.6l-10 0.7l-8-0.6l-7-1.6l-6-2.8l-3-2.3l-2-2.1l-1.4-2.2l-0.8-2l-0.4-2l-0.1-3l0.6-3l1.2-3l3.3-5l5.7-6l9-7l8-5l10.9-5.5l12-4.6l7-1.8l7-0.9l6 0.4l6 1.4l5 2.1l2.9 1.9l2.1 1.8l3.4 4.2z"/>
<path fill="#ffd900" d="M1677.8 874.5l0.9 4l-0.2 3l-0.5 2l-2.7 6l-1.8 2.9l-1.8 2.1l-4.2 3.6l-5.5 3.4l-6.5 3.1l-9 3.5l-9 2.5l-8 1.5l-8 0.7l-7-0.4l-7-1.6l-5-2.3l-3.7-3l-1.5-2l-0.9-2l-0.6-2l-0.1-2l0.3-2l0.9-3l3.1-5l4.6-5l7.2-6l7.6-5l9.1-4.7l9-3.5l7-2l7-1l6-0.1l5 0.9l5 1.8l4 2.7l3.6 3.9z"/>
<path fill="#ffc300" d="M1671.3 875.5l0.9 4l-0.4 4l-1.5 4l-2.8 4.1l-4 3.8l-4.6 3.1l-5.8 3l-7.4 3l-7.2 2.1l-7 1.5l-7 0.6l-6-0.2l-5.1-1l-4.7-2l-2.2-1.6l-1.4-1.4l-1.7-3l-0.4-3l0.2-2l0.6-2l2.3-4l4.3-5l5.1-4.4l6-4.1l6.4-3.5l7.1-3l6.5-1.9l6-1.2l6-0.3l5 0.6l4 1.2l4 2.3l3 3.1z"/>
<path fill="#ffae00" d="M1663.5 878.5l0.5 3l-0.4 3l-1.3 3l-1.8 2.6l-2.4 2.4l-4.1 3l-3.6 2l-4.9 2.2l-5.4 1.8l-5.6 1.3l-5 0.6l-5 0l-4-0.6l-3.7-1.3l-2.7-2l-1.4-2l-0.5-3l0.7-3l1.6-3l2.4-3l3.1-3l4.5-3.3l4.6-2.7l5.4-2.4l5-1.7l5-1l5-0.3l4 0.3l3 0.8l3 1.5l2.2 1.8z"/>
<path fill="#ff9800" d="M1650.5 883l0.4 1.5l-0.1 1l-1.3 2.7l-2.3 2.3l-3.7 2.2l-5 1.6l-5 0.6l-2-0.2l-2-0.6l-1.1-0.6l-1-1l-0.4-2l0.7-2l0.8-1.2l3-2.8l5-2.8l5-1.4l4-0.2l3 0.9l1 0.7z"/>
</g>
<path fill="none" stroke="#333" stroke-opacity="0.8" stroke-width="0.85" d="M1659.3 563.5l-0.5 3l-0.2 3l0.1 4l0.3 4l1.5 8.6l1 4.1l1.6 5.3l2.4 5.5l2.4 3.5l1.6 1.6l2 1.3l1 0.4l2 0.2l1.9-0.5l1.1-0.7l1-0.9l1-1.3l1.4-3.1l1.5-5l1.9-10l1.1-9l0.1-6l-0.5-8M1744.2 563.5l2.3 9l3.1 16l4.1 27l3.8 32l1.4 14l2 34l1.4 21l1.1 25l1.1 10l1.4 9l2.1 10l2.3 10l3.8 15l2.9 10l3.5 11l2.8 8l8.8 23l4.8 15l4.2 14l2.2 8l1.6 7l1.4 7l1 7l0.4 7l-0.3 6l-0.9 5.2l-0.9 2.8l-1.2 3l-1.5 3l-1.4 2l-3.4 4l-3.6 3.2l-6.7 4.8M1608.5 586.2l-1 0.3l-1 0.7l-2 2.1l-2.4 4.2l-2 5l-1.6 6.9l-1.7 10.1l-0.8 7l-0.2 5l0.3 5l0.9 6l1.7 7l1.8 5.6l2 3.7l2 2.5l2 1.5l2 0.7l1 0l1-0.1l2-0.9l2-1.7l2-2.7l1.7-3.6l1.6-5l1.5-7l0.8-6l0.2-6l-0.4-6l-1.4-9l-1.7-9l-1.4-5l-1.9-4.5l-1.4-2.5l-1.6-2.2l-2-1.7l-1-0.4zM1712.5 706.8l-2 0.7l-1 0.5l-1.9 1.5l-1.1 1.2l-2.5 3.8l-2 5l-1.7 6l-1.4 8l-0.2 3l-0.1 4l0.6 5l1.2 5l1.7 4l3 5l3.4 3.9l3 2.5l2 1.2l2 0.9l2 0.6l2 0.3l2 0l2-0.2l3.4-1.2l3-2l2.7-3l1.3-2l1-2l1.3-4l0.7-5l0-5l-0.6-5l-1.5-6l-2.5-7l-3.5-7l-3.3-5.2l-3-3.6l-3-2.4l-2-1l-2-0.6l-2-0.1zM1593.5 780.4l-3 0.5l-2 0.9l-2 1.5l-2 2.2l-1.3 2l-1.3 3l-0.5 2l-0.4 3l0.1 3l0.3 2l1 3l1.1 2l2 2.4l2 1.4l2 0.9l2 0.4l2 0l3-0.9l2-1.2l2-1.7l1.7-2.3l1.3-2.5l0.8-2.5l0.5-3l-0.1-3l-0.6-3l-1.1-3l-1.5-2.5l-2-2.2l-2-1.4l-2-0.8zM1478.5 893.4l3-10.2l1.2-5.7l0.2-4l-0.6-10l0.4-4l8.6-40l4.9-26l6.9-54l3.9-40l1.7-20l2.8-44l4.6-64l0.3-8M1583.9 563.5l0.2 4l0 5l-1.1 34l-0.3 15l0.4 12l0.7 11l1.5 12l0.7 4l1 4l1.9 6l1.6 4.2l2 4.4l2.5 4.4l2.5 3.8l3 3.5l3 2.4l2 0.9l2 0.4l3-0.3l3-1.3l3-2l3-2.7l2-2.1l3-3.6l2.8-4l3.1-5l2.6-5l1.9-4l4.6-10.8l3-5.8l1-1.5l2-2.3l2-1.3l1-0.3l1-0.2l2 0.3l2 0.8l2 1.2l18.6 13.9l3.4 2.9l2.2 3.1l1.7 4l1.7 6l1.2 6l0.7 6l0.3 5l-0.1 32l0.2 8l0.6 8l0.8 6l1.5 7l1.6 5l2.4 6l2.6 5l3.6 5.7l3 3.9l4 4.3l3 2.7l4 3.2l13.1 9.2l6.9 5.4l6 5.6l3 3.2l3.2 3.8l3.7 5l2.7 4l3.7 6l3.3 6l1.9 4l1.6 4l4.3 12l3.1 10l1.9 8l1.4 8l0.5 8l-0.2 7l-0.9 7l-0.7 3l-1.3 4l-2.4 5l-3.4 5l-3.4 3.7l-5 4.1l-4.9 3.2l-6 3l-7.1 3.1l-7 2.6l-15.7 5.3M1594.5 754.9l-2-0.1l-2 0.5l-2 0.8l-2 1.2l-2 1.4l-3 2.7l-3 3.2l-2 2.4l-4 5.9l-3.4 6.6l-1.6 4l-1.3 4l-1.3 6l-0.5 5l0.4 5l0.4 2l1 3l2 4l1.4 2l1.8 2l2.2 2l1.9 1.4l2 1.2l2 0.9l2 0.7l3 0.7l2 0.1l3-0.1l3-0.5l2-0.6l3-1.2l2-1.1l2-1.3l2-1.6l2-2l2-2.3l2.8-4.3l1.4-3l1.1-3l0.8-3l0.5-3l0.3-3l0.1-3l-0.2-3l-0.5-4l-0.6-3l-1.2-4l-2.5-6.3l-3-5.3l-2-2.8l-2-2.2l-2-1.9l-2-1.4l-2-1.1zM1495.6 946.5l-1.1-3l-0.7-4l-0.4-4l-0.2-5l0.1-6l0.5-5l0.7-5l1-5.5l1.3-5.5l1.7-6l7-22l4.5-13l6.3-16l2.5-8l2.2-8l1.7-8l1.2-7l1-8l0.7-8l0.3-8l0.9-63l0.8-34l2.9-69l1.1-21l2.1-28l0.8-7l0.7-3l0.9-3M1531 946.5l-2.7-3l-2.8-3.8l-2-3.3l-1.8-3.9l-1.4-4l-1-4l-0.6-4l-0.2-4l0.1-4l0.4-4l1-6l1.2-5l1.7-6l1.8-5l2.4-6l2.8-6l5-9l5.6-8.3l3-3.7l2.8-3l2.2-2.1l2.5-1.9l4.5-2.4l5-1.9l6-1.5l18-3.6l6-1.7l5-1.9l7-3.6l5-3.3l5-4.4l4-4.7l3.9-6l1.6-3l1.6-4l1.4-4l0.8-3l1.3-8l0.5-7l-0.1-9l-0.7-7l-1.9-13l-0.3-5l0.1-4l0.3-3l0.6-3l0.9-3.4l2-5.1l3-5.5l3-4.4l4-4.9l4-3.8l3-2.2l3-1.4l3-0.4l2 0.2l1 0.4l2 1.3l2 2.3l2 3.6l2 5.2l3 9.4l8.7 30.7l2.8 7l2.8 6l2.1 4l4.5 7l4.1 5.3l6 6.7l16 16l6.5 7l8.3 10l8.1 11l2.5 4l2.2 4l2.7 6l2.1 5l1.7 5l1 4l0.9 5l0.4 4l0.2 6l-0.6 7l-1.4 6l-1.7 5l-2.1 4l-3.4 5l-3.5 4l-4.3 4l-3.7 3l-4.3 3l-5.6 3.4l-5 2.5l-5.3 2.1l-7.7 2.7l-16 4.7l-4.6 1.6l-4.4 1.9l-5.9 3.1M1592.5 946.5l-6-0.6l-6-1.1l-9-2.3l-6.2-2l-4.8-1.9l-4-2.1l-4.3-3l-3.3-3l-2.4-3l-2.4-4l-1.5-4l-0.9-5l-0.1-5l0.6-5l1.3-5l1.7-5l1.8-4l2.6-5l2.5-4l2.9-4l2.5-3.1l3.7-3.9l3.3-3.2l3.3-2.8l7.7-5.6l7-4.1l7-3.7l21.9-10.6l5.6-3l5.5-3.7l5.1-4.3l2.9-3l3.4-4l4-6l3.5-7l6.1-15l1.8-3l1.2-1.5l1.8-1.5l1.2-0.6l2-0.3l1 0l2 0.5l2 1l2 1.2l3 2.4l16 13.9l12 11.7l8.8 9.2l9.6 11l5.2 7l3.3 6l3.2 7l2.1 6l1.4 6l0.7 6l0 6l-0.9 6l-1.3 5l-2.1 5l-2.2 4l-3.5 5l-3.3 3.5l-4 3.5l-5 3.6l-6 3.4l-6.2 3l-4.8 1.9l-6 2l-28 8.5l-19 4.1l-9 1.7l-16 2.8l-9.5 1M1703.8 860.5l1.6 4l1.1 4l0.8 5l0.1 4l-0.2 4l-0.7 4l-1.2 4l-1.7 4l-2.4 4l-3 4l-2.7 3l-4 3.7l-3 2.3l-4 2.5l-4.7 2.5l-4.8 2l-8.5 2.9l-12 3.5l-10.3 2.6l-8.7 1.9l-9 1.5l-8 0.9l-9 0.6l-7-0.1l-7-0.6l-6-1.1l-6-1.7l-5-2.1l-4-2.3l-4-3.2l-1.7-1.8l-1.5-2l-1.2-2l-0.9-2l-1.1-4l-0.3-4l0.6-5l1.5-5l2.3-5l3.1-5l4.2-5.4l4.5-4.6l4.5-3.9l4-3.2l4.2-2.9l4.8-3l8-4.4l15-7.1l5-2.6l4.7-2.9l14.3-10l5-2.9l5-2.2l3-0.9l3-0.6l3-0.3l3 0.2l3 0.4l3 0.9l2 0.8l3 1.6l4 2.8l4 3.4l5 4.7l3.9 4.1l3.1 3.7l2.4 3.3l1.9 3zM1682.4 872.5l0.9 3l0.2 2l0 3l-0.5 3l-1.1 3l-2 4l-1.8 3l-1.6 2.2l-1.8 1.8l-2.3 2l-3 2l-3.5 2l-7.4 3.5l-10 3.7l-11 3.1l-4 0.8l-5 0.8l-5 0.5l-5 0.2l-4-0.1l-4-0.5l-4-0.7l-3-0.9l-3.3-1.4l-2.7-1.4l-3-2.3l-2-2.1l-1.4-2.2l-0.8-2l-0.4-2l-0.1-3l0.6-3l1.2-3l1.1-2l2.2-3l2.6-3l3.1-3l4.9-4l4.1-3l3.9-2.6l4.1-2.4l5.7-3l5.2-2.5l6-2.4l6-2.2l3-0.9l4-0.9l4-0.6l3-0.3l3 0.1l3 0.3l3 0.5l3 0.9l5 2.1l2.9 1.9l2.1 1.8l2 2.2l1.4 2l1.1 2z"/>
</svg>
<rect x="1479.5" y="564.5" width="396.8" height="381.0" fill="none" stroke="#000" stroke-width="3"/>
<path d="M1479.5 945.5v8.5M1506.0 945.5v4.0M1532.4 945.5v4.0M1558.9 945.5v4.0M1585.3 945.5v4.0M1611.8 945.5v8.5M1638.2 945.5v4.0M1664.7 945.5v4.0M1691.1 945.5v4.0M1717.6 945.5v4.0M1744.0 945.5v8.5M1770.5 945.5v4.0M1796.9 945.5v4.0M1823.4 945.5v4.0M1849.8 945.5v4.0M1876.3 945.5v8.5M1479.5 945.5h-8.5M1479.5 926.5h-4.0M1479.5 907.4h-4.0M1479.5 888.4h-4.0M1479.5 869.3h-4.0M1479.5 850.2h-8.5M1479.5 831.2h-4.0M1479.5 812.1h-4.0M1479.5 793.1h-4.0M1479.5 774.0h-4.0M1479.5 755.0h-8.5M1479.5 736.0h-4.0M1479.5 716.9h-4.0M1479.5 697.9h-4.0M1479.5 678.8h-4.0M1479.5 659.8h-8.5M1479.5 640.7h-4.0M1479.5 621.6h-4.0M1479.5 602.6h-4.0M1479.5 583.5h-4.0M1479.5 564.5h-8.5" stroke="#000" stroke-width="3" fill="none"/>
<g font-size="26.4" text-anchor="middle">
<text transform="translate(1479.8 978.3) scale(0.927 1)">0</text>
<text transform="translate(1612.1 978.3) scale(0.927 1)">5</text>
<text transform="translate(1744.3 978.3) scale(0.927 1)">10</text>
<text transform="translate(1876.6 978.3) scale(0.927 1)">15</text>
</g>
<g font-size="26.4" text-anchor="end">
<text transform="translate(1465.9 953.3) scale(0.927 1)">1.0</text>
<text transform="translate(1465.9 858.0) scale(0.927 1)">1.5</text>
<text transform="translate(1465.9 762.8) scale(0.927 1)">2.0</text>
<text transform="translate(1465.9 667.5) scale(0.927 1)">2.5</text>
<text transform="translate(1465.9 572.3) scale(0.927 1)">3.0</text>
</g>
<text x="1678.1" y="1012.7" font-size="32.3" text-anchor="middle"><tspan font-style="italic">k</tspan> (Å<tspan font-size="21.5" dy="-14.3">-1</tspan><tspan dy="14.3">)</tspan></text>
<text transform="translate(1415.0 757.0) rotate(-90)" font-size="32.3" text-anchor="middle">R (Å)</text>
<text x="1412.5" y="522.8" font-size="48.5">f</text>
<g font-size="25.1" fill="#ffff00">
<text x="1871.8" y="593.8" text-anchor="end">Zn-SA/CNCl-1000</text>
<text x="1862.0" y="639.0" text-anchor="end">Cl-K edge</text>
</g>
<text x="1611.2" y="898.2" font-size="24.6" fill="#ffff00">Cl-C</text>
<rect x="1900.8" y="564.3" width="55.0" height="8.1" fill="#808080"/>
<rect x="1900.8" y="937.8" width="55.0" height="7.9" fill="#000"/>
<rect x="1900.8" y="929.89" width="55.0" height="7.91" fill="#0000ff"/>
<rect x="1900.8" y="922.28" width="55.0" height="7.91" fill="#0016ff"/>
<rect x="1900.8" y="914.66" width="55.0" height="7.91" fill="#002bff"/>
<rect x="1900.8" y="907.05" width="55.0" height="7.91" fill="#0041ff"/>
<rect x="1900.8" y="899.44" width="55.0" height="7.91" fill="#0057ff"/>
<rect x="1900.8" y="891.83" width="55.0" height="7.91" fill="#006dff"/>
<rect x="1900.8" y="884.21" width="55.0" height="7.91" fill="#0082ff"/>
<rect x="1900.8" y="876.60" width="55.0" height="7.91" fill="#0098ff"/>
<rect x="1900.8" y="868.99" width="55.0" height="7.91" fill="#00aeff"/>
<rect x="1900.8" y="861.38" width="55.0" height="7.91" fill="#00c3ff"/>
<rect x="1900.8" y="853.76" width="55.0" height="7.91" fill="#00d9ff"/>
<rect x="1900.8" y="846.15" width="55.0" height="7.91" fill="#00efff"/>
<rect x="1900.8" y="838.54" width="55.0" height="7.91" fill="#00fffa"/>
<rect x="1900.8" y="830.93" width="55.0" height="7.91" fill="#00ffe4"/>
<rect x="1900.8" y="823.31" width="55.0" height="7.91" fill="#00ffce"/>
<rect x="1900.8" y="815.70" width="55.0" height="7.91" fill="#00ffb8"/>
<rect x="1900.8" y="808.09" width="55.0" height="7.91" fill="#00ffa3"/>
<rect x="1900.8" y="800.48" width="55.0" height="7.91" fill="#00ff8d"/>
<rect x="1900.8" y="792.86" width="55.0" height="7.91" fill="#00ff77"/>
<rect x="1900.8" y="785.25" width="55.0" height="7.91" fill="#00ff62"/>
<rect x="1900.8" y="777.64" width="55.0" height="7.91" fill="#00ff4c"/>
<rect x="1900.8" y="770.03" width="55.0" height="7.91" fill="#00ff36"/>
<rect x="1900.8" y="762.41" width="55.0" height="7.91" fill="#00ff21"/>
<rect x="1900.8" y="754.80" width="55.0" height="7.91" fill="#00ff0b"/>
<rect x="1900.8" y="747.19" width="55.0" height="7.91" fill="#0bff00"/>
<rect x="1900.8" y="739.58" width="55.0" height="7.91" fill="#21ff00"/>
<rect x="1900.8" y="731.96" width="55.0" height="7.91" fill="#36ff00"/>
<rect x="1900.8" y="724.35" width="55.0" height="7.91" fill="#4cff00"/>
<rect x="1900.8" y="716.74" width="55.0" height="7.91" fill="#62ff00"/>
<rect x="1900.8" y="709.12" width="55.0" height="7.91" fill="#77ff00"/>
<rect x="1900.8" y="701.51" width="55.0" height="7.91" fill="#8dff00"/>
<rect x="1900.8" y="693.90" width="55.0" height="7.91" fill="#a3ff00"/>
<rect x="1900.8" y="686.29" width="55.0" height="7.91" fill="#b8ff00"/>
<rect x="1900.8" y="678.68" width="55.0" height="7.91" fill="#ceff00"/>
<rect x="1900.8" y="671.06" width="55.0" height="7.91" fill="#e4ff00"/>
<rect x="1900.8" y="663.45" width="55.0" height="7.91" fill="#faff00"/>
<rect x="1900.8" y="655.84" width="55.0" height="7.91" fill="#ffef00"/>
<rect x="1900.8" y="648.23" width="55.0" height="7.91" fill="#ffd900"/>
<rect x="1900.8" y="640.61" width="55.0" height="7.91" fill="#ffc300"/>
<rect x="1900.8" y="633.00" width="55.0" height="7.91" fill="#ffae00"/>
<rect x="1900.8" y="625.39" width="55.0" height="7.91" fill="#ff9800"/>
<rect x="1900.8" y="617.78" width="55.0" height="7.91" fill="#ff8200"/>
<rect x="1900.8" y="610.16" width="55.0" height="7.91" fill="#ff6d00"/>
<rect x="1900.8" y="602.55" width="55.0" height="7.91" fill="#ff5700"/>
<rect x="1900.8" y="594.94" width="55.0" height="7.91" fill="#ff4100"/>
<rect x="1900.8" y="587.33" width="55.0" height="7.91" fill="#ff2b00"/>
<rect x="1900.8" y="579.71" width="55.0" height="7.91" fill="#ff1600"/>
<rect x="1900.8" y="572.10" width="55.0" height="7.91" fill="#ff0000"/>
<rect x="1900.8" y="564.3" width="55.0" height="381.4" fill="none" stroke="#000" stroke-width="1"/>
<g font-size="17.9">
<text x="1965.1" y="944.1">0.00</text>
<text x="1965.1" y="898.4">0.03</text>
<text x="1965.1" y="852.7">0.05</text>
<text x="1965.1" y="807.1">0.08</text>
<text x="1965.1" y="761.4">0.11</text>
<text x="1965.1" y="715.7">0.13</text>
<text x="1965.1" y="670.0">0.16</text>
<text x="1965.1" y="624.4">0.18</text>
<text x="1965.1" y="578.7">0.21</text>
</g>
<path d="M1955.8 937.8h7.5M1955.8 892.1h7.5M1955.8 846.4h7.5M1955.8 800.8h7.5M1955.8 755.1h7.5M1955.8 709.4h7.5M1955.8 663.8h7.5M1955.8 618.1h7.5M1955.8 572.4h7.5" stroke="#333" stroke-width="1.3" fill="none"/>
</g>
</svg>
</body></html>
